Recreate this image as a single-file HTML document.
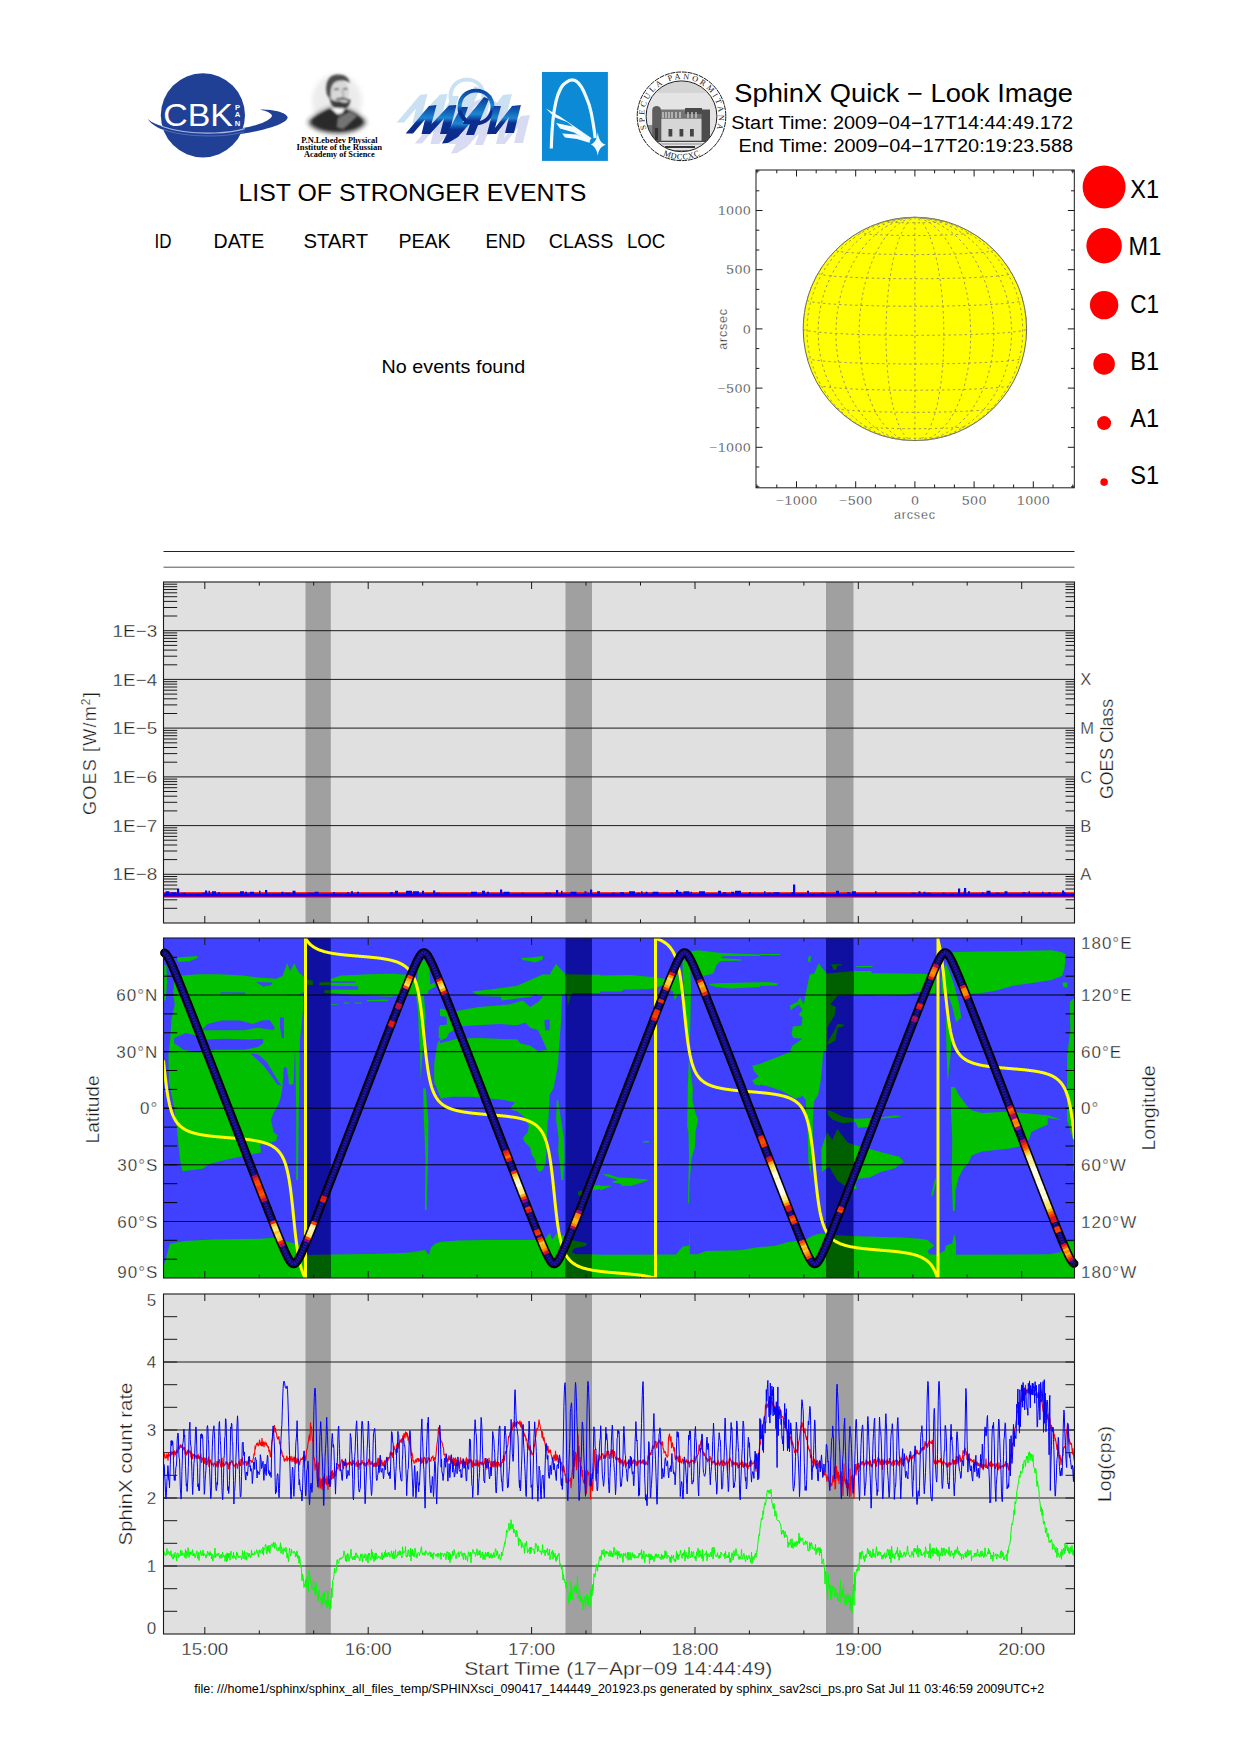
<!DOCTYPE html><html><head><meta charset="utf-8"><title>SphinX Quick-Look</title>
<style>html,body{margin:0;padding:0;background:#fff}svg{display:block}text{font-family:"Liberation Sans",sans-serif}.s text{font-family:"Liberation Serif",serif}.h{fill:#1c1c1c;stroke:#fff;stroke-width:.3px}</style></head><body>
<svg width="1240" height="1754" viewBox="0 0 1240 1754">
<rect width="1240" height="1754" fill="#fff"/>
<defs><filter id="bl1" x="-20%" y="-20%" width="140%" height="140%"><feGaussianBlur stdDeviation="1.3"/></filter><filter id="bl2" x="-30%" y="-30%" width="160%" height="160%"><feGaussianBlur stdDeviation="2.6"/></filter><filter id="bl0" x="-10%" y="-10%" width="120%" height="120%"><feGaussianBlur stdDeviation="0.5"/></filter><linearGradient id="mg" x1="0" y1="0" x2="0" y2="1"><stop offset="0" stop-color="#0a3a9a"/><stop offset="0.45" stop-color="#1c86d2"/><stop offset="0.62" stop-color="#0b2f92"/><stop offset="1" stop-color="#0a2a86"/></linearGradient></defs>
<circle cx="202.9" cy="115.3" r="42.1" fill="#1f4095"/>
<path d="M147.7,118.5 C152,128 175,136.6 205,136.6 C240,136.6 286,127 287.7,117.5 C286.5,112 272,109.3 260,109.5 C268,111.5 273.5,114 271.5,117 C266,124 245,128.5 230,130 C200,133.5 170,129.5 160,125.5 C152,122.5 149,120.5 147.7,118.5Z" fill="#1f4095"/>
<path d="M161.5,126.2 C175,131 195,133.6 215,133 C228,132.5 238,130.7 244.8,128.6" fill="none" stroke="#a9b8e0" stroke-width="1.1"/>
<path d="M163,129.5 C178,135 200,136.5 218,135.8 C230,135.2 238,133.6 244,131.8" fill="none" stroke="#5d78bd" stroke-width="0.8"/>
<text x="163.2" y="125.6" font-size="30.6" fill="#fff" textLength="69.7" lengthAdjust="spacingAndGlyphs" >CBK</text>
<g font-size="7.6" font-weight="bold" fill="#fff" text-anchor="middle"><text x="237.5" y="109.6">P</text><text x="237.5" y="117.4">A</text><text x="237.5" y="125.5">N</text></g>
<g filter="url(#bl2)"><ellipse cx="337" cy="101" rx="25" ry="27" fill="#ececec"/></g>
<g filter="url(#bl2)"><path d="M308,122 C316,114 326,110 331,108 L346,109 C354,112 361,116 366,122 C362,129 351,133 338,133 C324,133 312,129 308,122Z" fill="#262626"/></g>
<g filter="url(#bl1)"><path d="M312,121 C318,115 326,111.5 331,109 L345,110 C352,112.5 358,116 362,121 C359,126 350,130 338,130 C326,130 316,126 312,121Z" fill="#2a2a2a"/><path d="M338,118 L350,111.5 L357,116 L343,129 L337,127Z" fill="#737373"/><ellipse cx="339" cy="92.5" rx="10" ry="13" fill="#d8d8d8"/><path d="M327,95 C324,83 329,74.5 337,74.5 C344,74 349,77.5 350,83 C346,80 339,79.5 334,83 C331,86 330,92 331,100Z" fill="#4e4e4e"/><path d="M329.5,97 C330,104 334,110 340,110 C346,110 350,106 350.5,100 C347,103.5 343,103 340,101 C336,102 332,101 329.5,97Z" fill="#3c3c3c"/><path d="M334,89.5 L339,89 M343,88.8 L347.5,88.8" stroke="#3a3a3a" stroke-width="1.4" fill="none"/><path d="M342,90 L344,97 L341,98" stroke="#8a8a8a" stroke-width="1" fill="none"/><path d="M336,99.5 C340,98 345,98.5 350,100.5" stroke="#333" stroke-width="1.6" fill="none"/><path d="M330,107.5 L337,114 L342,113.5 L345,108.5Z" fill="#f6f6f6"/><path d="M337,114 L340,119 L343,113.5Z" fill="#555"/></g>
<g class="s" font-weight="bold" font-size="8.6"><text x="301.3" y="142.8" textLength="76.2" lengthAdjust="spacingAndGlyphs">P.N.Lebedev Physical</text><text x="296.5" y="149.8" textLength="85.5" lengthAdjust="spacingAndGlyphs">Institute of the Russian</text><text x="304" y="157" textLength="70.7" lengthAdjust="spacingAndGlyphs">Academy of Science</text></g>
<g filter="url(#bl0)"><g transform="translate(-9,-11)" fill="#c0dcf0" stroke="none" opacity="0.85"><path d="M405.7,133.5 L429,106 L436.5,105 L431.5,124 L449,105.5 L456.5,105 L449,134 L440,134 L444,118.5 L430,134 L421.5,134 L425,119.5 L413,133.5Z"/><path d="M461,107 L468,107 L462,125 L476,109 L480,112 L458,137 L448,143 L442,143.5Z"/><path d="M476,88.7 C487,88.7 494.6,96.5 494.6,106.8 C494.6,118 486,125.5 475.5,125.5 C465,125.5 457.5,117.5 457.5,107 C457.5,96.5 465,88.7 476,88.7Z M476,92.6 C467.5,92.6 461.6,98.8 461.6,107 C461.6,115.2 467.5,121.6 475.5,121.6 C484,121.6 490.5,115.6 490.5,106.8 C490.5,98.6 484.5,92.6 476,92.6Z" fill-rule="evenodd"/><path d="M484,97 L489,99 L474,135 L466,135 L470,124 L462,124 Z"/><path d="M494,106 L501,106 L495,128 L512,106 L520.9,105 L514,133 L505,133 L509,117 L496,134 L487,134Z"/></g><g transform="translate(9,10)" fill="#d2d5f0" stroke="none" opacity="0.85"><path d="M405.7,133.5 L429,106 L436.5,105 L431.5,124 L449,105.5 L456.5,105 L449,134 L440,134 L444,118.5 L430,134 L421.5,134 L425,119.5 L413,133.5Z"/><path d="M461,107 L468,107 L462,125 L476,109 L480,112 L458,137 L448,143 L442,143.5Z"/><path d="M476,88.7 C487,88.7 494.6,96.5 494.6,106.8 C494.6,118 486,125.5 475.5,125.5 C465,125.5 457.5,117.5 457.5,107 C457.5,96.5 465,88.7 476,88.7Z M476,92.6 C467.5,92.6 461.6,98.8 461.6,107 C461.6,115.2 467.5,121.6 475.5,121.6 C484,121.6 490.5,115.6 490.5,106.8 C490.5,98.6 484.5,92.6 476,92.6Z" fill-rule="evenodd"/><path d="M484,97 L489,99 L474,135 L466,135 L470,124 L462,124 Z"/><path d="M494,106 L501,106 L495,128 L512,106 L520.9,105 L514,133 L505,133 L509,117 L496,134 L487,134Z"/></g></g>
<g transform="translate(0,0)" fill="url(#mg)" stroke="none" opacity="1"><path d="M405.7,133.5 L429,106 L436.5,105 L431.5,124 L449,105.5 L456.5,105 L449,134 L440,134 L444,118.5 L430,134 L421.5,134 L425,119.5 L413,133.5Z"/><path d="M461,107 L468,107 L462,125 L476,109 L480,112 L458,137 L448,143 L442,143.5Z"/><path d="M476,88.7 C487,88.7 494.6,96.5 494.6,106.8 C494.6,118 486,125.5 475.5,125.5 C465,125.5 457.5,117.5 457.5,107 C457.5,96.5 465,88.7 476,88.7Z M476,92.6 C467.5,92.6 461.6,98.8 461.6,107 C461.6,115.2 467.5,121.6 475.5,121.6 C484,121.6 490.5,115.6 490.5,106.8 C490.5,98.6 484.5,92.6 476,92.6Z" fill-rule="evenodd"/><path d="M484,97 L489,99 L474,135 L466,135 L470,124 L462,124 Z"/><path d="M494,106 L501,106 L495,128 L512,106 L520.9,105 L514,133 L505,133 L509,117 L496,134 L487,134Z"/></g>
<rect x="542" y="72" width="65.9" height="88.9" fill="#0c8ad6"/>
<path d="M551.3,148.5 C551.5,140 551.8,135 552.1,130.3 C552.6,122 553.8,111 556,101.3 C558,93 562,84.5 566.2,82.4 C569,80.3 571,79.9 572,79.9 C574,79.9 576,80.6 577.8,82.4 C580.5,85 582.6,88.7 584.3,92.6 C586.3,97 588,101.5 589.4,105.6 C591,111 592.2,117 593.1,123.1 C594,128.5 594.7,133.5 595.2,138" fill="none" stroke="#f2fbff" stroke-width="3.2" stroke-linecap="butt"/>
<path d="M545.9,108.5 L560,116.5 L591.6,138.3 L590,139.8 L567,122 L554.6,117.3Z M556,123 L575,127 L590.5,139.5 L589.5,141.3 L574,132.6 L560,128.6Z M562.2,133.6 L577,134.5 L590,141 L589.5,142.8 L577,139 L565,137.6Z" fill="#f2fbff"/>
<path d="M597.8,132.1 C598.6,139 600.5,143 605.8,144.8 C600.5,146.6 598.8,150 597.8,155.7 C596.8,150 595,146.5 590.9,144.5 C595,142.8 597,139 597.8,132.1Z" fill="#f2fbff"/>
<circle cx="681.5" cy="116.3" r="44.3" fill="#fff" stroke="#1a1a1a" stroke-width="1" stroke-dasharray="5,0.8"/>
<defs><clipPath id="sc"><circle cx="681.5" cy="116.3" r="35.3"/></clipPath><path id="sp1" d="M647.0,130.2 A37.2,37.2 0 1 1 716.0,130.2"/><path id="sp2" d="M661.3,154.3 A43.0,43.0 0 0 0 701.7,154.3"/></defs>
<g clip-path="url(#sc)"><rect x="640" y="75" width="84" height="84" fill="#e4e4e4"/><rect x="640" y="75" width="84" height="18" fill="#d4d4d4"/><rect x="646" y="125" width="8" height="17" fill="#8a8a8a"/><path d="M652.2,141 V110 C652.2,104.5 661,104.5 661,110 V141Z" fill="#5e5e5e"/><rect x="661" y="109.5" width="41" height="10" fill="#747474"/><rect x="685" y="108" width="17" height="6" fill="#4a4a4a"/><rect x="701.8" y="109.5" width="8.2" height="31.5" fill="#4c4c4c"/><rect x="661" y="118.2" width="40.8" height="22.8" fill="#d6d6d6" stroke="#555" stroke-width="0.6"/><path d="M663,112v6M666,112v6M669,112v6M672,112v6M676,112v6M680,112v6M688,112v6M692,112v6M696,112v6" stroke="#ddd" stroke-width="1.2"/><rect x="668.5" y="129" width="3.8" height="7.5" fill="#444"/><rect x="679.5" y="129" width="3.8" height="7.5" fill="#444"/><rect x="690" y="129" width="3.8" height="7.5" fill="#444"/><rect x="655" y="128" width="3" height="12" fill="#333"/><rect x="640" y="141" width="84" height="1" fill="#444"/><rect x="640" y="143.6" width="84" height="0.8" fill="#777"/><rect x="665" y="146" width="30" height="2" fill="#333"/><rect x="668" y="150" width="24" height="1" fill="#888"/></g>
<circle cx="681.5" cy="116.3" r="35.4" fill="none" stroke="#222" stroke-width="1"/>
<g class="s" font-size="8.2" fill="#111"><text><textPath href="#sp1" startOffset="50%" text-anchor="middle" textLength="142" lengthAdjust="spacing">SPECULA PANORMITANA</textPath></text><text><textPath href="#sp2" startOffset="50%" text-anchor="middle" textLength="38" lengthAdjust="spacing">MDCCXC</textPath></text></g>
<text x="734.3" y="102.2" font-size="25" fill="#000" textLength="338.7" lengthAdjust="spacingAndGlyphs" >SphinX Quick − Look Image</text>
<text x="731.3" y="129.1" font-size="18" fill="#000" textLength="341.7" lengthAdjust="spacingAndGlyphs" >Start Time: 2009−04−17T14:44:49.172</text>
<text x="738.5" y="152" font-size="18" fill="#000" textLength="334.5" lengthAdjust="spacingAndGlyphs" >End Time: 2009−04−17T20:19:23.588</text>
<text x="238.5" y="200.7" font-size="24" fill="#000" textLength="347.8" lengthAdjust="spacingAndGlyphs" >LIST OF STRONGER EVENTS</text>
<text x="154.5" y="247.7" font-size="20" fill="#000" textLength="17" lengthAdjust="spacingAndGlyphs" >ID</text>
<text x="213.6" y="247.7" font-size="20" fill="#000" textLength="50.6" lengthAdjust="spacingAndGlyphs" >DATE</text>
<text x="303.5" y="247.7" font-size="20" fill="#000" textLength="64.5" lengthAdjust="spacingAndGlyphs" >START</text>
<text x="398.4" y="247.7" font-size="20" fill="#000" textLength="52.3" lengthAdjust="spacingAndGlyphs" >PEAK</text>
<text x="485.5" y="247.7" font-size="20" fill="#000" textLength="39.8" lengthAdjust="spacingAndGlyphs" >END</text>
<text x="548.8" y="247.7" font-size="20" fill="#000" textLength="64.5" lengthAdjust="spacingAndGlyphs" >CLASS</text>
<text x="626.9" y="247.7" font-size="20" fill="#000" textLength="38.4" lengthAdjust="spacingAndGlyphs" >LOC</text>
<text x="381.6" y="373.3" font-size="19" fill="#000" textLength="143.7" lengthAdjust="spacingAndGlyphs" >No events found</text>
<rect x="756.0" y="170.0" width="318.29999999999995" height="317.8" fill="#fff" stroke="#1a1a1a" stroke-width="1"/>
<path d="M757.0,487.8v-3.3M757.0,170.0v3.3M756.0,486.8h3.3M1074.3,486.8h-3.3M776.8,487.8v-3.3M776.8,170.0v3.3M756.0,467.0h3.3M1074.3,467.0h-3.3M796.5,487.8v-6.5M796.5,170.0v6.5M756.0,447.3h6.5M1074.3,447.3h-6.5M816.2,487.8v-3.3M816.2,170.0v3.3M756.0,427.6h3.3M1074.3,427.6h-3.3M836.0,487.8v-3.3M836.0,170.0v3.3M756.0,407.8h3.3M1074.3,407.8h-3.3M855.7,487.8v-6.5M855.7,170.0v6.5M756.0,388.1h6.5M1074.3,388.1h-6.5M875.4,487.8v-3.3M875.4,170.0v3.3M756.0,368.4h3.3M1074.3,368.4h-3.3M895.2,487.8v-3.3M895.2,170.0v3.3M756.0,348.6h3.3M1074.3,348.6h-3.3M914.9,487.8v-6.5M914.9,170.0v6.5M756.0,328.9h6.5M1074.3,328.9h-6.5M934.6,487.8v-3.3M934.6,170.0v3.3M756.0,309.2h3.3M1074.3,309.2h-3.3M954.4,487.8v-3.3M954.4,170.0v3.3M756.0,289.4h3.3M1074.3,289.4h-3.3M974.1,487.8v-6.5M974.1,170.0v6.5M756.0,269.7h6.5M1074.3,269.7h-6.5M993.8,487.8v-3.3M993.8,170.0v3.3M756.0,250.0h3.3M1074.3,250.0h-3.3M1013.6,487.8v-3.3M1013.6,170.0v3.3M756.0,230.2h3.3M1074.3,230.2h-3.3M1033.3,487.8v-6.5M1033.3,170.0v6.5M756.0,210.5h6.5M1074.3,210.5h-6.5M1053.0,487.8v-3.3M1053.0,170.0v3.3M756.0,190.8h3.3M1074.3,190.8h-3.3M1072.8,487.8v-3.3M1072.8,170.0v3.3M756.0,171.0h3.3M1074.3,171.0h-3.3" stroke="#1a1a1a" stroke-width="1" fill="none"/>
<circle cx="914.9" cy="328.9" r="111.7" fill="#ffff00" stroke="#555" stroke-width="0.9"/>
<path d="M886.8,437.0L887.4,437.1L888.1,437.2L888.9,437.3L889.9,437.4L890.9,437.5L892.1,437.6L893.4,437.7L894.8,437.8L896.3,437.9L897.9,438.0L899.6,438.0L901.3,438.1L903.1,438.1L905.0,438.2L906.9,438.2L908.9,438.2L910.9,438.3L912.9,438.3L914.9,438.3L916.9,438.3L918.9,438.3L920.9,438.2L922.9,438.2L924.8,438.2L926.7,438.1L928.5,438.1L930.2,438.0L931.9,438.0L933.5,437.9L935.0,437.8L936.4,437.7L937.7,437.6L938.9,437.5L939.9,437.4L940.9,437.3L941.7,437.2L942.4,437.1L943.0,437.0M859.4,425.8L859.9,426.0L860.7,426.3L861.8,426.5L863.1,426.7L864.7,426.9L866.5,427.1L868.6,427.3L870.9,427.5L873.4,427.6L876.1,427.8L879.0,427.9L882.1,428.1L885.3,428.2L888.7,428.3L892.2,428.4L895.8,428.5L899.5,428.6L903.3,428.6L907.1,428.7L911.0,428.7L914.9,428.7L918.8,428.7L922.7,428.7L926.5,428.6L930.3,428.6L934.0,428.5L937.6,428.4L941.1,428.3L944.5,428.2L947.7,428.1L950.8,427.9L953.7,427.8L956.4,427.6L958.9,427.5L961.2,427.3L963.3,427.1L965.1,426.9L966.7,426.7L968.0,426.5L969.1,426.3L969.9,426.0L970.4,425.8M836.3,408.2L837.1,408.5L838.3,408.9L839.8,409.2L841.7,409.5L843.9,409.7L846.5,410.0L849.4,410.3L852.7,410.6L856.2,410.8L860.0,411.0L864.1,411.2L868.5,411.4L873.0,411.6L877.8,411.8L882.8,411.9L887.9,412.0L893.1,412.1L898.5,412.2L903.9,412.3L909.4,412.3L914.9,412.3L920.4,412.3L925.9,412.3L931.3,412.2L936.7,412.1L941.9,412.0L947.0,411.9L952.0,411.8L956.8,411.6L961.3,411.4L965.7,411.2L969.8,411.0L973.6,410.8L977.1,410.6L980.4,410.3L983.3,410.0L985.9,409.7L988.1,409.5L990.0,409.2L991.5,408.9L992.7,408.5L993.5,408.2M818.2,384.9L818.7,385.2L819.6,385.6L821.0,386.0L822.9,386.4L825.2,386.7L828.0,387.1L831.1,387.4L834.7,387.8L838.7,388.1L843.0,388.4L847.7,388.7L852.7,388.9L858.0,389.2L863.6,389.4L869.5,389.6L875.6,389.7L881.8,389.9L888.2,390.0L894.8,390.1L901.4,390.2L908.2,390.2L914.9,390.2L921.6,390.2L928.4,390.2L935.0,390.1L941.6,390.0L948.0,389.9L954.2,389.7L960.3,389.6L966.2,389.4L971.8,389.2L977.1,388.9L982.1,388.7L986.8,388.4L991.1,388.1L995.1,387.8L998.7,387.4L1001.8,387.1L1004.6,386.7L1006.9,386.4L1008.8,386.0L1010.2,385.6L1011.1,385.2L1011.6,384.9M807.1,358.0L807.6,358.4L808.6,358.8L810.2,359.3L812.3,359.7L814.9,360.1L817.9,360.5L821.5,360.9L825.5,361.2L829.9,361.6L834.7,361.9L840.0,362.2L845.5,362.5L851.5,362.8L857.7,363.0L864.2,363.2L871.0,363.4L878.0,363.6L885.2,363.7L892.5,363.8L899.9,363.9L907.4,364.0L914.9,364.0L922.4,364.0L929.9,363.9L937.3,363.8L944.6,363.7L951.8,363.6L958.8,363.4L965.6,363.2L972.1,363.0L978.3,362.8L984.3,362.5L989.8,362.2L995.1,361.9L999.9,361.6L1004.3,361.2L1008.3,360.9L1011.9,360.5L1014.9,360.1L1017.5,359.7L1019.6,359.3L1021.2,358.8L1022.2,358.4L1022.7,358.0M803.3,329.1L803.8,329.6L804.9,330.0L806.5,330.5L808.7,330.9L811.3,331.3L814.5,331.7L818.2,332.1L822.3,332.5L826.9,332.9L831.9,333.2L837.3,333.5L843.1,333.8L849.2,334.1L855.7,334.4L862.5,334.6L869.5,334.8L876.7,334.9L884.1,335.1L891.7,335.2L899.4,335.3L907.1,335.3L914.9,335.3L922.7,335.3L930.4,335.3L938.1,335.2L945.7,335.1L953.1,334.9L960.3,334.8L967.3,334.6L974.1,334.4L980.6,334.1L986.7,333.8L992.5,333.5L997.9,333.2L1002.9,332.9L1007.5,332.5L1011.6,332.1L1015.3,331.7L1018.5,331.3L1021.1,330.9L1023.3,330.5L1024.9,330.0L1026.0,329.6L1026.5,329.1M807.1,300.3L807.6,300.7L808.6,301.1L810.2,301.5L812.3,302.0L814.9,302.4L817.9,302.8L821.5,303.1L825.5,303.5L829.9,303.9L834.7,304.2L840.0,304.5L845.5,304.8L851.5,305.1L857.7,305.3L864.2,305.5L871.0,305.7L878.0,305.9L885.2,306.0L892.5,306.1L899.9,306.2L907.4,306.2L914.9,306.2L922.4,306.2L929.9,306.2L937.3,306.1L944.6,306.0L951.8,305.9L958.8,305.7L965.6,305.5L972.1,305.3L978.3,305.1L984.3,304.8L989.8,304.5L995.1,304.2L999.9,303.9L1004.3,303.5L1008.3,303.1L1011.9,302.8L1014.9,302.4L1017.5,302.0L1019.6,301.5L1021.2,301.1L1022.2,300.7L1022.7,300.3M818.2,273.3L818.7,273.7L819.6,274.1L821.0,274.5L822.9,274.9L825.2,275.2L828.0,275.6L831.1,275.9L834.7,276.3L838.7,276.6L843.0,276.9L847.7,277.1L852.7,277.4L858.0,277.6L863.6,277.9L869.5,278.1L875.6,278.2L881.8,278.4L888.2,278.5L894.8,278.6L901.4,278.7L908.2,278.7L914.9,278.7L921.6,278.7L928.4,278.7L935.0,278.6L941.6,278.5L948.0,278.4L954.2,278.2L960.3,278.1L966.2,277.9L971.8,277.6L977.1,277.4L982.1,277.1L986.8,276.9L991.1,276.6L995.1,276.3L998.7,275.9L1001.8,275.6L1004.6,275.2L1006.9,274.9L1008.8,274.5L1010.2,274.1L1011.1,273.7L1011.6,273.3M836.0,249.9L836.0,250.2L836.3,250.5L837.1,250.8L838.3,251.1L839.8,251.5L841.7,251.8L843.9,252.0L846.5,252.3L849.4,252.6L852.7,252.8L856.2,253.1L860.0,253.3L864.1,253.5L868.5,253.7L873.0,253.9L877.8,254.1L882.8,254.2L887.9,254.3L893.1,254.4L898.5,254.5L903.9,254.5L909.4,254.6L914.9,254.6L920.4,254.6L925.9,254.5L931.3,254.5L936.7,254.4L941.9,254.3L947.0,254.2L952.0,254.1L956.8,253.9L961.3,253.7L965.7,253.5L969.8,253.3L973.6,253.1L977.1,252.8L980.4,252.6L983.3,252.3L985.9,252.0L988.1,251.8L990.0,251.5L991.5,251.1L992.7,250.8L993.5,250.5L993.8,250.2L993.8,249.9M859.1,232.2L859.1,232.4L859.4,232.7L859.9,232.9L860.7,233.1L861.8,233.3L863.1,233.5L864.7,233.7L866.5,233.9L868.6,234.1L870.9,234.3L873.4,234.5L876.1,234.6L879.0,234.8L882.1,234.9L885.3,235.1L888.7,235.2L892.2,235.3L895.8,235.3L899.5,235.4L903.3,235.5L907.1,235.5L911.0,235.5L914.9,235.5L918.8,235.5L922.7,235.5L926.5,235.5L930.3,235.4L934.0,235.3L937.6,235.3L941.1,235.2L944.5,235.1L947.7,234.9L950.8,234.8L953.7,234.6L956.4,234.5L958.9,234.3L961.2,234.1L963.3,233.9L965.1,233.7L966.7,233.5L968.0,233.3L969.1,233.1L969.9,232.9L970.4,232.7L970.7,232.4L970.7,232.2M886.4,220.9L886.1,221.0L886.0,221.1L886.0,221.2L886.1,221.4L886.4,221.5L886.8,221.6L887.4,221.7L888.1,221.8L888.9,221.9L889.9,222.0L890.9,222.1L892.1,222.2L893.4,222.3L894.8,222.4L896.3,222.5L897.9,222.5L899.6,222.6L901.3,222.7L903.1,222.7L905.0,222.7L906.9,222.8L908.9,222.8L910.9,222.8L912.9,222.8L914.9,222.8L916.9,222.8L918.9,222.8L920.9,222.8L922.9,222.8L924.8,222.7L926.7,222.7L928.5,222.7L930.2,222.6L931.9,222.5L933.5,222.5L935.0,222.4L936.4,222.3L937.7,222.2L938.9,222.1L939.9,222.0L940.9,221.9L941.7,221.8L942.4,221.7L943.0,221.6L943.4,221.5L943.7,221.4L943.8,221.2L943.8,221.1L943.7,221.0L943.4,220.9M803.3,325.0L803.8,317.2L804.9,309.5L806.5,301.9L808.7,294.4L811.3,287.1L814.5,280.0L818.2,273.1L822.3,266.5L826.9,260.2L831.9,254.3L837.3,248.7L843.1,243.5L849.2,238.7L855.7,234.3L862.5,230.4L869.5,227.0L876.7,224.1L884.1,221.7L891.7,219.8L899.4,218.5L907.1,217.7L914.9,217.4M885.2,436.6L878.0,434.3L871.0,431.5L864.2,428.1L857.7,424.4L851.5,420.1L845.5,415.4L840.0,410.3L834.7,404.8L829.9,398.9L825.5,392.6L821.5,386.1L817.9,379.3L814.9,372.2L812.3,364.9L810.2,357.5L808.6,349.9L807.6,342.2L807.1,334.5L807.1,326.7L807.6,318.9L808.6,311.2L810.2,303.5L812.3,296.0L814.9,288.7L817.9,281.5L821.5,274.6L825.5,267.9L829.9,261.6L834.7,255.5L840.0,249.8L845.5,244.5L851.5,239.7L857.7,235.2L864.2,231.2L871.0,227.7L878.0,224.7L885.2,222.2L892.5,220.2L899.9,218.7L907.4,217.8L914.9,217.4M901.4,439.8L894.8,438.6L888.2,437.0L881.8,434.8L875.6,432.1L869.5,428.9L863.6,425.2L858.0,421.0L852.7,416.4L847.7,411.4L843.0,405.9L838.7,400.1L834.7,393.9L831.1,387.4L828.0,380.7L825.2,373.7L822.9,366.4L821.0,359.0L819.6,351.4L818.7,343.8L818.2,336.0L818.2,328.2L818.7,320.4L819.6,312.7L821.0,305.0L822.9,297.5L825.2,290.1L828.0,282.9L831.1,275.9L834.7,269.2L838.7,262.8L843.0,256.7L847.7,250.9L852.7,245.5L858.0,240.6L863.6,236.0L869.5,231.9L875.6,228.3L881.8,225.2L888.2,222.6L894.8,220.5L901.4,218.9L908.2,217.9L914.9,217.4M903.9,440.0L898.5,438.9L893.1,437.3L887.9,435.2L882.8,432.6L877.8,429.5L873.0,425.9L868.5,421.8L864.1,417.2L860.0,412.3L856.2,406.9L852.7,401.1L849.4,395.0L846.5,388.6L843.9,381.9L841.7,374.9L839.8,367.7L838.3,360.3L837.1,352.7L836.3,345.1L836.0,337.3L836.0,329.6L836.3,321.8L837.1,314.0L838.3,306.3L839.8,298.8L841.7,291.3L843.9,284.1L846.5,277.1L849.4,270.3L852.7,263.8L856.2,257.7L860.0,251.8L864.1,246.4L868.5,241.4L873.0,236.7L877.8,232.6L882.8,228.9L887.9,225.7L893.1,223.0L898.5,220.8L903.9,219.1L909.4,218.0L914.9,217.4M911.0,440.5L907.1,440.1L903.3,439.1L899.5,437.6L895.8,435.6L892.2,433.0L888.7,430.0L885.3,426.4L882.1,422.4L879.0,417.9L876.1,413.0L873.4,407.7L870.9,401.9L868.6,395.9L866.5,389.5L864.7,382.8L863.1,375.8L861.8,368.7L860.7,361.3L859.9,353.7L859.4,346.1L859.1,338.4L859.1,330.6L859.4,322.8L859.9,315.0L860.7,307.3L861.8,299.7L863.1,292.3L864.7,285.0L866.5,278.0L868.6,271.2L870.9,264.6L873.4,258.4L876.1,252.6L879.0,247.1L882.1,242.0L885.3,237.3L888.7,233.1L892.2,229.3L895.8,226.0L899.5,223.2L903.3,221.0L907.1,219.2L911.0,218.0L914.9,217.4M912.9,440.6L910.9,440.2L908.9,439.3L906.9,437.8L905.0,435.8L903.1,433.3L901.3,430.3L899.6,426.8L897.9,422.8L896.3,418.3L894.8,413.4L893.4,408.1L892.1,402.4L890.9,396.4L889.9,390.0L888.9,383.4L888.1,376.4L887.4,369.3L886.8,361.9L886.4,354.4L886.1,346.7L886.0,339.0L886.0,331.2L886.1,323.4L886.4,315.7L886.8,307.9L887.4,300.3L888.1,292.9L888.9,285.6L889.9,278.5L890.9,271.7L892.1,265.1L893.4,258.9L894.8,253.0L896.3,247.5L897.9,242.3L899.6,237.6L901.3,233.4L903.1,229.6L905.0,226.2L906.9,223.4L908.9,221.1L910.9,219.3L912.9,218.1L914.9,217.4M914.9,440.6L914.9,440.2L914.9,439.3L914.9,437.9L914.9,435.9L914.9,433.4L914.9,430.4L914.9,426.9L914.9,422.9L914.9,418.5L914.9,413.6L914.9,408.3L914.9,402.6L914.9,396.6L914.9,390.2L914.9,383.6L914.9,376.6L914.9,369.5L914.9,362.1L914.9,354.6L914.9,347.0L914.9,339.2L914.9,331.4L914.9,323.6L914.9,315.9L914.9,308.2L914.9,300.6L914.9,293.1L914.9,285.8L914.9,278.7L914.9,271.9L914.9,265.3L914.9,259.1L914.9,253.1L914.9,247.6L914.9,242.5L914.9,237.7L914.9,233.5L914.9,229.6L914.9,226.3L914.9,223.5L914.9,221.2L914.9,219.4L914.9,218.1L914.9,217.4M916.9,440.6L918.9,440.2L920.9,439.3L922.9,437.8L924.8,435.8L926.7,433.3L928.5,430.3L930.2,426.8L931.9,422.8L933.5,418.3L935.0,413.4L936.4,408.1L937.7,402.4L938.9,396.4L939.9,390.0L940.9,383.4L941.7,376.4L942.4,369.3L943.0,361.9L943.4,354.4L943.7,346.7L943.8,339.0L943.8,331.2L943.7,323.4L943.4,315.7L943.0,307.9L942.4,300.3L941.7,292.9L940.9,285.6L939.9,278.5L938.9,271.7L937.7,265.1L936.4,258.9L935.0,253.0L933.5,247.5L931.9,242.3L930.2,237.6L928.5,233.4L926.7,229.6L924.8,226.2L922.9,223.4L920.9,221.1L918.9,219.3L916.9,218.1L914.9,217.4M918.8,440.5L922.7,440.1L926.5,439.1L930.3,437.6L934.0,435.6L937.6,433.0L941.1,430.0L944.5,426.4L947.7,422.4L950.8,417.9L953.7,413.0L956.4,407.7L958.9,401.9L961.2,395.9L963.3,389.5L965.1,382.8L966.7,375.8L968.0,368.7L969.1,361.3L969.9,353.7L970.4,346.1L970.7,338.4L970.7,330.6L970.4,322.8L969.9,315.0L969.1,307.3L968.0,299.7L966.7,292.3L965.1,285.0L963.3,278.0L961.2,271.2L958.9,264.6L956.4,258.4L953.7,252.6L950.8,247.1L947.7,242.0L944.5,237.3L941.1,233.1L937.6,229.3L934.0,226.0L930.3,223.2L926.5,221.0L922.7,219.2L918.8,218.0L914.9,217.4M925.9,440.0L931.3,438.9L936.7,437.3L941.9,435.2L947.0,432.6L952.0,429.5L956.8,425.9L961.3,421.8L965.7,417.2L969.8,412.3L973.6,406.9L977.1,401.1L980.4,395.0L983.3,388.6L985.9,381.9L988.1,374.9L990.0,367.7L991.5,360.3L992.7,352.7L993.5,345.1L993.8,337.3L993.8,329.6L993.5,321.8L992.7,314.0L991.5,306.3L990.0,298.8L988.1,291.3L985.9,284.1L983.3,277.1L980.4,270.3L977.1,263.8L973.6,257.7L969.8,251.8L965.7,246.4L961.3,241.4L956.8,236.7L952.0,232.6L947.0,228.9L941.9,225.7L936.7,223.0L931.3,220.8L925.9,219.1L920.4,218.0L914.9,217.4M928.4,439.8L935.0,438.6L941.6,437.0L948.0,434.8L954.2,432.1L960.3,428.9L966.2,425.2L971.8,421.0L977.1,416.4L982.1,411.4L986.8,405.9L991.1,400.1L995.1,393.9L998.7,387.4L1001.8,380.7L1004.6,373.7L1006.9,366.4L1008.8,359.0L1010.2,351.4L1011.1,343.8L1011.6,336.0L1011.6,328.2L1011.1,320.4L1010.2,312.7L1008.8,305.0L1006.9,297.5L1004.6,290.1L1001.8,282.9L998.7,275.9L995.1,269.2L991.1,262.8L986.8,256.7L982.1,250.9L977.1,245.5L971.8,240.6L966.2,236.0L960.3,231.9L954.2,228.3L948.0,225.2L941.6,222.6L935.0,220.5L928.4,218.9L921.6,217.9L914.9,217.4M944.6,436.6L951.8,434.3L958.8,431.5L965.6,428.1L972.1,424.4L978.3,420.1L984.3,415.4L989.8,410.3L995.1,404.8L999.9,398.9L1004.3,392.6L1008.3,386.1L1011.9,379.3L1014.9,372.2L1017.5,364.9L1019.6,357.5L1021.2,349.9L1022.2,342.2L1022.7,334.5L1022.7,326.7L1022.2,318.9L1021.2,311.2L1019.6,303.5L1017.5,296.0L1014.9,288.7L1011.9,281.5L1008.3,274.6L1004.3,267.9L999.9,261.6L995.1,255.5L989.8,249.8L984.3,244.5L978.3,239.7L972.1,235.2L965.6,231.2L958.8,227.7L951.8,224.7L944.6,222.2L937.3,220.2L929.9,218.7L922.4,217.8L914.9,217.4M1026.5,325.0L1026.0,317.2L1024.9,309.5L1023.3,301.9L1021.1,294.4L1018.5,287.1L1015.3,280.0L1011.6,273.1L1007.5,266.5L1002.9,260.2L997.9,254.3L992.5,248.7L986.7,243.5L980.6,238.7L974.1,234.3L967.3,230.4L960.3,227.0L953.1,224.1L945.7,221.7L938.1,219.8L930.4,218.5L922.7,217.7L914.9,217.4" fill="none" stroke="#8c8c70" stroke-width="0.9" stroke-dasharray="2.4,3"/>
<text x="751.3" y="215.2" font-size="13.5" class="h" text-anchor="end" letter-spacing="0.8">1000</text>
<text x="1033.7" y="504.8" font-size="13.5" class="h" text-anchor="middle" letter-spacing="0.8">1000</text>
<text x="751.3" y="274.4" font-size="13.5" class="h" text-anchor="end" letter-spacing="0.8">500</text>
<text x="974.5" y="504.8" font-size="13.5" class="h" text-anchor="middle" letter-spacing="0.8">500</text>
<text x="751.3" y="333.6" font-size="13.5" class="h" text-anchor="end" letter-spacing="0.8">0</text>
<text x="915.3" y="504.8" font-size="13.5" class="h" text-anchor="middle" letter-spacing="0.8">0</text>
<text x="751.3" y="392.8" font-size="13.5" class="h" text-anchor="end" letter-spacing="0.8">−500</text>
<text x="856.1" y="504.8" font-size="13.5" class="h" text-anchor="middle" letter-spacing="0.8">−500</text>
<text x="751.3" y="452" font-size="13.5" class="h" text-anchor="end" letter-spacing="0.8">−1000</text>
<text x="796.9" y="504.8" font-size="13.5" class="h" text-anchor="middle" letter-spacing="0.8">−1000</text>
<text x="914.9" y="518.5" font-size="12.5" class="h" text-anchor="middle" letter-spacing="0.8">arcsec</text>
<text x="727.5" y="328.9" font-size="12.5" class="h" text-anchor="middle" transform="rotate(-90 727.5 328.9)" letter-spacing="0.8">arcsec</text>
<circle cx="1104.1" cy="186.9" r="21.5" fill="#ff0000"/>
<text x="1130.2" y="198.2" font-size="25" fill="#000" textLength="28.8" lengthAdjust="spacingAndGlyphs" >X1</text>
<circle cx="1104.1" cy="245.7" r="17.75" fill="#ff0000"/>
<text x="1128.6" y="255.1" font-size="25" fill="#000" textLength="32.6" lengthAdjust="spacingAndGlyphs" >M1</text>
<circle cx="1104.1" cy="305.1" r="14.2" fill="#ff0000"/>
<text x="1130.2" y="313.1" font-size="25" fill="#000" textLength="28.8" lengthAdjust="spacingAndGlyphs" >C1</text>
<circle cx="1104.1" cy="363.9" r="10.8" fill="#ff0000"/>
<text x="1130.2" y="370" font-size="25" fill="#000" textLength="28.8" lengthAdjust="spacingAndGlyphs" >B1</text>
<circle cx="1104.1" cy="423.1" r="7" fill="#ff0000"/>
<text x="1130.2" y="427" font-size="25" fill="#000" textLength="28.8" lengthAdjust="spacingAndGlyphs" >A1</text>
<circle cx="1104.1" cy="482.1" r="3.8" fill="#ff0000"/>
<text x="1130.2" y="483.5" font-size="25" fill="#000" textLength="28.8" lengthAdjust="spacingAndGlyphs" >S1</text>
<path d="M163.5,551.5H1074.5" stroke="#222" stroke-width="1"/><path d="M163.5,567.2H1074.5" stroke="#555" stroke-width="1"/>
<rect x="163.5" y="582.0" width="911.0" height="341.0" fill="#e0e0e0"/>
<rect x="305.5" y="582.0" width="25.3" height="341.0" fill="#a0a0a0"/><rect x="565.5" y="582.0" width="26.5" height="341.0" fill="#a0a0a0"/><rect x="826.0" y="582.0" width="27.5" height="341.0" fill="#a0a0a0"/>
<path d="M163.5,616.0h13.7M1074.5,616.0h-9M163.5,607.5h13.7M1074.5,607.5h-9M163.5,601.4h13.7M1074.5,601.4h-9M163.5,596.7h13.7M1074.5,596.7h-9M163.5,592.8h13.7M1074.5,592.8h-9M163.5,589.5h13.7M1074.5,589.5h-9M163.5,586.7h13.7M1074.5,586.7h-9M163.5,584.2h13.7M1074.5,584.2h-9M163.5,630.7H1074.5M163.5,664.8h13.7M1074.5,664.8h-9M163.5,656.2h13.7M1074.5,656.2h-9M163.5,650.1h13.7M1074.5,650.1h-9M163.5,645.4h13.7M1074.5,645.4h-9M163.5,641.5h13.7M1074.5,641.5h-9M163.5,638.3h13.7M1074.5,638.3h-9M163.5,635.4h13.7M1074.5,635.4h-9M163.5,632.9h13.7M1074.5,632.9h-9M163.5,679.4H1074.5M163.5,713.5h13.7M1074.5,713.5h-9M163.5,704.9h13.7M1074.5,704.9h-9M163.5,698.8h13.7M1074.5,698.8h-9M163.5,694.1h13.7M1074.5,694.1h-9M163.5,690.2h13.7M1074.5,690.2h-9M163.5,687.0h13.7M1074.5,687.0h-9M163.5,684.1h13.7M1074.5,684.1h-9M163.5,681.7h13.7M1074.5,681.7h-9M163.5,728.1H1074.5M163.5,762.2h13.7M1074.5,762.2h-9M163.5,753.6h13.7M1074.5,753.6h-9M163.5,747.5h13.7M1074.5,747.5h-9M163.5,742.8h13.7M1074.5,742.8h-9M163.5,739.0h13.7M1074.5,739.0h-9M163.5,735.7h13.7M1074.5,735.7h-9M163.5,732.9h13.7M1074.5,732.9h-9M163.5,730.4h13.7M1074.5,730.4h-9M163.5,776.9H1074.5M163.5,810.9h13.7M1074.5,810.9h-9M163.5,802.3h13.7M1074.5,802.3h-9M163.5,796.2h13.7M1074.5,796.2h-9M163.5,791.5h13.7M1074.5,791.5h-9M163.5,787.7h13.7M1074.5,787.7h-9M163.5,784.4h13.7M1074.5,784.4h-9M163.5,781.6h13.7M1074.5,781.6h-9M163.5,779.1h13.7M1074.5,779.1h-9M163.5,825.6H1074.5M163.5,859.6h13.7M1074.5,859.6h-9M163.5,851.0h13.7M1074.5,851.0h-9M163.5,845.0h13.7M1074.5,845.0h-9M163.5,840.2h13.7M1074.5,840.2h-9M163.5,836.4h13.7M1074.5,836.4h-9M163.5,833.1h13.7M1074.5,833.1h-9M163.5,830.3h13.7M1074.5,830.3h-9M163.5,827.8h13.7M1074.5,827.8h-9M163.5,874.3H1074.5M163.5,908.3h13.7M1074.5,908.3h-9M163.5,899.8h13.7M1074.5,899.8h-9M163.5,893.7h13.7M1074.5,893.7h-9M163.5,889.0h13.7M1074.5,889.0h-9M163.5,885.1h13.7M1074.5,885.1h-9M163.5,881.8h13.7M1074.5,881.8h-9M163.5,879.0h13.7M1074.5,879.0h-9M163.5,876.5h13.7M1074.5,876.5h-9" stroke="#1a1a1a" stroke-width="1" fill="none"/>
<rect x="163.5" y="892.2" width="911.0" height="5.4" fill="#ff0000"/>
<rect x="163.5" y="893.7" width="911.0" height="2.8" fill="#0000ff"/>
<path d="M165.5,894.5v-3.3h4.0v3.3zM170.5,894.5v-2.3h6.0v2.3zM181.5,894.5v-1.8h4.0v1.8zM202.0,894.5v-1.8h3.0v1.8zM208.5,894.5v-3.8h1.5v3.8zM212.0,894.5v-3.3h4.0v3.3zM218.0,894.5v-2.3h2.0v2.3zM240.0,894.5v-3.3h4.0v3.3zM245.0,894.5v-2.8h2.0v2.8zM250.0,894.5v-2.8h4.0v2.8zM259.0,894.5v-3.8h1.5v3.8zM281.5,894.5v-2.8h2.0v2.8zM284.5,894.5v-1.8h6.0v1.8zM292.5,894.5v-3.8h3.0v3.8zM307.5,894.5v-1.8h6.0v1.8zM314.5,894.5v-2.8h4.0v2.8zM333.0,894.5v-2.3h2.0v2.3zM347.0,894.5v-2.3h2.0v2.3zM351.0,894.5v-3.3h2.0v3.3zM357.0,894.5v-2.8h2.0v2.8zM390.0,894.5v-2.3h3.0v2.3zM395.0,894.5v-3.8h3.0v3.8zM406.0,894.5v-3.8h6.0v3.8zM413.0,894.5v-3.3h6.0v3.3zM422.0,894.5v-3.8h2.0v3.8zM436.0,894.5v-1.8h4.0v1.8zM471.0,894.5v-2.8h6.0v2.8zM482.0,894.5v-3.8h3.0v3.8zM487.0,894.5v-2.8h2.0v2.8zM503.5,894.5v-2.8h6.0v2.8zM521.5,894.5v-1.8h2.0v1.8zM545.0,894.5v-1.8h6.0v1.8zM561.0,894.5v-3.8h1.5v3.8zM570.5,894.5v-2.8h6.0v2.8zM584.5,894.5v-3.3h2.0v3.3zM587.5,894.5v-1.8h1.5v1.8zM597.0,894.5v-3.3h3.0v3.3zM612.0,894.5v-1.8h3.0v1.8zM620.0,894.5v-2.3h4.0v2.3zM629.0,894.5v-3.3h6.0v3.3zM637.0,894.5v-1.8h3.0v1.8zM641.0,894.5v-3.3h1.5v3.3zM645.5,894.5v-2.8h2.0v2.8zM652.5,894.5v-2.8h6.0v2.8zM670.5,894.5v-1.8h3.0v1.8zM675.5,894.5v-2.8h6.0v2.8zM683.5,894.5v-3.3h6.0v3.3zM690.5,894.5v-2.8h1.5v2.8zM699.0,894.5v-3.3h6.0v3.3zM718.0,894.5v-3.8h3.0v3.8zM723.0,894.5v-2.3h3.0v2.3zM731.0,894.5v-2.8h3.0v2.8zM735.0,894.5v-3.8h6.0v3.8zM749.0,894.5v-2.3h2.0v2.3zM764.0,894.5v-3.3h1.5v3.3zM767.5,894.5v-1.8h4.0v1.8zM773.5,894.5v-2.3h6.0v2.3zM791.5,894.5v-2.3h1.5v2.3zM807.0,894.5v-3.8h2.0v3.8zM821.0,894.5v-1.8h3.0v1.8zM836.0,894.5v-3.8h3.0v3.8zM847.0,894.5v-2.3h3.0v2.3zM852.0,894.5v-3.3h4.0v3.3zM875.0,894.5v-3.3h1.5v3.3zM911.5,894.5v-1.8h4.0v1.8zM918.5,894.5v-3.3h2.0v3.3zM923.5,894.5v-2.8h2.0v2.8zM926.5,894.5v-1.8h4.0v1.8zM942.5,894.5v-1.8h2.0v1.8zM963.5,894.5v-3.3h1.5v3.3zM968.0,894.5v-3.3h2.0v3.3zM982.0,894.5v-2.3h1.5v2.3zM986.5,894.5v-3.8h4.0v3.8zM995.5,894.5v-1.8h4.0v1.8zM1004.5,894.5v-3.3h3.0v3.3zM1022.5,894.5v-2.3h3.0v2.3zM1028.5,894.5v-3.3h1.5v3.3zM1042.0,894.5v-2.8h1.5v2.8zM1048.5,894.5v-2.3h2.0v2.3zM1062.5,894.5v-2.3h3.0v2.3zM177.0,894.5v-6.0h2.2v6.0zM265.0,894.5v-4.5h2.2v4.5zM500.0,894.5v-5.0h2.2v5.0zM556.0,894.5v-4.5h2.2v4.5zM590.0,894.5v-5.0h2.2v5.0zM676.0,894.5v-4.5h2.2v4.5zM793.0,894.5v-10.0h2.2v10.0zM958.0,894.5v-6.0h2.2v6.0zM964.0,894.5v-6.5h2.2v6.5zM1062.0,894.5v-4.0h2.2v4.0zM205.0,894.5v-4.0h2.2v4.0zM433.0,894.5v-4.0h2.2v4.0z" fill="#0000ff"/>
<path d="M204.8,582.0v7M204.8,923.0v-7M259.3,582.0v3.6M259.3,923.0v-3.6M313.7,582.0v3.6M313.7,923.0v-3.6M368.2,582.0v7M368.2,923.0v-7M422.7,582.0v3.6M422.7,923.0v-3.6M477.1,582.0v3.6M477.1,923.0v-3.6M531.6,582.0v7M531.6,923.0v-7M586.0,582.0v3.6M586.0,923.0v-3.6M640.5,582.0v3.6M640.5,923.0v-3.6M695.0,582.0v7M695.0,923.0v-7M749.4,582.0v3.6M749.4,923.0v-3.6M803.9,582.0v3.6M803.9,923.0v-3.6M858.3,582.0v7M858.3,923.0v-7M912.8,582.0v3.6M912.8,923.0v-3.6M967.2,582.0v3.6M967.2,923.0v-3.6M1021.7,582.0v7M1021.7,923.0v-7" stroke="#1a1a1a" stroke-width="1" fill="none"/>
<rect x="163.5" y="582.0" width="911.0" height="341.0" fill="none" stroke="#1a1a1a" stroke-width="1.1"/>
<text x="157.2" y="636.8" font-size="17" class="h" text-anchor="end" textLength="44.6" lengthAdjust="spacingAndGlyphs" >1E−3</text>
<text x="157.2" y="685.5" font-size="17" class="h" text-anchor="end" textLength="44.6" lengthAdjust="spacingAndGlyphs" >1E−4</text>
<text x="1080.3" y="685.3" font-size="16.5" class="h" >X</text>
<text x="157.2" y="734.2" font-size="17" class="h" text-anchor="end" textLength="44.6" lengthAdjust="spacingAndGlyphs" >1E−5</text>
<text x="1080.3" y="734" font-size="16.5" class="h" >M</text>
<text x="157.2" y="783" font-size="17" class="h" text-anchor="end" textLength="44.6" lengthAdjust="spacingAndGlyphs" >1E−6</text>
<text x="1080.3" y="782.8" font-size="16.5" class="h" >C</text>
<text x="157.2" y="831.7" font-size="17" class="h" text-anchor="end" textLength="44.6" lengthAdjust="spacingAndGlyphs" >1E−7</text>
<text x="1080.3" y="831.5" font-size="16.5" class="h" >B</text>
<text x="157.2" y="880.4" font-size="17" class="h" text-anchor="end" textLength="44.6" lengthAdjust="spacingAndGlyphs" >1E−8</text>
<text x="1080.3" y="880.2" font-size="16.5" class="h" >A</text>
<text x="95.5" y="753" font-size="18" class="h" text-anchor="middle" transform="rotate(-90 95.5 753)" letter-spacing="1.2">GOES [W/m<tspan dy="-6" font-size="12">2</tspan><tspan dy="6">]</tspan></text>
<text x="1112.5" y="749" font-size="18" class="h" text-anchor="middle" textLength="100" lengthAdjust="spacingAndGlyphs" transform="rotate(-90 1112.5 749)" >GOES Class</text>
<defs><clipPath id="cm"><rect x="163.5" y="938.0" width="911.0" height="340.0"/></clipPath>
<clipPath id="cb"><rect x="305.5" y="938.0" width="25.3" height="340.0"/><rect x="565.5" y="938.0" width="26.5" height="340.0"/><rect x="826.0" y="938.0" width="27.5" height="340.0"/></clipPath>
<path id="land" d="M174.2,982.6L181.9,975.5L198.7,974.2L219.4,974.2L242.6,975.5L258.1,977.4L276.1,978.7L282.6,976.1L287.1,963.2L290.3,971.0L294.2,963.2L298.7,972.3L303.9,976.8L304.5,991.6L300.0,994.2L298.7,1017.4L296.8,1049.7L294.8,1053.5L294.2,1069.0L293.5,1084.5L289.0,1084.5L287.7,1069.0L283.9,1066.5L282.6,1085.8L281.3,1094.8L278.7,1103.9L273.5,1112.9L271.0,1120.0L273.8,1132.5L277.5,1135.0L276.2,1141.2L260.0,1145.0L261.2,1152.5L242.5,1156.2L225.0,1160.0L210.0,1163.8L202.5,1168.8L182.5,1171.2L180.0,1160.0L177.5,1135.0L174.2,1107.7L169.0,1081.9L168.4,1056.1L170.3,1038.1L171.6,1017.4L172.9,996.8ZM164.1,964.5L166.5,965.8L167.1,982.6L165.8,1000.6L164.1,1000.6ZM176.8,957.4L197.4,956.1L197.4,958.1L189.7,961.3L178.1,961.9ZM286.2,997.5L292.5,997.5L292.5,1017.5L290.0,1055.0L291.2,1075.0L287.5,1075.0L286.2,1035.0ZM295.0,995.0L303.0,995.0L303.0,1010.0L300.0,1040.0L298.8,1110.0L298.0,1180.0L296.2,1180.0L296.2,1110.0L295.0,1040.0ZM331.0,978.7L341.3,975.5L369.7,974.2L392.9,973.8L407.1,974.8L413.5,977.4L416.1,982.6L429.0,985.2L434.2,982.6L435.5,986.5L429.0,990.3L423.9,994.2L416.1,995.5L403.2,994.5L398.1,995.5L390.3,996.8L351.6,994.8L331.0,992.9ZM319.4,982.6L331.0,981.9L331.0,985.2L319.4,985.2ZM324.5,990.3L331.0,990.1L331.0,992.9L324.5,992.9ZM307.1,980.0L312.9,980.6L312.9,985.2L307.7,984.5ZM367.1,1000.0L387.7,999.6L387.7,1001.3L367.1,1001.3ZM331.0,1003.9L337.4,1003.9L337.4,1004.8L331.0,1004.8ZM343.9,1002.6L349.0,1002.6L349.0,1003.6L343.9,1003.6ZM354.2,1002.6L361.9,1002.6L361.9,1003.6L354.2,1003.6ZM418.1,965.8L423.9,959.4L429.0,965.8L430.3,982.6L427.7,994.2L420.0,994.2L416.8,982.6ZM416.1,995.5L423.9,995.5L425.8,1017.4L424.5,1030.3L422.6,1051.0L420.6,1079.4L420.0,1051.0L418.7,1030.3L418.1,1012.3ZM423.2,1088.4L425.8,1088.4L428.4,1120.0L428.0,1160.0L426.5,1210.0L425.0,1210.0L425.5,1160.0L423.9,1120.0ZM438.7,1026.5L447.1,1025.2L447.7,1017.4L444.5,1016.1L448.4,1013.5L453.5,1020.0L460.0,1022.6L460.0,1030.3L449.7,1030.3L445.8,1035.5L441.9,1038.7L438.7,1038.1ZM440.0,1008.4L442.6,1009.0L456.8,1011.0L478.7,1007.1L509.7,1004.5L522.6,1000.6L530.3,1007.1L538.1,1001.9L543.2,996.8L535.5,994.2L530.3,996.8L501.9,1000.6L500.6,996.8L478.7,996.1L472.3,991.6L494.2,989.0L517.4,985.8L532.9,978.7L543.2,974.2L549.7,974.8L552.3,969.7L556.1,963.9L561.3,969.7L565.8,974.2L600.0,974.8L600.0,975.5L600.0,992.9L572.9,992.9L570.3,996.8L567.7,1007.1L567.1,995.5L565.8,993.2L561.9,996.1L561.3,1017.4L559.4,1043.2L558.1,1062.6L556.1,1075.5L553.5,1088.4L549.7,1094.8L548.4,1120.0L547.7,1119.4L547.1,1138.7L545.8,1161.9L543.2,1169.7L539.4,1172.3L536.1,1167.1L535.5,1160.6L531.6,1154.2L530.3,1147.7L523.9,1141.3L523.2,1137.4L527.7,1132.3L529.0,1125.8L523.9,1116.8L517.4,1111.6L509.7,1109.0L509.7,1109.0L514.8,1102.6L504.5,1100.0L472.3,1096.8L452.9,1096.8L440.0,1098.7L440.6,1098.0L436.8,1088.0L434.2,1082.0L434.2,1064.0L437.4,1043.0L440.0,1040.0L440.0,1016.0ZM521.3,958.1L530.3,957.4L543.2,956.1L542.6,959.4L535.5,962.6L530.3,961.3L522.6,960.0ZM556.8,1100.0L558.1,1100.0L563.9,1138.7L564.5,1158.1L563.2,1180.0L561.3,1180.0L560.0,1164.5L558.1,1151.6L558.7,1138.7L556.1,1119.4ZM600.0,975.5L631.0,975.1L651.6,977.0L664.5,978.7L672.3,982.6L677.4,973.5L680.0,982.6L682.6,994.2L677.4,995.5L674.8,1000.6L672.9,991.6L661.9,985.4L651.6,989.0L623.2,989.7L621.9,991.6L600.0,991.6ZM592.0,974.8L600.0,975.5L600.0,991.6L592.0,993.0ZM690.3,951.6L698.1,950.3L714.8,952.3L721.3,952.9L760.0,954.5L760.0,956.1L723.9,956.1L720.0,958.1L741.9,959.4L741.9,960.6L720.0,961.3L716.1,965.8L713.5,973.5L703.2,976.1L701.9,978.7L695.5,969.7L690.3,959.4ZM709.7,983.9L716.1,983.2L760.0,982.3L760.0,987.1L731.6,988.4L716.1,987.1L709.7,985.2ZM682.6,972.3L684.5,991.6L685.8,1023.9L689.0,1056.1L690.3,1069.0L692.9,1088.4L692.3,1100.0L695.5,1112.9L698.1,1119.4L695.5,1132.3L694.8,1147.7L691.6,1158.1L691.0,1167.1L689.7,1180.0L689.0,1203.2L688.1,1203.2L688.4,1180.0L689.0,1158.1L688.4,1132.3L687.1,1125.8L687.7,1100.0L687.7,1088.4L689.0,1056.1L690.3,1023.9L691.0,991.6L690.3,963.2L682.6,959.4ZM602.6,1174.2L609.0,1174.2L618.1,1177.4L631.0,1178.1L647.7,1179.4L647.7,1180.6L637.4,1183.9L631.0,1185.8L620.6,1185.8L621.9,1183.9L612.9,1182.6L612.3,1181.5L618.1,1180.0L607.7,1176.8ZM600.0,1185.8L611.6,1185.8L607.7,1187.7L600.0,1190.3ZM578.1,1191.6L583.2,1190.3L594.8,1185.2L600.0,1185.2L600.0,1189.0L592.3,1190.3L581.9,1195.5L578.1,1195.5ZM643.2,1141.3L649.0,1141.0L649.0,1142.6L643.2,1142.6ZM752.3,1065.8L760.0,1063.9L760.0,1085.8L754.8,1084.5L752.3,1080.6L758.7,1076.8L753.5,1070.3ZM805.2,995.5L809.7,974.8L814.2,973.5L818.7,963.2L821.9,967.7L827.1,973.5L854.2,971.0L871.0,971.0L872.3,973.3L920.0,973.8L920.0,991.6L908.4,994.8L883.9,996.1L869.7,994.8L837.4,996.1L830.3,1004.5L836.1,1007.1L834.8,1014.8L827.1,1027.7L826.5,1051.0L823.2,1052.3L821.9,1069.0L820.6,1081.9L818.1,1094.8L814.2,1101.3L812.9,1120.0L812.9,1138.7L811.6,1164.5L810.3,1173.5L808.4,1161.9L807.7,1132.3L806.5,1120.0L805.8,1100.0L802.6,1096.1L796.1,1098.7L781.9,1091.0L766.5,1085.8L760.0,1084.5L760.0,1063.9L772.9,1058.7L789.7,1052.3L792.3,1045.8L802.6,1038.7L793.5,1038.1L791.6,1034.2L792.9,1026.5L801.3,1025.8L802.6,1017.4L798.7,1014.8L802.6,1009.7L798.7,1004.5L790.3,1010.3L790.3,1005.2L797.4,1001.9L800.0,997.4L803.9,1004.5ZM827.1,1043.2L829.7,1038.1L834.8,1030.3L837.4,1023.9L843.9,1024.5L842.6,1026.7L837.4,1027.7L835.5,1040.6L828.4,1044.5ZM831.0,964.3L841.9,964.3L841.9,965.3L837.4,965.8L836.1,969.7L833.5,969.7ZM856.1,966.2L871.0,965.8L873.5,966.5L871.0,967.1L856.1,967.1ZM760.0,953.9L780.0,953.9L780.0,955.0L760.0,955.0ZM760.0,982.3L767.7,981.9L778.1,983.6L776.8,985.4L760.0,985.8ZM808.4,956.8L811.0,956.1L810.1,962.6L808.0,961.3ZM920.0,973.8L927.7,974.2L935.5,978.7L935.5,992.9L920.0,993.5ZM827.1,1110.3L832.3,1111.6L842.6,1116.8L855.5,1118.7L876.1,1118.1L894.2,1115.5L901.9,1116.1L895.5,1117.4L869.7,1119.4L868.4,1127.1L858.1,1127.7L855.5,1121.9L842.6,1123.2L832.3,1119.4L828.4,1115.5ZM821.9,1172.3L821.3,1149.0L827.1,1132.3L832.3,1140.0L837.4,1129.0L847.7,1142.6L855.5,1145.2L861.9,1147.1L872.3,1149.7L889.0,1154.2L899.4,1156.8L903.9,1161.9L894.2,1168.4L880.0,1172.3L869.7,1177.4L858.1,1178.7L855.5,1183.9L856.8,1189.0L850.3,1189.0L843.9,1185.2L837.4,1180.6L832.3,1172.3L829.7,1167.1L824.5,1169.7ZM952.3,952.3L978.1,951.6L1051.6,950.3L1061.9,952.3L1065.8,954.2L1064.5,968.4L1061.9,976.1L1051.6,980.0L1036.1,982.6L1012.9,985.8L994.8,991.0L978.1,993.5L969.0,993.5L962.6,978.7L956.1,963.2L952.3,956.8ZM1062.6,982.6L1067.7,982.6L1067.1,987.7L1063.2,986.5ZM941.3,978.7L945.8,963.2L949.7,972.3L953.5,982.6L958.7,1001.9L961.3,1017.4L956.1,1022.6L952.3,1007.1L947.1,991.6L941.9,994.2ZM945.8,1017.4L951.0,1022.6L951.0,1051.0L947.7,1081.9L946.5,1051.0ZM1069.7,1001.9L1074.2,998.1L1074.6,1120.0L1074.6,1138.7L1074.6,1171.0L1072.9,1171.0L1072.9,1138.7L1067.1,1120.0L1067.1,1056.1L1070.3,1030.3ZM951.0,1087.1L954.8,1087.1L958.7,1094.8L966.5,1105.2L971.6,1110.3L981.9,1112.9L1010.3,1111.6L1049.0,1115.5L1061.9,1120.0L1047.7,1118.1L1047.7,1124.5L1036.1,1129.7L1031.0,1132.3L1029.7,1138.7L1019.4,1146.5L1010.3,1148.4L981.9,1151.6L971.6,1155.5L969.0,1161.9L962.6,1169.7L958.7,1177.4L955.5,1190.3L954.8,1211.0L952.9,1211.0L951.6,1177.4L952.3,1138.7L951.0,1112.9ZM931.0,1195.5L934.2,1182.6L935.5,1177.4L936.1,1182.6L932.9,1195.5ZM163.5,1278.0L163.5,1267.0L165.5,1260.0L170.0,1243.8L185.0,1241.0L212.5,1239.5L260.0,1238.8L277.5,1237.5L285.0,1241.0L300.0,1245.0L303.8,1253.8L306.0,1255.0L335.0,1254.5L385.0,1253.8L410.0,1252.5L425.0,1250.0L428.8,1255.0L431.0,1247.5L435.0,1243.8L440.0,1241.9L458.0,1240.6L486.5,1240.0L530.3,1240.0L544.5,1239.4L549.7,1232.9L552.3,1239.4L556.1,1234.2L563.9,1235.5L566.5,1240.6L574.2,1240.6L587.1,1243.2L585.8,1245.8L574.2,1248.4L571.6,1252.3L575.5,1254.2L591.6,1254.2L600.0,1254.8L676.1,1254.6L682.6,1246.5L689.0,1245.8L689.3,1229.0L689.9,1254.2L698.1,1254.2L705.8,1251.0L739.4,1250.3L754.8,1247.7L760.0,1247.1L775.5,1245.8L788.4,1241.9L805.2,1240.0L812.9,1235.5L820.6,1233.5L832.3,1234.8L850.3,1236.1L876.1,1236.8L901.9,1237.4L920.0,1238.7L927.7,1240.0L934.2,1245.8L927.7,1251.0L929.0,1254.2L936.8,1254.8L944.5,1251.0L945.8,1245.8L952.3,1243.2L953.5,1236.8L954.8,1234.2L956.1,1243.2L956.1,1254.8L1049.0,1254.2L1060.6,1252.3L1067.1,1241.9L1074.6,1241.3L1074.6,1278.0Z"/><path id="sea" d="M202.6,1029.0L207.7,1023.9L221.9,1020.6L240.0,1020.6L252.9,1023.9L261.9,1020.6L269.7,1020.0L274.8,1027.7L273.5,1030.3L258.1,1027.7L243.9,1030.3L229.7,1030.3L202.6,1030.3ZM174.2,1038.1L185.8,1032.9L196.1,1035.5L207.7,1039.4L224.5,1038.7L250.3,1039.4L263.2,1038.7L263.2,1043.2L258.1,1047.1L243.9,1049.7L215.5,1049.7L198.7,1052.3L183.2,1049.7L178.1,1045.8L174.2,1043.2ZM250.3,1053.5L258.1,1054.2L267.1,1062.6L274.8,1075.5L281.3,1085.8L277.4,1084.5L271.0,1075.5L263.2,1065.2L255.5,1058.1ZM256.1,981.9L272.3,982.6L271.0,985.2L263.2,986.5ZM220.6,992.3L245.2,992.6L245.2,993.9L220.6,993.5ZM280.0,1017.4L283.9,1017.4L283.9,1038.1L281.9,1038.1L280.0,1027.7ZM169.0,996.8L173.5,996.8L174.8,1004.5L171.9,1017.4L170.1,1017.4ZM331.0,981.3L355.5,981.5L355.5,982.8L331.0,982.8ZM331.0,985.8L358.1,986.2L358.1,989.7L331.0,989.7ZM449.0,1032.9L460.6,1026.2L499.4,1024.1L517.4,1025.2L525.2,1022.6L530.3,1027.7L538.1,1030.3L547.1,1049.7L538.1,1051.0L530.3,1045.8L520.0,1043.2L517.4,1039.4L478.7,1038.1L456.8,1038.7L445.2,1041.9L440.0,1043.2L440.0,1040.6L446.5,1038.1ZM440.0,1016.1L446.5,1016.8L447.1,1024.5L440.0,1025.2ZM544.5,1020.0L549.7,1019.4L549.7,1030.3L545.2,1030.3Z"/></defs>
<rect x="163.5" y="938.0" width="911.0" height="340.0" fill="#4040ff"/>
<g clip-path="url(#cm)"><use href="#land" fill="#00c000"/><use href="#sea" fill="#4040ff"/></g>
<g clip-path="url(#cb)"><rect x="163.5" y="938.0" width="911.0" height="340.0" fill="#1010a0"/><use href="#land" fill="#006000"/><use href="#sea" fill="#1010a0"/></g>
<path d="M163.5,1221.5H1074.5M163.5,1164.8H1074.5M163.5,1108.2H1074.5M163.5,1051.7H1074.5M163.5,995.0H1074.5M163.5,1259.2h13.7M1074.5,1259.2h-9M163.5,1240.3h13.7M1074.5,1240.3h-9M163.5,1221.5h13.7M1074.5,1221.5h-9M163.5,1202.6h13.7M1074.5,1202.6h-9M163.5,1183.7h13.7M1074.5,1183.7h-9M163.5,1164.8h13.7M1074.5,1164.8h-9M163.5,1146.0h13.7M1074.5,1146.0h-9M163.5,1127.1h13.7M1074.5,1127.1h-9M163.5,1108.2h13.7M1074.5,1108.2h-9M163.5,1089.4h13.7M1074.5,1089.4h-9M163.5,1070.5h13.7M1074.5,1070.5h-9M163.5,1051.7h13.7M1074.5,1051.7h-9M163.5,1032.8h13.7M1074.5,1032.8h-9M163.5,1013.9h13.7M1074.5,1013.9h-9M163.5,995.0h13.7M1074.5,995.0h-9M163.5,976.2h13.7M1074.5,976.2h-9M163.5,957.3h13.7M1074.5,957.3h-9" stroke="#000" stroke-width="1" fill="none"/>
<path d="M204.8,938.0v7M204.8,1278.0v-7M259.3,938.0v3.6M259.3,1278.0v-3.6M313.7,938.0v3.6M313.7,1278.0v-3.6M368.2,938.0v7M368.2,1278.0v-7M422.7,938.0v3.6M422.7,1278.0v-3.6M477.1,938.0v3.6M477.1,1278.0v-3.6M531.6,938.0v7M531.6,1278.0v-7M586.0,938.0v3.6M586.0,1278.0v-3.6M640.5,938.0v3.6M640.5,1278.0v-3.6M695.0,938.0v7M695.0,1278.0v-7M749.4,938.0v3.6M749.4,1278.0v-3.6M803.9,938.0v3.6M803.9,1278.0v-3.6M858.3,938.0v7M858.3,1278.0v-7M912.8,938.0v3.6M912.8,1278.0v-3.6M967.2,938.0v3.6M967.2,1278.0v-3.6M1021.7,938.0v7M1021.7,1278.0v-7" stroke="#1a1a1a" stroke-width="1" fill="none"/>
<g clip-path="url(#cm)"><path d="M163.5,1060.5L164.0,1065.4L164.5,1070.2L165.0,1074.8L165.5,1079.2L166.0,1083.3L166.5,1087.1L167.0,1090.7L167.5,1093.9L168.0,1096.9L168.5,1099.6L169.0,1102.0L169.5,1104.3L170.0,1106.3L170.5,1108.2L171.0,1109.9L171.5,1111.5L172.0,1112.9L172.5,1114.3L173.0,1115.5L173.5,1116.6L174.0,1117.7L174.5,1118.6L175.0,1119.5L175.5,1120.4L176.0,1121.2L176.5,1121.9L177.0,1122.6L177.5,1123.2L178.0,1123.8L178.5,1124.4L179.0,1124.9L179.5,1125.4L180.0,1125.9L180.5,1126.4L181.0,1126.8L181.5,1127.2L182.0,1127.6L182.5,1127.9L183.0,1128.3L183.5,1128.6L184.0,1128.9L184.5,1129.2L185.0,1129.5L185.5,1129.8L186.0,1130.1L186.5,1130.3L187.0,1130.5L187.5,1130.8L188.0,1131.0L188.5,1131.2L189.0,1131.4L189.5,1131.6L190.0,1131.8L190.5,1132.0L191.0,1132.2L191.5,1132.3L192.0,1132.5L192.5,1132.6L193.0,1132.8L193.5,1132.9L194.0,1133.1L194.5,1133.2L195.0,1133.4L195.5,1133.5L196.0,1133.6L196.5,1133.7L197.0,1133.8L197.5,1134.0L198.0,1134.1L198.5,1134.2L199.0,1134.3L199.5,1134.4L200.0,1134.5L200.5,1134.6L201.0,1134.7L201.5,1134.8L202.0,1134.8L202.5,1134.9L203.0,1135.0L203.5,1135.1L204.0,1135.2L204.5,1135.2L205.0,1135.3L205.5,1135.4L206.0,1135.5L206.5,1135.5L207.0,1135.6L207.5,1135.7L208.0,1135.7L208.5,1135.8L209.0,1135.9L209.5,1135.9L210.0,1136.0L210.5,1136.0L211.0,1136.1L211.5,1136.2L212.0,1136.2L212.5,1136.3L213.0,1136.3L213.5,1136.4L214.0,1136.4L214.5,1136.5L215.0,1136.5L215.5,1136.6L216.0,1136.6L216.5,1136.7L217.0,1136.7L217.5,1136.8L218.0,1136.8L218.5,1136.9L219.0,1136.9L219.5,1137.0L220.0,1137.0L220.5,1137.0L221.0,1137.1L221.5,1137.1L222.0,1137.2L222.5,1137.2L223.0,1137.3L223.5,1137.3L224.0,1137.3L224.5,1137.4L225.0,1137.4L225.5,1137.5L226.0,1137.5L226.5,1137.6L227.0,1137.6L227.5,1137.6L228.0,1137.7L228.5,1137.7L229.0,1137.8L229.5,1137.8L230.0,1137.8L230.5,1137.9L231.0,1137.9L231.5,1138.0L232.0,1138.0L232.5,1138.1L233.0,1138.1L233.5,1138.1L234.0,1138.2L234.5,1138.2L235.0,1138.3L235.5,1138.3L236.0,1138.3L236.5,1138.4L237.0,1138.4L237.5,1138.5L238.0,1138.5L238.5,1138.6L239.0,1138.6L239.5,1138.7L240.0,1138.7L240.5,1138.8L241.0,1138.8L241.5,1138.9L242.0,1138.9L242.5,1139.0L243.0,1139.0L243.5,1139.1L244.0,1139.1L244.5,1139.2L245.0,1139.2L245.5,1139.3L246.0,1139.3L246.5,1139.4L247.0,1139.5L247.5,1139.5L248.0,1139.6L248.5,1139.6L249.0,1139.7L249.5,1139.8L250.0,1139.8L250.5,1139.9L251.0,1140.0L251.5,1140.1L252.0,1140.1L252.5,1140.2L253.0,1140.3L253.5,1140.4L254.0,1140.4L254.5,1140.5L255.0,1140.6L255.5,1140.7L256.0,1140.8L256.5,1140.9L257.0,1141.0L257.5,1141.1L258.0,1141.2L258.5,1141.3L259.0,1141.4L259.5,1141.5L260.0,1141.6L260.5,1141.7L261.0,1141.9L261.5,1142.0L262.0,1142.1L262.5,1142.2L263.0,1142.4L263.5,1142.5L264.0,1142.7L264.5,1142.8L265.0,1143.0L265.5,1143.1L266.0,1143.3L266.5,1143.5L267.0,1143.7L267.5,1143.9L268.0,1144.1L268.5,1144.3L269.0,1144.5L269.5,1144.7L270.0,1144.9L270.5,1145.2L271.0,1145.4L271.5,1145.7L272.0,1146.0L272.5,1146.3L273.0,1146.6L273.5,1146.9L274.0,1147.2L274.5,1147.6L275.0,1147.9L275.5,1148.3L276.0,1148.7L276.5,1149.2L277.0,1149.6L277.5,1150.1L278.0,1150.6L278.5,1151.1L279.0,1151.7L279.5,1152.3L280.0,1153.0L280.5,1153.7L281.0,1154.4L281.5,1155.2L282.0,1156.1L282.5,1157.0L283.0,1158.0L283.5,1159.0L284.0,1160.2L284.5,1161.4L285.0,1162.8L285.5,1164.2L286.0,1165.8L286.5,1167.6L287.0,1169.5L287.5,1171.6L288.0,1173.9L288.5,1176.4L289.0,1179.1L289.5,1182.2L290.0,1185.5L290.5,1189.0L291.0,1192.9L291.5,1197.1L292.0,1201.5L292.5,1206.2L293.0,1211.0L293.5,1216.0L294.0,1220.9L294.5,1225.8L295.0,1230.5L295.5,1235.1L296.0,1239.3L296.5,1243.3L297.0,1247.1L297.5,1250.5L298.0,1253.6L298.5,1256.5L299.0,1259.1L299.5,1261.4L300.0,1263.6L300.5,1265.6L301.0,1267.4L301.5,1269.1L302.0,1270.6L302.5,1272.0L303.0,1273.3L303.5,1274.4L304.0,1275.5L304.5,1276.5L305.0,1277.5L305.5,1278.0L305.5,938.0L305.5,938.4L306.0,939.2L306.5,939.9L307.0,940.7L307.5,941.3L308.0,941.9L308.5,942.5L309.0,943.1L309.5,943.6L310.0,944.1L310.5,944.6L311.0,945.0L311.5,945.4L312.0,945.8L312.5,946.2L313.0,946.6L313.5,946.9L314.0,947.2L314.5,947.5L315.0,947.8L315.5,948.1L316.0,948.4L316.5,948.6L317.0,948.9L317.5,949.1L318.0,949.3L318.5,949.6L319.0,949.8L319.5,950.0L320.0,950.2L320.5,950.3L321.0,950.5L321.5,950.7L322.0,950.9L322.5,951.0L323.0,951.2L323.5,951.3L324.0,951.5L324.5,951.6L325.0,951.8L325.5,951.9L326.0,952.0L326.5,952.1L327.0,952.2L327.5,952.4L328.0,952.5L328.5,952.6L329.0,952.7L329.5,952.8L330.0,952.9L330.5,953.0L331.0,953.1L331.5,953.2L332.0,953.3L332.5,953.4L333.0,953.4L333.5,953.5L334.0,953.6L334.5,953.7L335.0,953.8L335.5,953.8L336.0,953.9L336.5,954.0L337.0,954.0L337.5,954.1L338.0,954.2L338.5,954.2L339.0,954.3L339.5,954.4L340.0,954.4L340.5,954.5L341.0,954.5L341.5,954.6L342.0,954.7L342.5,954.7L343.0,954.8L343.5,954.8L344.0,954.9L344.5,954.9L345.0,955.0L345.5,955.0L346.0,955.1L346.5,955.1L347.0,955.2L347.5,955.2L348.0,955.3L348.5,955.3L349.0,955.4L349.5,955.4L350.0,955.5L350.5,955.5L351.0,955.5L351.5,955.6L352.0,955.6L352.5,955.7L353.0,955.7L353.5,955.8L354.0,955.8L354.5,955.8L355.0,955.9L355.5,955.9L356.0,956.0L356.5,956.0L357.0,956.1L357.5,956.1L358.0,956.1L358.5,956.2L359.0,956.2L359.5,956.3L360.0,956.3L360.5,956.3L361.0,956.4L361.5,956.4L362.0,956.5L362.5,956.5L363.0,956.5L363.5,956.6L364.0,956.6L364.5,956.7L365.0,956.7L365.5,956.8L366.0,956.8L366.5,956.8L367.0,956.9L367.5,956.9L368.0,957.0L368.5,957.0L369.0,957.1L369.5,957.1L370.0,957.2L370.5,957.2L371.0,957.3L371.5,957.3L372.0,957.4L372.5,957.4L373.0,957.5L373.5,957.5L374.0,957.6L374.5,957.6L375.0,957.7L375.5,957.7L376.0,957.8L376.5,957.8L377.0,957.9L377.5,958.0L378.0,958.0L378.5,958.1L379.0,958.1L379.5,958.2L380.0,958.3L380.5,958.3L381.0,958.4L381.5,958.5L382.0,958.6L382.5,958.6L383.0,958.7L383.5,958.8L384.0,958.9L384.5,959.0L385.0,959.0L385.5,959.1L386.0,959.2L386.5,959.3L387.0,959.4L387.5,959.5L388.0,959.6L388.5,959.7L389.0,959.8L389.5,959.9L390.0,960.0L390.5,960.1L391.0,960.3L391.5,960.4L392.0,960.5L392.5,960.6L393.0,960.8L393.5,960.9L394.0,961.1L394.5,961.2L395.0,961.4L395.5,961.5L396.0,961.7L396.5,961.9L397.0,962.0L397.5,962.2L398.0,962.4L398.5,962.6L399.0,962.8L399.5,963.0L400.0,963.3L400.5,963.5L401.0,963.8L401.5,964.0L402.0,964.3L402.5,964.6L403.0,964.9L403.5,965.2L404.0,965.5L404.5,965.8L405.0,966.2L405.5,966.6L406.0,967.0L406.5,967.4L407.0,967.8L407.5,968.3L408.0,968.8L408.5,969.3L409.0,969.9L409.5,970.4L410.0,971.1L410.5,971.7L411.0,972.4L411.5,973.2L412.0,974.0L412.5,974.9L413.0,975.8L413.5,976.9L414.0,978.0L414.5,979.1L415.0,980.4L415.5,981.8L416.0,983.3L416.5,985.0L417.0,986.8L417.5,988.8L418.0,990.9L418.5,993.3L419.0,995.9L419.5,998.8L420.0,1001.9L420.5,1005.3L421.0,1009.0L421.5,1013.0L422.0,1017.3L422.5,1021.9L423.0,1026.6L423.5,1031.5L424.0,1036.4L424.5,1041.4L425.0,1046.2L425.5,1050.8L426.0,1055.3L426.5,1059.5L427.0,1063.3L427.5,1066.9L428.0,1070.2L428.5,1073.2L429.0,1076.0L429.5,1078.5L430.0,1080.8L430.5,1082.9L431.0,1084.8L431.5,1086.6L432.0,1088.2L432.5,1089.6L433.0,1091.0L433.5,1092.2L434.0,1093.4L434.5,1094.4L435.0,1095.4L435.5,1096.3L436.0,1097.2L436.5,1098.0L437.0,1098.7L437.5,1099.4L438.0,1100.1L438.5,1100.7L439.0,1101.2L439.5,1101.8L440.0,1102.3L440.5,1102.8L441.0,1103.2L441.5,1103.7L442.0,1104.1L442.5,1104.5L443.0,1104.8L443.5,1105.2L444.0,1105.5L444.5,1105.8L445.0,1106.1L445.5,1106.4L446.0,1106.7L446.5,1107.0L447.0,1107.2L447.5,1107.5L448.0,1107.7L448.5,1107.9L449.0,1108.1L449.5,1108.3L450.0,1108.5L450.5,1108.7L451.0,1108.9L451.5,1109.1L452.0,1109.2L452.5,1109.4L453.0,1109.6L453.5,1109.7L454.0,1109.9L454.5,1110.0L455.0,1110.1L455.5,1110.3L456.0,1110.4L456.5,1110.5L457.0,1110.7L457.5,1110.8L458.0,1110.9L458.5,1111.0L459.0,1111.1L459.5,1111.2L460.0,1111.3L460.5,1111.4L461.0,1111.5L461.5,1111.6L462.0,1111.7L462.5,1111.8L463.0,1111.9L463.5,1111.9L464.0,1112.0L464.5,1112.1L465.0,1112.2L465.5,1112.3L466.0,1112.3L466.5,1112.4L467.0,1112.5L467.5,1112.5L468.0,1112.6L468.5,1112.7L469.0,1112.7L469.5,1112.8L470.0,1112.9L470.5,1112.9L471.0,1113.0L471.5,1113.0L472.0,1113.1L472.5,1113.2L473.0,1113.2L473.5,1113.3L474.0,1113.3L474.5,1113.4L475.0,1113.4L475.5,1113.5L476.0,1113.5L476.5,1113.6L477.0,1113.6L477.5,1113.7L478.0,1113.7L478.5,1113.8L479.0,1113.8L479.5,1113.9L480.0,1113.9L480.5,1114.0L481.0,1114.0L481.5,1114.0L482.0,1114.1L482.5,1114.1L483.0,1114.2L483.5,1114.2L484.0,1114.3L484.5,1114.3L485.0,1114.3L485.5,1114.4L486.0,1114.4L486.5,1114.5L487.0,1114.5L487.5,1114.5L488.0,1114.6L488.5,1114.6L489.0,1114.7L489.5,1114.7L490.0,1114.8L490.5,1114.8L491.0,1114.8L491.5,1114.9L492.0,1114.9L492.5,1115.0L493.0,1115.0L493.5,1115.0L494.0,1115.1L494.5,1115.1L495.0,1115.2L495.5,1115.2L496.0,1115.3L496.5,1115.3L497.0,1115.3L497.5,1115.4L498.0,1115.4L498.5,1115.5L499.0,1115.5L499.5,1115.6L500.0,1115.6L500.5,1115.7L501.0,1115.7L501.5,1115.8L502.0,1115.8L502.5,1115.9L503.0,1115.9L503.5,1116.0L504.0,1116.0L504.5,1116.1L505.0,1116.1L505.5,1116.2L506.0,1116.2L506.5,1116.3L507.0,1116.3L507.5,1116.4L508.0,1116.5L508.5,1116.5L509.0,1116.6L509.5,1116.7L510.0,1116.7L510.5,1116.8L511.0,1116.9L511.5,1116.9L512.0,1117.0L512.5,1117.1L513.0,1117.1L513.5,1117.2L514.0,1117.3L514.5,1117.4L515.0,1117.5L515.5,1117.6L516.0,1117.6L516.5,1117.7L517.0,1117.8L517.5,1117.9L518.0,1118.0L518.5,1118.1L519.0,1118.2L519.5,1118.3L520.0,1118.4L520.5,1118.5L521.0,1118.7L521.5,1118.8L522.0,1118.9L522.5,1119.0L523.0,1119.2L523.5,1119.3L524.0,1119.4L524.5,1119.6L525.0,1119.7L525.5,1119.9L526.0,1120.1L526.5,1120.2L527.0,1120.4L527.5,1120.6L528.0,1120.8L528.5,1121.0L529.0,1121.2L529.5,1121.4L530.0,1121.6L530.5,1121.8L531.0,1122.1L531.5,1122.3L532.0,1122.6L532.5,1122.9L533.0,1123.2L533.5,1123.5L534.0,1123.8L534.5,1124.1L535.0,1124.5L535.5,1124.8L536.0,1125.2L536.5,1125.6L537.0,1126.0L537.5,1126.5L538.0,1127.0L538.5,1127.5L539.0,1128.0L539.5,1128.6L540.0,1129.2L540.5,1129.8L541.0,1130.5L541.5,1131.2L542.0,1132.0L542.5,1132.8L543.0,1133.7L543.5,1134.7L544.0,1135.8L544.5,1136.9L545.0,1138.1L545.5,1139.4L546.0,1140.9L546.5,1142.5L547.0,1144.2L547.5,1146.0L548.0,1148.1L548.5,1150.4L549.0,1152.8L549.5,1155.5L550.0,1158.5L550.5,1161.7L551.0,1165.3L551.5,1169.1L552.0,1173.2L552.5,1177.6L553.0,1182.2L553.5,1187.0L554.0,1191.9L554.5,1196.9L555.0,1201.8L555.5,1206.6L556.0,1211.1L556.5,1215.5L557.0,1219.5L557.5,1223.3L558.0,1226.8L558.5,1229.9L559.0,1232.9L559.5,1235.5L560.0,1237.9L560.5,1240.1L561.0,1242.2L561.5,1244.0L562.0,1245.7L562.5,1247.2L563.0,1248.7L563.5,1250.0L564.0,1251.2L564.5,1252.3L565.0,1253.3L565.5,1254.3L566.0,1255.2L566.5,1256.0L567.0,1256.8L567.5,1257.5L568.0,1258.1L568.5,1258.8L569.0,1259.4L569.5,1259.9L570.0,1260.5L570.5,1261.0L571.0,1261.4L571.5,1261.9L572.0,1262.3L572.5,1262.7L573.0,1263.1L573.5,1263.4L574.0,1263.8L574.5,1264.1L575.0,1264.4L575.5,1264.7L576.0,1265.0L576.5,1265.3L577.0,1265.5L577.5,1265.8L578.0,1266.0L578.5,1266.3L579.0,1266.5L579.5,1266.7L580.0,1266.9L580.5,1267.1L581.0,1267.3L581.5,1267.4L582.0,1267.6L582.5,1267.8L583.0,1268.0L583.5,1268.1L584.0,1268.3L584.5,1268.4L585.0,1268.5L585.5,1268.7L586.0,1268.8L586.5,1268.9L587.0,1269.1L587.5,1269.2L588.0,1269.3L588.5,1269.4L589.0,1269.5L589.5,1269.6L590.0,1269.7L590.5,1269.8L591.0,1269.9L591.5,1270.0L592.0,1270.1L592.5,1270.2L593.0,1270.3L593.5,1270.4L594.0,1270.5L594.5,1270.5L595.0,1270.6L595.5,1270.7L596.0,1270.8L596.5,1270.8L597.0,1270.9L597.5,1271.0L598.0,1271.1L598.5,1271.1L599.0,1271.2L599.5,1271.2L600.0,1271.3L600.5,1271.4L601.0,1271.4L601.5,1271.5L602.0,1271.5L602.5,1271.6L603.0,1271.7L603.5,1271.7L604.0,1271.8L604.5,1271.8L605.0,1271.9L605.5,1271.9L606.0,1272.0L606.5,1272.0L607.0,1272.1L607.5,1272.1L608.0,1272.2L608.5,1272.2L609.0,1272.3L609.5,1272.3L610.0,1272.4L610.5,1272.4L611.0,1272.4L611.5,1272.5L612.0,1272.5L612.5,1272.6L613.0,1272.6L613.5,1272.7L614.0,1272.7L614.5,1272.7L615.0,1272.8L615.5,1272.8L616.0,1272.9L616.5,1272.9L617.0,1273.0L617.5,1273.0L618.0,1273.0L618.5,1273.1L619.0,1273.1L619.5,1273.2L620.0,1273.2L620.5,1273.2L621.0,1273.3L621.5,1273.3L622.0,1273.4L622.5,1273.4L623.0,1273.5L623.5,1273.5L624.0,1273.5L624.5,1273.6L625.0,1273.6L625.5,1273.7L626.0,1273.7L626.5,1273.7L627.0,1273.8L627.5,1273.8L628.0,1273.9L628.5,1273.9L629.0,1274.0L629.5,1274.0L630.0,1274.1L630.5,1274.1L631.0,1274.2L631.5,1274.2L632.0,1274.3L632.5,1274.3L633.0,1274.4L633.5,1274.4L634.0,1274.5L634.5,1274.5L635.0,1274.6L635.5,1274.6L636.0,1274.7L636.5,1274.7L637.0,1274.8L637.5,1274.8L638.0,1274.9L638.5,1275.0L639.0,1275.0L639.5,1275.1L640.0,1275.2L640.5,1275.2L641.0,1275.3L641.5,1275.4L642.0,1275.4L642.5,1275.5L643.0,1275.6L643.5,1275.7L644.0,1275.7L644.5,1275.8L645.0,1275.9L645.5,1276.0L646.0,1276.1L646.5,1276.2L647.0,1276.2L647.5,1276.3L648.0,1276.4L648.5,1276.5L649.0,1276.6L649.5,1276.7L650.0,1276.8L650.5,1277.0L651.0,1277.1L651.5,1277.2L652.0,1277.3L652.5,1277.4L653.0,1277.6L653.5,1277.7L654.0,1277.8L654.5,1278.0L655.0,1278.1L655.5,1278.0L655.5,938.0L655.5,938.3L656.0,938.4L656.5,938.6L657.0,938.8L657.5,939.0L658.0,939.1L658.5,939.3L659.0,939.5L659.5,939.7L660.0,940.0L660.5,940.2L661.0,940.4L661.5,940.7L662.0,940.9L662.5,941.2L663.0,941.5L663.5,941.8L664.0,942.1L664.5,942.4L665.0,942.7L665.5,943.1L666.0,943.4L666.5,943.8L667.0,944.2L667.5,944.7L668.0,945.1L668.5,945.6L669.0,946.1L669.5,946.7L670.0,947.3L670.5,947.9L671.0,948.6L671.5,949.3L672.0,950.0L672.5,950.8L673.0,951.7L673.5,952.6L674.0,953.6L674.5,954.7L675.0,955.8L675.5,957.1L676.0,958.5L676.5,960.0L677.0,961.6L677.5,963.4L678.0,965.3L678.5,967.5L679.0,969.8L679.5,972.3L680.0,975.2L680.5,978.2L681.0,981.6L681.5,985.2L682.0,989.2L682.5,993.4L683.0,997.9L683.5,1002.6L684.0,1007.4L684.5,1012.4L685.0,1017.3L685.5,1022.2L686.0,1026.9L686.5,1031.4L687.0,1035.6L687.5,1039.5L688.0,1043.2L688.5,1046.5L689.0,1049.6L689.5,1052.4L690.0,1055.0L690.5,1057.3L691.0,1059.5L691.5,1061.4L692.0,1063.2L692.5,1064.8L693.0,1066.3L693.5,1067.7L694.0,1068.9L694.5,1070.1L695.0,1071.2L695.5,1072.2L696.0,1073.1L696.5,1074.0L697.0,1074.8L697.5,1075.5L698.0,1076.2L698.5,1076.9L699.0,1077.5L699.5,1078.1L700.0,1078.6L700.5,1079.1L701.0,1079.6L701.5,1080.1L702.0,1080.5L702.5,1080.9L703.0,1081.3L703.5,1081.7L704.0,1082.1L704.5,1082.4L705.0,1082.7L705.5,1083.0L706.0,1083.3L706.5,1083.6L707.0,1083.9L707.5,1084.1L708.0,1084.4L708.5,1084.6L709.0,1084.8L709.5,1085.0L710.0,1085.2L710.5,1085.4L711.0,1085.6L711.5,1085.8L712.0,1086.0L712.5,1086.2L713.0,1086.3L713.5,1086.5L714.0,1086.6L714.5,1086.8L715.0,1086.9L715.5,1087.1L716.0,1087.2L716.5,1087.3L717.0,1087.5L717.5,1087.6L718.0,1087.7L718.5,1087.8L719.0,1087.9L719.5,1088.0L720.0,1088.1L720.5,1088.2L721.0,1088.3L721.5,1088.4L722.0,1088.5L722.5,1088.6L723.0,1088.7L723.5,1088.8L724.0,1088.9L724.5,1089.0L725.0,1089.0L725.5,1089.1L726.0,1089.2L726.5,1089.3L727.0,1089.3L727.5,1089.4L728.0,1089.5L728.5,1089.6L729.0,1089.6L729.5,1089.7L730.0,1089.7L730.5,1089.8L731.0,1089.9L731.5,1089.9L732.0,1090.0L732.5,1090.0L733.0,1090.1L733.5,1090.2L734.0,1090.2L734.5,1090.3L735.0,1090.3L735.5,1090.4L736.0,1090.4L736.5,1090.5L737.0,1090.5L737.5,1090.6L738.0,1090.6L738.5,1090.7L739.0,1090.7L739.5,1090.8L740.0,1090.8L740.5,1090.9L741.0,1090.9L741.5,1090.9L742.0,1091.0L742.5,1091.0L743.0,1091.1L743.5,1091.1L744.0,1091.2L744.5,1091.2L745.0,1091.2L745.5,1091.3L746.0,1091.3L746.5,1091.4L747.0,1091.4L747.5,1091.5L748.0,1091.5L748.5,1091.5L749.0,1091.6L749.5,1091.6L750.0,1091.7L750.5,1091.7L751.0,1091.7L751.5,1091.8L752.0,1091.8L752.5,1091.9L753.0,1091.9L753.5,1091.9L754.0,1092.0L754.5,1092.0L755.0,1092.1L755.5,1092.1L756.0,1092.2L756.5,1092.2L757.0,1092.2L757.5,1092.3L758.0,1092.3L758.5,1092.4L759.0,1092.4L759.5,1092.5L760.0,1092.5L760.5,1092.6L761.0,1092.6L761.5,1092.7L762.0,1092.7L762.5,1092.8L763.0,1092.8L763.5,1092.9L764.0,1092.9L764.5,1093.0L765.0,1093.0L765.5,1093.1L766.0,1093.1L766.5,1093.2L767.0,1093.2L767.5,1093.3L768.0,1093.3L768.5,1093.4L769.0,1093.5L769.5,1093.5L770.0,1093.6L770.5,1093.7L771.0,1093.7L771.5,1093.8L772.0,1093.9L772.5,1093.9L773.0,1094.0L773.5,1094.1L774.0,1094.2L774.5,1094.2L775.0,1094.3L775.5,1094.4L776.0,1094.5L776.5,1094.6L777.0,1094.7L777.5,1094.8L778.0,1094.9L778.5,1094.9L779.0,1095.0L779.5,1095.2L780.0,1095.3L780.5,1095.4L781.0,1095.5L781.5,1095.6L782.0,1095.7L782.5,1095.8L783.0,1096.0L783.5,1096.1L784.0,1096.2L784.5,1096.4L785.0,1096.5L785.5,1096.7L786.0,1096.8L786.5,1097.0L787.0,1097.2L787.5,1097.3L788.0,1097.5L788.5,1097.7L789.0,1097.9L789.5,1098.1L790.0,1098.3L790.5,1098.5L791.0,1098.8L791.5,1099.0L792.0,1099.2L792.5,1099.5L793.0,1099.8L793.5,1100.1L794.0,1100.4L794.5,1100.7L795.0,1101.0L795.5,1101.3L796.0,1101.7L796.5,1102.1L797.0,1102.5L797.5,1102.9L798.0,1103.3L798.5,1103.8L799.0,1104.3L799.5,1104.8L800.0,1105.4L800.5,1106.0L801.0,1106.6L801.5,1107.3L802.0,1108.0L802.5,1108.8L803.0,1109.6L803.5,1110.5L804.0,1111.5L804.5,1112.5L805.0,1113.6L805.5,1114.8L806.0,1116.1L806.5,1117.5L807.0,1119.1L807.5,1120.8L808.0,1122.6L808.5,1124.6L809.0,1126.8L809.5,1129.3L810.0,1131.9L810.5,1134.8L811.0,1138.0L811.5,1141.5L812.0,1145.3L812.5,1149.3L813.0,1153.6L813.5,1158.2L814.0,1163.0L814.5,1167.9L815.0,1172.8L815.5,1177.8L816.0,1182.6L816.5,1187.2L817.0,1191.6L817.5,1195.7L818.0,1199.5L818.5,1203.0L819.0,1206.3L819.5,1209.3L820.0,1212.0L820.5,1214.4L821.0,1216.7L821.5,1218.7L822.0,1220.6L822.5,1222.3L823.0,1223.9L823.5,1225.3L824.0,1226.7L824.5,1227.9L825.0,1229.0L825.5,1230.1L826.0,1231.0L826.5,1231.9L827.0,1232.8L827.5,1233.6L828.0,1234.3L828.5,1235.0L829.0,1235.6L829.5,1236.2L830.0,1236.8L830.5,1237.3L831.0,1237.8L831.5,1238.3L832.0,1238.7L832.5,1239.2L833.0,1239.6L833.5,1240.0L834.0,1240.3L834.5,1240.7L835.0,1241.0L835.5,1241.3L836.0,1241.6L836.5,1241.9L837.0,1242.2L837.5,1242.4L838.0,1242.7L838.5,1242.9L839.0,1243.2L839.5,1243.4L840.0,1243.6L840.5,1243.8L841.0,1244.0L841.5,1244.2L842.0,1244.4L842.5,1244.5L843.0,1244.7L843.5,1244.9L844.0,1245.0L844.5,1245.2L845.0,1245.3L845.5,1245.5L846.0,1245.6L846.5,1245.7L847.0,1245.9L847.5,1246.0L848.0,1246.1L848.5,1246.2L849.0,1246.3L849.5,1246.5L850.0,1246.6L850.5,1246.7L851.0,1246.8L851.5,1246.9L852.0,1247.0L852.5,1247.0L853.0,1247.1L853.5,1247.2L854.0,1247.3L854.5,1247.4L855.0,1247.5L855.5,1247.6L856.0,1247.6L856.5,1247.7L857.0,1247.8L857.5,1247.9L858.0,1247.9L858.5,1248.0L859.0,1248.1L859.5,1248.1L860.0,1248.2L860.5,1248.3L861.0,1248.3L861.5,1248.4L862.0,1248.4L862.5,1248.5L863.0,1248.5L863.5,1248.6L864.0,1248.7L864.5,1248.7L865.0,1248.8L865.5,1248.8L866.0,1248.9L866.5,1248.9L867.0,1249.0L867.5,1249.0L868.0,1249.1L868.5,1249.1L869.0,1249.2L869.5,1249.2L870.0,1249.3L870.5,1249.3L871.0,1249.3L871.5,1249.4L872.0,1249.4L872.5,1249.5L873.0,1249.5L873.5,1249.6L874.0,1249.6L874.5,1249.7L875.0,1249.7L875.5,1249.7L876.0,1249.8L876.5,1249.8L877.0,1249.9L877.5,1249.9L878.0,1249.9L878.5,1250.0L879.0,1250.0L879.5,1250.1L880.0,1250.1L880.5,1250.2L881.0,1250.2L881.5,1250.2L882.0,1250.3L882.5,1250.3L883.0,1250.4L883.5,1250.4L884.0,1250.4L884.5,1250.5L885.0,1250.5L885.5,1250.6L886.0,1250.6L886.5,1250.7L887.0,1250.7L887.5,1250.7L888.0,1250.8L888.5,1250.8L889.0,1250.9L889.5,1250.9L890.0,1251.0L890.5,1251.0L891.0,1251.1L891.5,1251.1L892.0,1251.2L892.5,1251.2L893.0,1251.2L893.5,1251.3L894.0,1251.3L894.5,1251.4L895.0,1251.5L895.5,1251.5L896.0,1251.6L896.5,1251.6L897.0,1251.7L897.5,1251.7L898.0,1251.8L898.5,1251.8L899.0,1251.9L899.5,1252.0L900.0,1252.0L900.5,1252.1L901.0,1252.2L901.5,1252.2L902.0,1252.3L902.5,1252.4L903.0,1252.4L903.5,1252.5L904.0,1252.6L904.5,1252.7L905.0,1252.8L905.5,1252.8L906.0,1252.9L906.5,1253.0L907.0,1253.1L907.5,1253.2L908.0,1253.3L908.5,1253.4L909.0,1253.5L909.5,1253.6L910.0,1253.7L910.5,1253.8L911.0,1253.9L911.5,1254.0L912.0,1254.1L912.5,1254.2L913.0,1254.4L913.5,1254.5L914.0,1254.6L914.5,1254.8L915.0,1254.9L915.5,1255.1L916.0,1255.2L916.5,1255.4L917.0,1255.5L917.5,1255.7L918.0,1255.9L918.5,1256.1L919.0,1256.3L919.5,1256.5L920.0,1256.7L920.5,1256.9L921.0,1257.1L921.5,1257.3L922.0,1257.6L922.5,1257.8L923.0,1258.1L923.5,1258.4L924.0,1258.7L924.5,1259.0L925.0,1259.3L925.5,1259.6L926.0,1260.0L926.5,1260.3L927.0,1260.7L927.5,1261.1L928.0,1261.6L928.5,1262.0L929.0,1262.5L929.5,1263.0L930.0,1263.5L930.5,1264.1L931.0,1264.7L931.5,1265.4L932.0,1266.1L932.5,1266.8L933.0,1267.6L933.5,1268.5L934.0,1269.4L934.5,1270.4L935.0,1271.4L935.5,1272.6L936.0,1273.8L936.5,1275.2L937.0,1276.6L937.5,1278.2L938.0,1278.0L938.0,938.0L938.0,940.0L938.5,941.9L939.0,944.0L939.5,946.3L940.0,948.8L940.5,951.5L941.0,954.5L941.5,957.8L942.0,961.4L942.5,965.3L943.0,969.5L943.5,973.9L944.0,978.6L944.5,983.4L945.0,988.4L945.5,993.3L946.0,998.2L946.5,1002.9L947.0,1007.5L947.5,1011.7L948.0,1015.7L948.5,1019.4L949.0,1022.9L949.5,1026.0L950.0,1028.8L950.5,1031.5L951.0,1033.8L951.5,1036.0L952.0,1038.0L952.5,1039.8L953.0,1041.4L953.5,1043.0L954.0,1044.4L954.5,1045.6L955.0,1046.8L955.5,1047.9L956.0,1048.9L956.5,1049.9L957.0,1050.8L957.5,1051.6L958.0,1052.3L958.5,1053.0L959.0,1053.7L959.5,1054.3L960.0,1054.9L960.5,1055.5L961.0,1056.0L961.5,1056.5L962.0,1057.0L962.5,1057.4L963.0,1057.8L963.5,1058.2L964.0,1058.6L964.5,1058.9L965.0,1059.3L965.5,1059.6L966.0,1059.9L966.5,1060.2L967.0,1060.5L967.5,1060.8L968.0,1061.0L968.5,1061.3L969.0,1061.5L969.5,1061.7L970.0,1061.9L970.5,1062.2L971.0,1062.4L971.5,1062.6L972.0,1062.7L972.5,1062.9L973.0,1063.1L973.5,1063.3L974.0,1063.4L974.5,1063.6L975.0,1063.7L975.5,1063.9L976.0,1064.0L976.5,1064.1L977.0,1064.3L977.5,1064.4L978.0,1064.5L978.5,1064.6L979.0,1064.8L979.5,1064.9L980.0,1065.0L980.5,1065.1L981.0,1065.2L981.5,1065.3L982.0,1065.4L982.5,1065.5L983.0,1065.6L983.5,1065.7L984.0,1065.7L984.5,1065.8L985.0,1065.9L985.5,1066.0L986.0,1066.1L986.5,1066.1L987.0,1066.2L987.5,1066.3L988.0,1066.4L988.5,1066.4L989.0,1066.5L989.5,1066.6L990.0,1066.6L990.5,1066.7L991.0,1066.8L991.5,1066.8L992.0,1066.9L992.5,1066.9L993.0,1067.0L993.5,1067.0L994.0,1067.1L994.5,1067.2L995.0,1067.2L995.5,1067.3L996.0,1067.3L996.5,1067.4L997.0,1067.4L997.5,1067.5L998.0,1067.5L998.5,1067.6L999.0,1067.6L999.5,1067.7L1000.0,1067.7L1000.5,1067.8L1001.0,1067.8L1001.5,1067.8L1002.0,1067.9L1002.5,1067.9L1003.0,1068.0L1003.5,1068.0L1004.0,1068.1L1004.5,1068.1L1005.0,1068.1L1005.5,1068.2L1006.0,1068.2L1006.5,1068.3L1007.0,1068.3L1007.5,1068.4L1008.0,1068.4L1008.5,1068.4L1009.0,1068.5L1009.5,1068.5L1010.0,1068.6L1010.5,1068.6L1011.0,1068.6L1011.5,1068.7L1012.0,1068.7L1012.5,1068.8L1013.0,1068.8L1013.5,1068.9L1014.0,1068.9L1014.5,1068.9L1015.0,1069.0L1015.5,1069.0L1016.0,1069.1L1016.5,1069.1L1017.0,1069.1L1017.5,1069.2L1018.0,1069.2L1018.5,1069.3L1019.0,1069.3L1019.5,1069.4L1020.0,1069.4L1020.5,1069.5L1021.0,1069.5L1021.5,1069.6L1022.0,1069.6L1022.5,1069.6L1023.0,1069.7L1023.5,1069.7L1024.0,1069.8L1024.5,1069.8L1025.0,1069.9L1025.5,1070.0L1026.0,1070.0L1026.5,1070.1L1027.0,1070.1L1027.5,1070.2L1028.0,1070.2L1028.5,1070.3L1029.0,1070.4L1029.5,1070.4L1030.0,1070.5L1030.5,1070.5L1031.0,1070.6L1031.5,1070.7L1032.0,1070.7L1032.5,1070.8L1033.0,1070.9L1033.5,1071.0L1034.0,1071.0L1034.5,1071.1L1035.0,1071.2L1035.5,1071.3L1036.0,1071.3L1036.5,1071.4L1037.0,1071.5L1037.5,1071.6L1038.0,1071.7L1038.5,1071.8L1039.0,1071.9L1039.5,1072.0L1040.0,1072.1L1040.5,1072.2L1041.0,1072.3L1041.5,1072.4L1042.0,1072.5L1042.5,1072.6L1043.0,1072.8L1043.5,1072.9L1044.0,1073.0L1044.5,1073.2L1045.0,1073.3L1045.5,1073.4L1046.0,1073.6L1046.5,1073.8L1047.0,1073.9L1047.5,1074.1L1048.0,1074.3L1048.5,1074.4L1049.0,1074.6L1049.5,1074.8L1050.0,1075.0L1050.5,1075.2L1051.0,1075.4L1051.5,1075.7L1052.0,1075.9L1052.5,1076.1L1053.0,1076.4L1053.5,1076.7L1054.0,1077.0L1054.5,1077.2L1055.0,1077.6L1055.5,1077.9L1056.0,1078.2L1056.5,1078.6L1057.0,1079.0L1057.5,1079.4L1058.0,1079.8L1058.5,1080.2L1059.0,1080.7L1059.5,1081.2L1060.0,1081.7L1060.5,1082.2L1061.0,1082.8L1061.5,1083.5L1062.0,1084.1L1062.5,1084.8L1063.0,1085.6L1063.5,1086.4L1064.0,1087.3L1064.5,1088.2L1065.0,1089.2L1065.5,1090.3L1066.0,1091.5L1066.5,1092.8L1067.0,1094.2L1067.5,1095.7L1068.0,1097.4L1068.5,1099.2L1069.0,1101.2L1069.5,1103.3L1070.0,1105.7L1070.5,1108.3L1071.0,1111.2L1071.5,1114.3L1072.0,1117.7L1072.5,1121.4L1073.0,1125.4L1073.5,1129.7L1074.0,1134.2L1074.5,1139.0" fill="none" stroke="#ffff00" stroke-width="3" stroke-linejoin="round"/></g>
<polyline points="164.5,952.9 165.0,953.3 165.5,953.7 166.0,954.2 166.5,954.9 167.0,955.6 167.5,956.3 168.0,957.1 168.5,958.0 169.0,958.9 169.5,959.9 170.0,960.9 170.5,961.9 171.0,963.0 171.5,964.0 172.0,965.1 172.5,966.2 173.0,967.4 173.5,968.5 174.0,969.7 174.5,970.8 175.0,972.0 175.5,973.2 176.0,974.4 176.5,975.6 177.0,976.8 177.5,978.0 178.0,979.2 178.5,980.4 179.0,981.6 179.5,982.9 180.0,984.1 180.5,985.3 181.0,986.6 181.5,987.8 182.0,989.1 182.5,990.3 183.0,991.6 183.5,992.8 184.0,994.1 184.5,995.3 185.0,996.6 185.5,997.9 186.0,999.1 186.5,1000.4 187.0,1001.6 187.5,1002.9 188.0,1004.2 188.5,1005.4 189.0,1006.7 189.5,1008.0 190.0,1009.3 190.5,1010.5 191.0,1011.8 191.5,1013.1 192.0,1014.4 192.5,1015.6 193.0,1016.9 193.5,1018.2 194.0,1019.5 194.5,1020.7 195.0,1022.0 195.5,1023.3 196.0,1024.6 196.5,1025.9 197.0,1027.2 197.5,1028.4 198.0,1029.7 198.5,1031.0 199.0,1032.3 199.5,1033.6 200.0,1034.9 200.5,1036.1 201.0,1037.4 201.5,1038.7 202.0,1040.0 202.5,1041.3 203.0,1042.6 203.5,1043.9 204.0,1045.1 204.5,1046.4 205.0,1047.7 205.5,1049.0 206.0,1050.3 206.5,1051.6 207.0,1052.9 207.5,1054.2 208.0,1055.4 208.5,1056.7 209.0,1058.0 209.5,1059.3 210.0,1060.6 210.5,1061.9 211.0,1063.2 211.5,1064.5 212.0,1065.8 212.5,1067.1 213.0,1068.3 213.5,1069.6 214.0,1070.9 214.5,1072.2 215.0,1073.5 215.5,1074.8 216.0,1076.1 216.5,1077.4 217.0,1078.7 217.5,1080.0 218.0,1081.3 218.5,1082.5 219.0,1083.8 219.5,1085.1 220.0,1086.4 220.5,1087.7 221.0,1089.0 221.5,1090.3 222.0,1091.6 222.5,1092.9 223.0,1094.2 223.5,1095.5 224.0,1096.8 224.5,1098.0 225.0,1099.3 225.5,1100.6 226.0,1101.9 226.5,1103.2 227.0,1104.5 227.5,1105.8 228.0,1107.1 228.5,1108.4 229.0,1109.7 229.5,1111.0 230.0,1112.3 230.5,1113.5 231.0,1114.8 231.5,1116.1 232.0,1117.4 232.5,1118.7 233.0,1120.0 233.5,1121.3 234.0,1122.6 234.5,1123.9 235.0,1125.2 235.5,1126.5 236.0,1127.8 236.5,1129.0 237.0,1130.3 237.5,1131.6 238.0,1132.9 238.5,1134.2 239.0,1135.5 239.5,1136.8 240.0,1138.1 240.5,1139.4 241.0,1140.7 241.5,1142.0 242.0,1143.3 242.5,1144.5 243.0,1145.8 243.5,1147.1 244.0,1148.4 244.5,1149.7 245.0,1151.0 245.5,1152.3 246.0,1153.6 246.5,1154.9 247.0,1156.2 247.5,1157.4 248.0,1158.7 248.5,1160.0 249.0,1161.3 249.5,1162.6 250.0,1163.9 250.5,1165.2 251.0,1166.5 251.5,1167.8 252.0,1169.0 252.5,1170.3 253.0,1171.6 253.5,1172.9 254.0,1174.2 254.5,1175.5 255.0,1176.8 255.5,1178.0 256.0,1179.3 256.5,1180.6 257.0,1181.9 257.5,1183.2 258.0,1184.5 258.5,1185.8 259.0,1187.0 259.5,1188.3 260.0,1189.6 260.5,1190.9 261.0,1192.2 261.5,1193.4 262.0,1194.7 262.5,1196.0 263.0,1197.3 263.5,1198.6 264.0,1199.8 264.5,1201.1 265.0,1202.4 265.5,1203.7 266.0,1204.9 266.5,1206.2 267.0,1207.5 267.5,1208.8 268.0,1210.0 268.5,1211.3 269.0,1212.6 269.5,1213.8 270.0,1215.1 270.5,1216.4 271.0,1217.6 271.5,1218.9 272.0,1220.2 272.5,1221.4 273.0,1222.7 273.5,1223.9 274.0,1225.2 274.5,1226.4 275.0,1227.7 275.5,1228.9 276.0,1230.2 276.5,1231.4 277.0,1232.6 277.5,1233.9 278.0,1235.1 278.5,1236.3 279.0,1237.6 279.5,1238.8 280.0,1240.0 280.5,1241.2 281.0,1242.4 281.5,1243.6 282.0,1244.7 282.5,1245.9 283.0,1247.1 283.5,1248.2 284.0,1249.4 284.5,1250.5 285.0,1251.6 285.5,1252.7 286.0,1253.8 286.5,1254.8 287.0,1255.8 287.5,1256.8 288.0,1257.8 288.5,1258.7 289.0,1259.5 289.5,1260.3 290.0,1261.1 290.5,1261.8 291.0,1262.4 291.5,1262.9 292.0,1263.3 292.5,1263.6 293.0,1263.8 293.5,1263.9 294.0,1263.9 294.5,1263.7 295.0,1263.4 295.5,1263.1 296.0,1262.6 296.5,1262.0 297.0,1261.4 297.5,1260.6 298.0,1259.9 298.5,1259.0 299.0,1258.1 299.5,1257.2 300.0,1256.2 300.5,1255.2 301.0,1254.2 301.5,1253.1 302.0,1252.0 302.5,1250.9 303.0,1249.8 303.5,1248.7 304.0,1247.5 304.5,1246.4 305.0,1245.2 305.5,1244.0 306.0,1242.9 306.5,1241.7 307.0,1240.5 307.5,1239.3 308.0,1238.0 308.5,1236.8 309.0,1235.6 309.5,1234.4 310.0,1233.1 310.5,1231.9 311.0,1230.7 311.5,1229.4 312.0,1228.2 312.5,1226.9 313.0,1225.7 313.5,1224.4 314.0,1223.2 314.5,1221.9 315.0,1220.7 315.5,1219.4 316.0,1218.1 316.5,1216.9 317.0,1215.6 317.5,1214.4 318.0,1213.1 318.5,1211.8 319.0,1210.5 319.5,1209.3 320.0,1208.0 320.5,1206.7 321.0,1205.5 321.5,1204.2 322.0,1202.9 322.5,1201.6 323.0,1200.4 323.5,1199.1 324.0,1197.8 324.5,1196.5 325.0,1195.2 325.5,1194.0 326.0,1192.7 326.5,1191.4 327.0,1190.1 327.5,1188.8 328.0,1187.5 328.5,1186.3 329.0,1185.0 329.5,1183.7 330.0,1182.4 330.5,1181.1 331.0,1179.8 331.5,1178.6 332.0,1177.3 332.5,1176.0 333.0,1174.7 333.5,1173.4 334.0,1172.1 334.5,1170.8 335.0,1169.6 335.5,1168.3 336.0,1167.0 336.5,1165.7 337.0,1164.4 337.5,1163.1 338.0,1161.8 338.5,1160.5 339.0,1159.2 339.5,1158.0 340.0,1156.7 340.5,1155.4 341.0,1154.1 341.5,1152.8 342.0,1151.5 342.5,1150.2 343.0,1148.9 343.5,1147.6 344.0,1146.3 344.5,1145.1 345.0,1143.8 345.5,1142.5 346.0,1141.2 346.5,1139.9 347.0,1138.6 347.5,1137.3 348.0,1136.0 348.5,1134.7 349.0,1133.4 349.5,1132.1 350.0,1130.9 350.5,1129.6 351.0,1128.3 351.5,1127.0 352.0,1125.7 352.5,1124.4 353.0,1123.1 353.5,1121.8 354.0,1120.5 354.5,1119.2 355.0,1117.9 355.5,1116.6 356.0,1115.4 356.5,1114.1 357.0,1112.8 357.5,1111.5 358.0,1110.2 358.5,1108.9 359.0,1107.6 359.5,1106.3 360.0,1105.0 360.5,1103.7 361.0,1102.4 361.5,1101.1 362.0,1099.9 362.5,1098.6 363.0,1097.3 363.5,1096.0 364.0,1094.7 364.5,1093.4 365.0,1092.1 365.5,1090.8 366.0,1089.5 366.5,1088.2 367.0,1086.9 367.5,1085.6 368.0,1084.4 368.5,1083.1 369.0,1081.8 369.5,1080.5 370.0,1079.2 370.5,1077.9 371.0,1076.6 371.5,1075.3 372.0,1074.0 372.5,1072.7 373.0,1071.4 373.5,1070.2 374.0,1068.9 374.5,1067.6 375.0,1066.3 375.5,1065.0 376.0,1063.7 376.5,1062.4 377.0,1061.1 377.5,1059.8 378.0,1058.5 378.5,1057.3 379.0,1056.0 379.5,1054.7 380.0,1053.4 380.5,1052.1 381.0,1050.8 381.5,1049.5 382.0,1048.2 382.5,1046.9 383.0,1045.7 383.5,1044.4 384.0,1043.1 384.5,1041.8 385.0,1040.5 385.5,1039.2 386.0,1037.9 386.5,1036.7 387.0,1035.4 387.5,1034.1 388.0,1032.8 388.5,1031.5 389.0,1030.2 389.5,1029.0 390.0,1027.7 390.5,1026.4 391.0,1025.1 391.5,1023.8 392.0,1022.5 392.5,1021.3 393.0,1020.0 393.5,1018.7 394.0,1017.4 394.5,1016.1 395.0,1014.9 395.5,1013.6 396.0,1012.3 396.5,1011.0 397.0,1009.8 397.5,1008.5 398.0,1007.2 398.5,1006.0 399.0,1004.7 399.5,1003.4 400.0,1002.1 400.5,1000.9 401.0,999.6 401.5,998.4 402.0,997.1 402.5,995.8 403.0,994.6 403.5,993.3 404.0,992.1 404.5,990.8 405.0,989.6 405.5,988.3 406.0,987.1 406.5,985.8 407.0,984.6 407.5,983.4 408.0,982.1 408.5,980.9 409.0,979.7 409.5,978.5 410.0,977.2 410.5,976.0 411.0,974.8 411.5,973.6 412.0,972.5 412.5,971.3 413.0,970.1 413.5,969.0 414.0,967.8 414.5,966.7 415.0,965.6 415.5,964.5 416.0,963.4 416.5,962.3 417.0,961.3 417.5,960.3 418.0,959.3 418.5,958.4 419.0,957.5 419.5,956.6 420.0,955.9 420.5,955.1 421.0,954.5 421.5,953.9 422.0,953.4 422.5,953.1 423.0,952.8 423.5,952.6 424.0,952.6 424.5,952.7 425.0,952.9 425.5,953.2 426.0,953.6 426.5,954.1 427.0,954.7 427.5,955.4 428.0,956.2 428.5,957.0 429.0,957.8 429.5,958.7 430.0,959.7 430.5,960.7 431.0,961.7 431.5,962.7 432.0,963.8 432.5,964.9 433.0,966.0 433.5,967.1 434.0,968.3 434.5,969.4 435.0,970.6 435.5,971.8 436.0,972.9 436.5,974.1 437.0,975.3 437.5,976.5 438.0,977.7 438.5,978.9 439.0,980.2 439.5,981.4 440.0,982.6 440.5,983.9 441.0,985.1 441.5,986.3 442.0,987.6 442.5,988.8 443.0,990.1 443.5,991.3 444.0,992.6 444.5,993.8 445.0,995.1 445.5,996.3 446.0,997.6 446.5,998.9 447.0,1000.1 447.5,1001.4 448.0,1002.7 448.5,1003.9 449.0,1005.2 449.5,1006.5 450.0,1007.7 450.5,1009.0 451.0,1010.3 451.5,1011.6 452.0,1012.8 452.5,1014.1 453.0,1015.4 453.5,1016.7 454.0,1017.9 454.5,1019.2 455.0,1020.5 455.5,1021.8 456.0,1023.1 456.5,1024.3 457.0,1025.6 457.5,1026.9 458.0,1028.2 458.5,1029.5 459.0,1030.7 459.5,1032.0 460.0,1033.3 460.5,1034.6 461.0,1035.9 461.5,1037.2 462.0,1038.5 462.5,1039.7 463.0,1041.0 463.5,1042.3 464.0,1043.6 464.5,1044.9 465.0,1046.2 465.5,1047.5 466.0,1048.7 466.5,1050.0 467.0,1051.3 467.5,1052.6 468.0,1053.9 468.5,1055.2 469.0,1056.5 469.5,1057.8 470.0,1059.1 470.5,1060.3 471.0,1061.6 471.5,1062.9 472.0,1064.2 472.5,1065.5 473.0,1066.8 473.5,1068.1 474.0,1069.4 474.5,1070.7 475.0,1072.0 475.5,1073.2 476.0,1074.5 476.5,1075.8 477.0,1077.1 477.5,1078.4 478.0,1079.7 478.5,1081.0 479.0,1082.3 479.5,1083.6 480.0,1084.9 480.5,1086.2 481.0,1087.5 481.5,1088.7 482.0,1090.0 482.5,1091.3 483.0,1092.6 483.5,1093.9 484.0,1095.2 484.5,1096.5 485.0,1097.8 485.5,1099.1 486.0,1100.4 486.5,1101.7 487.0,1103.0 487.5,1104.2 488.0,1105.5 488.5,1106.8 489.0,1108.1 489.5,1109.4 490.0,1110.7 490.5,1112.0 491.0,1113.3 491.5,1114.6 492.0,1115.9 492.5,1117.2 493.0,1118.5 493.5,1119.7 494.0,1121.0 494.5,1122.3 495.0,1123.6 495.5,1124.9 496.0,1126.2 496.5,1127.5 497.0,1128.8 497.5,1130.1 498.0,1131.4 498.5,1132.7 499.0,1134.0 499.5,1135.2 500.0,1136.5 500.5,1137.8 501.0,1139.1 501.5,1140.4 502.0,1141.7 502.5,1143.0 503.0,1144.3 503.5,1145.6 504.0,1146.9 504.5,1148.2 505.0,1149.4 505.5,1150.7 506.0,1152.0 506.5,1153.3 507.0,1154.6 507.5,1155.9 508.0,1157.2 508.5,1158.5 509.0,1159.8 509.5,1161.1 510.0,1162.3 510.5,1163.6 511.0,1164.9 511.5,1166.2 512.0,1167.5 512.5,1168.8 513.0,1170.1 513.5,1171.4 514.0,1172.6 514.5,1173.9 515.0,1175.2 515.5,1176.5 516.0,1177.8 516.5,1179.1 517.0,1180.4 517.5,1181.6 518.0,1182.9 518.5,1184.2 519.0,1185.5 519.5,1186.8 520.0,1188.1 520.5,1189.3 521.0,1190.6 521.5,1191.9 522.0,1193.2 522.5,1194.5 523.0,1195.8 523.5,1197.0 524.0,1198.3 524.5,1199.6 525.0,1200.9 525.5,1202.1 526.0,1203.4 526.5,1204.7 527.0,1206.0 527.5,1207.2 528.0,1208.5 528.5,1209.8 529.0,1211.1 529.5,1212.3 530.0,1213.6 530.5,1214.9 531.0,1216.1 531.5,1217.4 532.0,1218.6 532.5,1219.9 533.0,1221.2 533.5,1222.4 534.0,1223.7 534.5,1224.9 535.0,1226.2 535.5,1227.4 536.0,1228.7 536.5,1229.9 537.0,1231.2 537.5,1232.4 538.0,1233.6 538.5,1234.9 539.0,1236.1 539.5,1237.3 540.0,1238.5 540.5,1239.7 541.0,1240.9 541.5,1242.1 542.0,1243.3 542.5,1244.5 543.0,1245.7 543.5,1246.8 544.0,1248.0 544.5,1249.1 545.0,1250.3 545.5,1251.4 546.0,1252.5 546.5,1253.5 547.0,1254.6 547.5,1255.6 548.0,1256.6 548.5,1257.6 549.0,1258.5 549.5,1259.4 550.0,1260.2 550.5,1260.9 551.0,1261.6 551.5,1262.3 552.0,1262.8 552.5,1263.2 553.0,1263.6 553.5,1263.8 554.0,1263.9 554.5,1263.9 555.0,1263.7 555.5,1263.5 556.0,1263.1 556.5,1262.7 557.0,1262.1 557.5,1261.5 558.0,1260.8 558.5,1260.0 559.0,1259.2 559.5,1258.3 560.0,1257.4 560.5,1256.4 561.0,1255.4 561.5,1254.4 562.0,1253.3 562.5,1252.3 563.0,1251.2 563.5,1250.0 564.0,1248.9 564.5,1247.8 565.0,1246.6 565.5,1245.5 566.0,1244.3 566.5,1243.1 567.0,1241.9 567.5,1240.7 568.0,1239.5 568.5,1238.3 569.0,1237.1 569.5,1235.8 570.0,1234.6 570.5,1233.4 571.0,1232.2 571.5,1230.9 572.0,1229.7 572.5,1228.4 573.0,1227.2 573.5,1225.9 574.0,1224.7 574.5,1223.4 575.0,1222.2 575.5,1220.9 576.0,1219.7 576.5,1218.4 577.0,1217.1 577.5,1215.9 578.0,1214.6 578.5,1213.3 579.0,1212.1 579.5,1210.8 580.0,1209.5 580.5,1208.3 581.0,1207.0 581.5,1205.7 582.0,1204.4 582.5,1203.2 583.0,1201.9 583.5,1200.6 584.0,1199.3 584.5,1198.1 585.0,1196.8 585.5,1195.5 586.0,1194.2 586.5,1192.9 587.0,1191.7 587.5,1190.4 588.0,1189.1 588.5,1187.8 589.0,1186.5 589.5,1185.2 590.0,1184.0 590.5,1182.7 591.0,1181.4 591.5,1180.1 592.0,1178.8 592.5,1177.5 593.0,1176.2 593.5,1175.0 594.0,1173.7 594.5,1172.4 595.0,1171.1 595.5,1169.8 596.0,1168.5 596.5,1167.2 597.0,1165.9 597.5,1164.7 598.0,1163.4 598.5,1162.1 599.0,1160.8 599.5,1159.5 600.0,1158.2 600.5,1156.9 601.0,1155.6 601.5,1154.3 602.0,1153.1 602.5,1151.8 603.0,1150.5 603.5,1149.2 604.0,1147.9 604.5,1146.6 605.0,1145.3 605.5,1144.0 606.0,1142.7 606.5,1141.4 607.0,1140.2 607.5,1138.9 608.0,1137.6 608.5,1136.3 609.0,1135.0 609.5,1133.7 610.0,1132.4 610.5,1131.1 611.0,1129.8 611.5,1128.5 612.0,1127.2 612.5,1125.9 613.0,1124.7 613.5,1123.4 614.0,1122.1 614.5,1120.8 615.0,1119.5 615.5,1118.2 616.0,1116.9 616.5,1115.6 617.0,1114.3 617.5,1113.0 618.0,1111.7 618.5,1110.4 619.0,1109.2 619.5,1107.9 620.0,1106.6 620.5,1105.3 621.0,1104.0 621.5,1102.7 622.0,1101.4 622.5,1100.1 623.0,1098.8 623.5,1097.5 624.0,1096.2 624.5,1094.9 625.0,1093.7 625.5,1092.4 626.0,1091.1 626.5,1089.8 627.0,1088.5 627.5,1087.2 628.0,1085.9 628.5,1084.6 629.0,1083.3 629.5,1082.0 630.0,1080.7 630.5,1079.4 631.0,1078.2 631.5,1076.9 632.0,1075.6 632.5,1074.3 633.0,1073.0 633.5,1071.7 634.0,1070.4 634.5,1069.1 635.0,1067.8 635.5,1066.5 636.0,1065.2 636.5,1064.0 637.0,1062.7 637.5,1061.4 638.0,1060.1 638.5,1058.8 639.0,1057.5 639.5,1056.2 640.0,1054.9 640.5,1053.6 641.0,1052.4 641.5,1051.1 642.0,1049.8 642.5,1048.5 643.0,1047.2 643.5,1045.9 644.0,1044.6 644.5,1043.3 645.0,1042.1 645.5,1040.8 646.0,1039.5 646.5,1038.2 647.0,1036.9 647.5,1035.6 648.0,1034.3 648.5,1033.1 649.0,1031.8 649.5,1030.5 650.0,1029.2 650.5,1027.9 651.0,1026.6 651.5,1025.4 652.0,1024.1 652.5,1022.8 653.0,1021.5 653.5,1020.2 654.0,1019.0 654.5,1017.7 655.0,1016.4 655.5,1015.1 656.0,1013.8 656.5,1012.6 657.0,1011.3 657.5,1010.0 658.0,1008.8 658.5,1007.5 659.0,1006.2 659.5,1004.9 660.0,1003.7 660.5,1002.4 661.0,1001.1 661.5,999.9 662.0,998.6 662.5,997.3 663.0,996.1 663.5,994.8 664.0,993.6 664.5,992.3 665.0,991.1 665.5,989.8 666.0,988.6 666.5,987.3 667.0,986.1 667.5,984.8 668.0,983.6 668.5,982.4 669.0,981.1 669.5,979.9 670.0,978.7 670.5,977.5 671.0,976.3 671.5,975.1 672.0,973.9 672.5,972.7 673.0,971.5 673.5,970.3 674.0,969.2 674.5,968.0 675.0,966.9 675.5,965.8 676.0,964.7 676.5,963.6 677.0,962.5 677.5,961.5 678.0,960.5 678.5,959.5 679.0,958.6 679.5,957.7 680.0,956.8 680.5,956.0 681.0,955.3 681.5,954.6 682.0,954.0 682.5,953.5 683.0,953.1 683.5,952.8 684.0,952.7 684.5,952.6 685.0,952.7 685.5,952.8 686.0,953.1 686.5,953.5 687.0,954.0 687.5,954.6 688.0,955.3 688.5,956.0 689.0,956.8 689.5,957.7 690.0,958.6 690.5,959.5 691.0,960.5 691.5,961.5 692.0,962.5 692.5,963.6 693.0,964.7 693.5,965.8 694.0,966.9 694.5,968.0 695.0,969.2 695.5,970.3 696.0,971.5 696.5,972.7 697.0,973.9 697.5,975.1 698.0,976.3 698.5,977.5 699.0,978.7 699.5,979.9 700.0,981.1 700.5,982.4 701.0,983.6 701.5,984.8 702.0,986.1 702.5,987.3 703.0,988.6 703.5,989.8 704.0,991.1 704.5,992.3 705.0,993.6 705.5,994.8 706.0,996.1 706.5,997.3 707.0,998.6 707.5,999.9 708.0,1001.1 708.5,1002.4 709.0,1003.7 709.5,1004.9 710.0,1006.2 710.5,1007.5 711.0,1008.8 711.5,1010.0 712.0,1011.3 712.5,1012.6 713.0,1013.8 713.5,1015.1 714.0,1016.4 714.5,1017.7 715.0,1019.0 715.5,1020.2 716.0,1021.5 716.5,1022.8 717.0,1024.1 717.5,1025.4 718.0,1026.6 718.5,1027.9 719.0,1029.2 719.5,1030.5 720.0,1031.8 720.5,1033.1 721.0,1034.3 721.5,1035.6 722.0,1036.9 722.5,1038.2 723.0,1039.5 723.5,1040.8 724.0,1042.1 724.5,1043.3 725.0,1044.6 725.5,1045.9 726.0,1047.2 726.5,1048.5 727.0,1049.8 727.5,1051.1 728.0,1052.4 728.5,1053.6 729.0,1054.9 729.5,1056.2 730.0,1057.5 730.5,1058.8 731.0,1060.1 731.5,1061.4 732.0,1062.7 732.5,1064.0 733.0,1065.2 733.5,1066.5 734.0,1067.8 734.5,1069.1 735.0,1070.4 735.5,1071.7 736.0,1073.0 736.5,1074.3 737.0,1075.6 737.5,1076.9 738.0,1078.2 738.5,1079.4 739.0,1080.7 739.5,1082.0 740.0,1083.3 740.5,1084.6 741.0,1085.9 741.5,1087.2 742.0,1088.5 742.5,1089.8 743.0,1091.1 743.5,1092.4 744.0,1093.7 744.5,1094.9 745.0,1096.2 745.5,1097.5 746.0,1098.8 746.5,1100.1 747.0,1101.4 747.5,1102.7 748.0,1104.0 748.5,1105.3 749.0,1106.6 749.5,1107.9 750.0,1109.2 750.5,1110.4 751.0,1111.7 751.5,1113.0 752.0,1114.3 752.5,1115.6 753.0,1116.9 753.5,1118.2 754.0,1119.5 754.5,1120.8 755.0,1122.1 755.5,1123.4 756.0,1124.7 756.5,1125.9 757.0,1127.2 757.5,1128.5 758.0,1129.8 758.5,1131.1 759.0,1132.4 759.5,1133.7 760.0,1135.0 760.5,1136.3 761.0,1137.6 761.5,1138.9 762.0,1140.2 762.5,1141.4 763.0,1142.7 763.5,1144.0 764.0,1145.3 764.5,1146.6 765.0,1147.9 765.5,1149.2 766.0,1150.5 766.5,1151.8 767.0,1153.1 767.5,1154.3 768.0,1155.6 768.5,1156.9 769.0,1158.2 769.5,1159.5 770.0,1160.8 770.5,1162.1 771.0,1163.4 771.5,1164.7 772.0,1165.9 772.5,1167.2 773.0,1168.5 773.5,1169.8 774.0,1171.1 774.5,1172.4 775.0,1173.7 775.5,1175.0 776.0,1176.2 776.5,1177.5 777.0,1178.8 777.5,1180.1 778.0,1181.4 778.5,1182.7 779.0,1184.0 779.5,1185.2 780.0,1186.5 780.5,1187.8 781.0,1189.1 781.5,1190.4 782.0,1191.7 782.5,1192.9 783.0,1194.2 783.5,1195.5 784.0,1196.8 784.5,1198.1 785.0,1199.3 785.5,1200.6 786.0,1201.9 786.5,1203.2 787.0,1204.4 787.5,1205.7 788.0,1207.0 788.5,1208.3 789.0,1209.5 789.5,1210.8 790.0,1212.1 790.5,1213.3 791.0,1214.6 791.5,1215.9 792.0,1217.1 792.5,1218.4 793.0,1219.7 793.5,1220.9 794.0,1222.2 794.5,1223.4 795.0,1224.7 795.5,1225.9 796.0,1227.2 796.5,1228.4 797.0,1229.7 797.5,1230.9 798.0,1232.2 798.5,1233.4 799.0,1234.6 799.5,1235.8 800.0,1237.1 800.5,1238.3 801.0,1239.5 801.5,1240.7 802.0,1241.9 802.5,1243.1 803.0,1244.3 803.5,1245.5 804.0,1246.6 804.5,1247.8 805.0,1248.9 805.5,1250.0 806.0,1251.2 806.5,1252.3 807.0,1253.3 807.5,1254.4 808.0,1255.4 808.5,1256.4 809.0,1257.4 809.5,1258.3 810.0,1259.2 810.5,1260.0 811.0,1260.8 811.5,1261.5 812.0,1262.1 812.5,1262.7 813.0,1263.1 813.5,1263.5 814.0,1263.7 814.5,1263.9 815.0,1263.9 815.5,1263.8 816.0,1263.6 816.5,1263.2 817.0,1262.8 817.5,1262.3 818.0,1261.6 818.5,1260.9 819.0,1260.2 819.5,1259.4 820.0,1258.5 820.5,1257.6 821.0,1256.6 821.5,1255.6 822.0,1254.6 822.5,1253.5 823.0,1252.5 823.5,1251.4 824.0,1250.3 824.5,1249.1 825.0,1248.0 825.5,1246.8 826.0,1245.7 826.5,1244.5 827.0,1243.3 827.5,1242.1 828.0,1240.9 828.5,1239.7 829.0,1238.5 829.5,1237.3 830.0,1236.1 830.5,1234.9 831.0,1233.6 831.5,1232.4 832.0,1231.2 832.5,1229.9 833.0,1228.7 833.5,1227.4 834.0,1226.2 834.5,1224.9 835.0,1223.7 835.5,1222.4 836.0,1221.2 836.5,1219.9 837.0,1218.6 837.5,1217.4 838.0,1216.1 838.5,1214.9 839.0,1213.6 839.5,1212.3 840.0,1211.1 840.5,1209.8 841.0,1208.5 841.5,1207.2 842.0,1206.0 842.5,1204.7 843.0,1203.4 843.5,1202.1 844.0,1200.9 844.5,1199.6 845.0,1198.3 845.5,1197.0 846.0,1195.8 846.5,1194.5 847.0,1193.2 847.5,1191.9 848.0,1190.6 848.5,1189.3 849.0,1188.1 849.5,1186.8 850.0,1185.5 850.5,1184.2 851.0,1182.9 851.5,1181.6 852.0,1180.4 852.5,1179.1 853.0,1177.8 853.5,1176.5 854.0,1175.2 854.5,1173.9 855.0,1172.6 855.5,1171.4 856.0,1170.1 856.5,1168.8 857.0,1167.5 857.5,1166.2 858.0,1164.9 858.5,1163.6 859.0,1162.3 859.5,1161.1 860.0,1159.8 860.5,1158.5 861.0,1157.2 861.5,1155.9 862.0,1154.6 862.5,1153.3 863.0,1152.0 863.5,1150.7 864.0,1149.4 864.5,1148.2 865.0,1146.9 865.5,1145.6 866.0,1144.3 866.5,1143.0 867.0,1141.7 867.5,1140.4 868.0,1139.1 868.5,1137.8 869.0,1136.5 869.5,1135.2 870.0,1134.0 870.5,1132.7 871.0,1131.4 871.5,1130.1 872.0,1128.8 872.5,1127.5 873.0,1126.2 873.5,1124.9 874.0,1123.6 874.5,1122.3 875.0,1121.0 875.5,1119.7 876.0,1118.5 876.5,1117.2 877.0,1115.9 877.5,1114.6 878.0,1113.3 878.5,1112.0 879.0,1110.7 879.5,1109.4 880.0,1108.1 880.5,1106.8 881.0,1105.5 881.5,1104.2 882.0,1103.0 882.5,1101.7 883.0,1100.4 883.5,1099.1 884.0,1097.8 884.5,1096.5 885.0,1095.2 885.5,1093.9 886.0,1092.6 886.5,1091.3 887.0,1090.0 887.5,1088.7 888.0,1087.5 888.5,1086.2 889.0,1084.9 889.5,1083.6 890.0,1082.3 890.5,1081.0 891.0,1079.7 891.5,1078.4 892.0,1077.1 892.5,1075.8 893.0,1074.5 893.5,1073.2 894.0,1072.0 894.5,1070.7 895.0,1069.4 895.5,1068.1 896.0,1066.8 896.5,1065.5 897.0,1064.2 897.5,1062.9 898.0,1061.6 898.5,1060.3 899.0,1059.1 899.5,1057.8 900.0,1056.5 900.5,1055.2 901.0,1053.9 901.5,1052.6 902.0,1051.3 902.5,1050.0 903.0,1048.7 903.5,1047.5 904.0,1046.2 904.5,1044.9 905.0,1043.6 905.5,1042.3 906.0,1041.0 906.5,1039.7 907.0,1038.5 907.5,1037.2 908.0,1035.9 908.5,1034.6 909.0,1033.3 909.5,1032.0 910.0,1030.7 910.5,1029.5 911.0,1028.2 911.5,1026.9 912.0,1025.6 912.5,1024.3 913.0,1023.1 913.5,1021.8 914.0,1020.5 914.5,1019.2 915.0,1017.9 915.5,1016.7 916.0,1015.4 916.5,1014.1 917.0,1012.8 917.5,1011.6 918.0,1010.3 918.5,1009.0 919.0,1007.7 919.5,1006.5 920.0,1005.2 920.5,1003.9 921.0,1002.7 921.5,1001.4 922.0,1000.1 922.5,998.9 923.0,997.6 923.5,996.3 924.0,995.1 924.5,993.8 925.0,992.6 925.5,991.3 926.0,990.1 926.5,988.8 927.0,987.6 927.5,986.3 928.0,985.1 928.5,983.9 929.0,982.6 929.5,981.4 930.0,980.2 930.5,978.9 931.0,977.7 931.5,976.5 932.0,975.3 932.5,974.1 933.0,972.9 933.5,971.8 934.0,970.6 934.5,969.4 935.0,968.3 935.5,967.1 936.0,966.0 936.5,964.9 937.0,963.8 937.5,962.7 938.0,961.7 938.5,960.7 939.0,959.7 939.5,958.7 940.0,957.8 940.5,957.0 941.0,956.2 941.5,955.4 942.0,954.7 942.5,954.1 943.0,953.6 943.5,953.2 944.0,952.9 944.5,952.7 945.0,952.6 945.5,952.6 946.0,952.8 946.5,953.1 947.0,953.4 947.5,953.9 948.0,954.5 948.5,955.1 949.0,955.9 949.5,956.6 950.0,957.5 950.5,958.4 951.0,959.3 951.5,960.3 952.0,961.3 952.5,962.3 953.0,963.4 953.5,964.5 954.0,965.6 954.5,966.7 955.0,967.8 955.5,969.0 956.0,970.1 956.5,971.3 957.0,972.5 957.5,973.6 958.0,974.8 958.5,976.0 959.0,977.2 959.5,978.5 960.0,979.7 960.5,980.9 961.0,982.1 961.5,983.4 962.0,984.6 962.5,985.8 963.0,987.1 963.5,988.3 964.0,989.6 964.5,990.8 965.0,992.1 965.5,993.3 966.0,994.6 966.5,995.8 967.0,997.1 967.5,998.4 968.0,999.6 968.5,1000.9 969.0,1002.1 969.5,1003.4 970.0,1004.7 970.5,1006.0 971.0,1007.2 971.5,1008.5 972.0,1009.8 972.5,1011.0 973.0,1012.3 973.5,1013.6 974.0,1014.9 974.5,1016.1 975.0,1017.4 975.5,1018.7 976.0,1020.0 976.5,1021.3 977.0,1022.5 977.5,1023.8 978.0,1025.1 978.5,1026.4 979.0,1027.7 979.5,1029.0 980.0,1030.2 980.5,1031.5 981.0,1032.8 981.5,1034.1 982.0,1035.4 982.5,1036.7 983.0,1037.9 983.5,1039.2 984.0,1040.5 984.5,1041.8 985.0,1043.1 985.5,1044.4 986.0,1045.7 986.5,1046.9 987.0,1048.2 987.5,1049.5 988.0,1050.8 988.5,1052.1 989.0,1053.4 989.5,1054.7 990.0,1056.0 990.5,1057.3 991.0,1058.5 991.5,1059.8 992.0,1061.1 992.5,1062.4 993.0,1063.7 993.5,1065.0 994.0,1066.3 994.5,1067.6 995.0,1068.9 995.5,1070.2 996.0,1071.4 996.5,1072.7 997.0,1074.0 997.5,1075.3 998.0,1076.6 998.5,1077.9 999.0,1079.2 999.5,1080.5 1000.0,1081.8 1000.5,1083.1 1001.0,1084.4 1001.5,1085.6 1002.0,1086.9 1002.5,1088.2 1003.0,1089.5 1003.5,1090.8 1004.0,1092.1 1004.5,1093.4 1005.0,1094.7 1005.5,1096.0 1006.0,1097.3 1006.5,1098.6 1007.0,1099.9 1007.5,1101.1 1008.0,1102.4 1008.5,1103.7 1009.0,1105.0 1009.5,1106.3 1010.0,1107.6 1010.5,1108.9 1011.0,1110.2 1011.5,1111.5 1012.0,1112.8 1012.5,1114.1 1013.0,1115.4 1013.5,1116.6 1014.0,1117.9 1014.5,1119.2 1015.0,1120.5 1015.5,1121.8 1016.0,1123.1 1016.5,1124.4 1017.0,1125.7 1017.5,1127.0 1018.0,1128.3 1018.5,1129.6 1019.0,1130.9 1019.5,1132.1 1020.0,1133.4 1020.5,1134.7 1021.0,1136.0 1021.5,1137.3 1022.0,1138.6 1022.5,1139.9 1023.0,1141.2 1023.5,1142.5 1024.0,1143.8 1024.5,1145.1 1025.0,1146.3 1025.5,1147.6 1026.0,1148.9 1026.5,1150.2 1027.0,1151.5 1027.5,1152.8 1028.0,1154.1 1028.5,1155.4 1029.0,1156.7 1029.5,1158.0 1030.0,1159.2 1030.5,1160.5 1031.0,1161.8 1031.5,1163.1 1032.0,1164.4 1032.5,1165.7 1033.0,1167.0 1033.5,1168.3 1034.0,1169.6 1034.5,1170.8 1035.0,1172.1 1035.5,1173.4 1036.0,1174.7 1036.5,1176.0 1037.0,1177.3 1037.5,1178.6 1038.0,1179.8 1038.5,1181.1 1039.0,1182.4 1039.5,1183.7 1040.0,1185.0 1040.5,1186.3 1041.0,1187.5 1041.5,1188.8 1042.0,1190.1 1042.5,1191.4 1043.0,1192.7 1043.5,1194.0 1044.0,1195.2 1044.5,1196.5 1045.0,1197.8 1045.5,1199.1 1046.0,1200.4 1046.5,1201.6 1047.0,1202.9 1047.5,1204.2 1048.0,1205.5 1048.5,1206.7 1049.0,1208.0 1049.5,1209.3 1050.0,1210.5 1050.5,1211.8 1051.0,1213.1 1051.5,1214.4 1052.0,1215.6 1052.5,1216.9 1053.0,1218.1 1053.5,1219.4 1054.0,1220.7 1054.5,1221.9 1055.0,1223.2 1055.5,1224.4 1056.0,1225.7 1056.5,1226.9 1057.0,1228.2 1057.5,1229.4 1058.0,1230.7 1058.5,1231.9 1059.0,1233.1 1059.5,1234.4 1060.0,1235.6 1060.5,1236.8 1061.0,1238.0 1061.5,1239.3 1062.0,1240.5 1062.5,1241.7 1063.0,1242.9 1063.5,1244.0 1064.0,1245.2 1064.5,1246.4 1065.0,1247.5 1065.5,1248.7 1066.0,1249.8 1066.5,1250.9 1067.0,1252.0 1067.5,1253.1 1068.0,1254.2 1068.5,1255.2 1069.0,1256.2 1069.5,1257.2 1070.0,1258.1 1070.5,1259.0 1071.0,1259.9 1071.5,1260.6 1072.0,1261.4 1072.5,1262.0 1073.0,1262.6 1073.5,1263.1 1074.0,1263.4" fill="none" stroke="#000" stroke-width="8.8" stroke-linejoin="round" stroke-linecap="round"/>
<polyline points="164.5,952.9 165.0,953.3 165.5,953.7 166.0,954.2 166.5,954.9 167.0,955.6 167.5,956.3 168.0,957.1 168.5,958.0 169.0,958.9 169.5,959.9 170.0,960.9 170.5,961.9 171.0,963.0 171.5,964.0 172.0,965.1 172.5,966.2 173.0,967.4 173.5,968.5 174.0,969.7 174.5,970.8 175.0,972.0 175.5,973.2 176.0,974.4 176.5,975.6 177.0,976.8 177.5,978.0 178.0,979.2 178.5,980.4 179.0,981.6 179.5,982.9 180.0,984.1 180.5,985.3 181.0,986.6 181.5,987.8 182.0,989.1 182.5,990.3 183.0,991.6 183.5,992.8 184.0,994.1 184.5,995.3 185.0,996.6 185.5,997.9 186.0,999.1 186.5,1000.4 187.0,1001.6 187.5,1002.9 188.0,1004.2 188.5,1005.4 189.0,1006.7 189.5,1008.0 190.0,1009.3 190.5,1010.5 191.0,1011.8 191.5,1013.1 192.0,1014.4 192.5,1015.6 193.0,1016.9 193.5,1018.2 194.0,1019.5 194.5,1020.7 195.0,1022.0 195.5,1023.3 196.0,1024.6 196.5,1025.9 197.0,1027.2 197.5,1028.4 198.0,1029.7 198.5,1031.0 199.0,1032.3 199.5,1033.6 200.0,1034.9 200.5,1036.1 201.0,1037.4 201.5,1038.7 202.0,1040.0 202.5,1041.3 203.0,1042.6 203.5,1043.9 204.0,1045.1 204.5,1046.4 205.0,1047.7 205.5,1049.0 206.0,1050.3 206.5,1051.6 207.0,1052.9 207.5,1054.2 208.0,1055.4 208.5,1056.7 209.0,1058.0 209.5,1059.3 210.0,1060.6 210.5,1061.9 211.0,1063.2 211.5,1064.5 212.0,1065.8 212.5,1067.1 213.0,1068.3 213.5,1069.6 214.0,1070.9 214.5,1072.2 215.0,1073.5 215.5,1074.8 216.0,1076.1 216.5,1077.4 217.0,1078.7 217.5,1080.0 218.0,1081.3 218.5,1082.5 219.0,1083.8 219.5,1085.1 220.0,1086.4 220.5,1087.7 221.0,1089.0 221.5,1090.3 222.0,1091.6 222.5,1092.9 223.0,1094.2 223.5,1095.5 224.0,1096.8 224.5,1098.0 225.0,1099.3 225.5,1100.6 226.0,1101.9 226.5,1103.2 227.0,1104.5 227.5,1105.8 228.0,1107.1 228.5,1108.4 229.0,1109.7 229.5,1111.0 230.0,1112.3 230.5,1113.5 231.0,1114.8 231.5,1116.1 232.0,1117.4 232.5,1118.7 233.0,1120.0 233.5,1121.3 234.0,1122.6 234.5,1123.9 235.0,1125.2 235.5,1126.5 236.0,1127.8 236.5,1129.0 237.0,1130.3 237.5,1131.6 238.0,1132.9 238.5,1134.2 239.0,1135.5 239.5,1136.8 240.0,1138.1 240.5,1139.4 241.0,1140.7 241.5,1142.0 242.0,1143.3 242.5,1144.5 243.0,1145.8 243.5,1147.1 244.0,1148.4 244.5,1149.7 245.0,1151.0 245.5,1152.3 246.0,1153.6 246.5,1154.9 247.0,1156.2 247.5,1157.4 248.0,1158.7 248.5,1160.0 249.0,1161.3 249.5,1162.6 250.0,1163.9 250.5,1165.2 251.0,1166.5 251.5,1167.8 252.0,1169.0 252.5,1170.3 253.0,1171.6 253.5,1172.9 254.0,1174.2 254.5,1175.5 255.0,1176.8 255.5,1178.0 256.0,1179.3 256.5,1180.6 257.0,1181.9 257.5,1183.2 258.0,1184.5 258.5,1185.8 259.0,1187.0 259.5,1188.3 260.0,1189.6 260.5,1190.9 261.0,1192.2 261.5,1193.4 262.0,1194.7 262.5,1196.0 263.0,1197.3 263.5,1198.6 264.0,1199.8 264.5,1201.1 265.0,1202.4 265.5,1203.7 266.0,1204.9 266.5,1206.2 267.0,1207.5 267.5,1208.8 268.0,1210.0 268.5,1211.3 269.0,1212.6 269.5,1213.8 270.0,1215.1 270.5,1216.4 271.0,1217.6 271.5,1218.9 272.0,1220.2 272.5,1221.4 273.0,1222.7 273.5,1223.9 274.0,1225.2 274.5,1226.4 275.0,1227.7 275.5,1228.9 276.0,1230.2 276.5,1231.4 277.0,1232.6 277.5,1233.9 278.0,1235.1 278.5,1236.3 279.0,1237.6 279.5,1238.8 280.0,1240.0 280.5,1241.2 281.0,1242.4 281.5,1243.6 282.0,1244.7 282.5,1245.9 283.0,1247.1 283.5,1248.2 284.0,1249.4 284.5,1250.5 285.0,1251.6 285.5,1252.7 286.0,1253.8 286.5,1254.8 287.0,1255.8 287.5,1256.8 288.0,1257.8 288.5,1258.7 289.0,1259.5 289.5,1260.3 290.0,1261.1 290.5,1261.8 291.0,1262.4 291.5,1262.9 292.0,1263.3 292.5,1263.6 293.0,1263.8 293.5,1263.9 294.0,1263.9 294.5,1263.7 295.0,1263.4 295.5,1263.1 296.0,1262.6 296.5,1262.0 297.0,1261.4 297.5,1260.6 298.0,1259.9 298.5,1259.0 299.0,1258.1 299.5,1257.2 300.0,1256.2 300.5,1255.2 301.0,1254.2 301.5,1253.1 302.0,1252.0 302.5,1250.9 303.0,1249.8 303.5,1248.7 304.0,1247.5 304.5,1246.4 305.0,1245.2 305.5,1244.0 306.0,1242.9 306.5,1241.7 307.0,1240.5 307.5,1239.3 308.0,1238.0 308.5,1236.8 309.0,1235.6 309.5,1234.4 310.0,1233.1 310.5,1231.9 311.0,1230.7 311.5,1229.4 312.0,1228.2 312.5,1226.9 313.0,1225.7 313.5,1224.4 314.0,1223.2 314.5,1221.9 315.0,1220.7 315.5,1219.4 316.0,1218.1 316.5,1216.9 317.0,1215.6 317.5,1214.4 318.0,1213.1 318.5,1211.8 319.0,1210.5 319.5,1209.3 320.0,1208.0 320.5,1206.7 321.0,1205.5 321.5,1204.2 322.0,1202.9 322.5,1201.6 323.0,1200.4 323.5,1199.1 324.0,1197.8 324.5,1196.5 325.0,1195.2 325.5,1194.0 326.0,1192.7 326.5,1191.4 327.0,1190.1 327.5,1188.8 328.0,1187.5 328.5,1186.3 329.0,1185.0 329.5,1183.7 330.0,1182.4 330.5,1181.1 331.0,1179.8 331.5,1178.6 332.0,1177.3 332.5,1176.0 333.0,1174.7 333.5,1173.4 334.0,1172.1 334.5,1170.8 335.0,1169.6 335.5,1168.3 336.0,1167.0 336.5,1165.7 337.0,1164.4 337.5,1163.1 338.0,1161.8 338.5,1160.5 339.0,1159.2 339.5,1158.0 340.0,1156.7 340.5,1155.4 341.0,1154.1 341.5,1152.8 342.0,1151.5 342.5,1150.2 343.0,1148.9 343.5,1147.6 344.0,1146.3 344.5,1145.1 345.0,1143.8 345.5,1142.5 346.0,1141.2 346.5,1139.9 347.0,1138.6 347.5,1137.3 348.0,1136.0 348.5,1134.7 349.0,1133.4 349.5,1132.1 350.0,1130.9 350.5,1129.6 351.0,1128.3 351.5,1127.0 352.0,1125.7 352.5,1124.4 353.0,1123.1 353.5,1121.8 354.0,1120.5 354.5,1119.2 355.0,1117.9 355.5,1116.6 356.0,1115.4 356.5,1114.1 357.0,1112.8 357.5,1111.5 358.0,1110.2 358.5,1108.9 359.0,1107.6 359.5,1106.3 360.0,1105.0 360.5,1103.7 361.0,1102.4 361.5,1101.1 362.0,1099.9 362.5,1098.6 363.0,1097.3 363.5,1096.0 364.0,1094.7 364.5,1093.4 365.0,1092.1 365.5,1090.8 366.0,1089.5 366.5,1088.2 367.0,1086.9 367.5,1085.6 368.0,1084.4 368.5,1083.1 369.0,1081.8 369.5,1080.5 370.0,1079.2 370.5,1077.9 371.0,1076.6 371.5,1075.3 372.0,1074.0 372.5,1072.7 373.0,1071.4 373.5,1070.2 374.0,1068.9 374.5,1067.6 375.0,1066.3 375.5,1065.0 376.0,1063.7 376.5,1062.4 377.0,1061.1 377.5,1059.8 378.0,1058.5 378.5,1057.3 379.0,1056.0 379.5,1054.7 380.0,1053.4 380.5,1052.1 381.0,1050.8 381.5,1049.5 382.0,1048.2 382.5,1046.9 383.0,1045.7 383.5,1044.4 384.0,1043.1 384.5,1041.8 385.0,1040.5 385.5,1039.2 386.0,1037.9 386.5,1036.7 387.0,1035.4 387.5,1034.1 388.0,1032.8 388.5,1031.5 389.0,1030.2 389.5,1029.0 390.0,1027.7 390.5,1026.4 391.0,1025.1 391.5,1023.8 392.0,1022.5 392.5,1021.3 393.0,1020.0 393.5,1018.7 394.0,1017.4 394.5,1016.1 395.0,1014.9 395.5,1013.6 396.0,1012.3 396.5,1011.0 397.0,1009.8 397.5,1008.5 398.0,1007.2 398.5,1006.0 399.0,1004.7 399.5,1003.4 400.0,1002.1 400.5,1000.9 401.0,999.6 401.5,998.4 402.0,997.1 402.5,995.8 403.0,994.6 403.5,993.3 404.0,992.1 404.5,990.8 405.0,989.6 405.5,988.3 406.0,987.1 406.5,985.8 407.0,984.6 407.5,983.4 408.0,982.1 408.5,980.9 409.0,979.7 409.5,978.5 410.0,977.2 410.5,976.0 411.0,974.8 411.5,973.6 412.0,972.5 412.5,971.3 413.0,970.1 413.5,969.0 414.0,967.8 414.5,966.7 415.0,965.6 415.5,964.5 416.0,963.4 416.5,962.3 417.0,961.3 417.5,960.3 418.0,959.3 418.5,958.4 419.0,957.5 419.5,956.6 420.0,955.9 420.5,955.1 421.0,954.5 421.5,953.9 422.0,953.4 422.5,953.1 423.0,952.8 423.5,952.6 424.0,952.6 424.5,952.7 425.0,952.9 425.5,953.2 426.0,953.6 426.5,954.1 427.0,954.7 427.5,955.4 428.0,956.2 428.5,957.0 429.0,957.8 429.5,958.7 430.0,959.7 430.5,960.7 431.0,961.7 431.5,962.7 432.0,963.8 432.5,964.9 433.0,966.0 433.5,967.1 434.0,968.3 434.5,969.4 435.0,970.6 435.5,971.8 436.0,972.9 436.5,974.1 437.0,975.3 437.5,976.5 438.0,977.7 438.5,978.9 439.0,980.2 439.5,981.4 440.0,982.6 440.5,983.9 441.0,985.1 441.5,986.3 442.0,987.6 442.5,988.8 443.0,990.1 443.5,991.3 444.0,992.6 444.5,993.8 445.0,995.1 445.5,996.3 446.0,997.6 446.5,998.9 447.0,1000.1 447.5,1001.4 448.0,1002.7 448.5,1003.9 449.0,1005.2 449.5,1006.5 450.0,1007.7 450.5,1009.0 451.0,1010.3 451.5,1011.6 452.0,1012.8 452.5,1014.1 453.0,1015.4 453.5,1016.7 454.0,1017.9 454.5,1019.2 455.0,1020.5 455.5,1021.8 456.0,1023.1 456.5,1024.3 457.0,1025.6 457.5,1026.9 458.0,1028.2 458.5,1029.5 459.0,1030.7 459.5,1032.0 460.0,1033.3 460.5,1034.6 461.0,1035.9 461.5,1037.2 462.0,1038.5 462.5,1039.7 463.0,1041.0 463.5,1042.3 464.0,1043.6 464.5,1044.9 465.0,1046.2 465.5,1047.5 466.0,1048.7 466.5,1050.0 467.0,1051.3 467.5,1052.6 468.0,1053.9 468.5,1055.2 469.0,1056.5 469.5,1057.8 470.0,1059.1 470.5,1060.3 471.0,1061.6 471.5,1062.9 472.0,1064.2 472.5,1065.5 473.0,1066.8 473.5,1068.1 474.0,1069.4 474.5,1070.7 475.0,1072.0 475.5,1073.2 476.0,1074.5 476.5,1075.8 477.0,1077.1 477.5,1078.4 478.0,1079.7 478.5,1081.0 479.0,1082.3 479.5,1083.6 480.0,1084.9 480.5,1086.2 481.0,1087.5 481.5,1088.7 482.0,1090.0 482.5,1091.3 483.0,1092.6 483.5,1093.9 484.0,1095.2 484.5,1096.5 485.0,1097.8 485.5,1099.1 486.0,1100.4 486.5,1101.7 487.0,1103.0 487.5,1104.2 488.0,1105.5 488.5,1106.8 489.0,1108.1 489.5,1109.4 490.0,1110.7 490.5,1112.0 491.0,1113.3 491.5,1114.6 492.0,1115.9 492.5,1117.2 493.0,1118.5 493.5,1119.7 494.0,1121.0 494.5,1122.3 495.0,1123.6 495.5,1124.9 496.0,1126.2 496.5,1127.5 497.0,1128.8 497.5,1130.1 498.0,1131.4 498.5,1132.7 499.0,1134.0 499.5,1135.2 500.0,1136.5 500.5,1137.8 501.0,1139.1 501.5,1140.4 502.0,1141.7 502.5,1143.0 503.0,1144.3 503.5,1145.6 504.0,1146.9 504.5,1148.2 505.0,1149.4 505.5,1150.7 506.0,1152.0 506.5,1153.3 507.0,1154.6 507.5,1155.9 508.0,1157.2 508.5,1158.5 509.0,1159.8 509.5,1161.1 510.0,1162.3 510.5,1163.6 511.0,1164.9 511.5,1166.2 512.0,1167.5 512.5,1168.8 513.0,1170.1 513.5,1171.4 514.0,1172.6 514.5,1173.9 515.0,1175.2 515.5,1176.5 516.0,1177.8 516.5,1179.1 517.0,1180.4 517.5,1181.6 518.0,1182.9 518.5,1184.2 519.0,1185.5 519.5,1186.8 520.0,1188.1 520.5,1189.3 521.0,1190.6 521.5,1191.9 522.0,1193.2 522.5,1194.5 523.0,1195.8 523.5,1197.0 524.0,1198.3 524.5,1199.6 525.0,1200.9 525.5,1202.1 526.0,1203.4 526.5,1204.7 527.0,1206.0 527.5,1207.2 528.0,1208.5 528.5,1209.8 529.0,1211.1 529.5,1212.3 530.0,1213.6 530.5,1214.9 531.0,1216.1 531.5,1217.4 532.0,1218.6 532.5,1219.9 533.0,1221.2 533.5,1222.4 534.0,1223.7 534.5,1224.9 535.0,1226.2 535.5,1227.4 536.0,1228.7 536.5,1229.9 537.0,1231.2 537.5,1232.4 538.0,1233.6 538.5,1234.9 539.0,1236.1 539.5,1237.3 540.0,1238.5 540.5,1239.7 541.0,1240.9 541.5,1242.1 542.0,1243.3 542.5,1244.5 543.0,1245.7 543.5,1246.8 544.0,1248.0 544.5,1249.1 545.0,1250.3 545.5,1251.4 546.0,1252.5 546.5,1253.5 547.0,1254.6 547.5,1255.6 548.0,1256.6 548.5,1257.6 549.0,1258.5 549.5,1259.4 550.0,1260.2 550.5,1260.9 551.0,1261.6 551.5,1262.3 552.0,1262.8 552.5,1263.2 553.0,1263.6 553.5,1263.8 554.0,1263.9 554.5,1263.9 555.0,1263.7 555.5,1263.5 556.0,1263.1 556.5,1262.7 557.0,1262.1 557.5,1261.5 558.0,1260.8 558.5,1260.0 559.0,1259.2 559.5,1258.3 560.0,1257.4 560.5,1256.4 561.0,1255.4 561.5,1254.4 562.0,1253.3 562.5,1252.3 563.0,1251.2 563.5,1250.0 564.0,1248.9 564.5,1247.8 565.0,1246.6 565.5,1245.5 566.0,1244.3 566.5,1243.1 567.0,1241.9 567.5,1240.7 568.0,1239.5 568.5,1238.3 569.0,1237.1 569.5,1235.8 570.0,1234.6 570.5,1233.4 571.0,1232.2 571.5,1230.9 572.0,1229.7 572.5,1228.4 573.0,1227.2 573.5,1225.9 574.0,1224.7 574.5,1223.4 575.0,1222.2 575.5,1220.9 576.0,1219.7 576.5,1218.4 577.0,1217.1 577.5,1215.9 578.0,1214.6 578.5,1213.3 579.0,1212.1 579.5,1210.8 580.0,1209.5 580.5,1208.3 581.0,1207.0 581.5,1205.7 582.0,1204.4 582.5,1203.2 583.0,1201.9 583.5,1200.6 584.0,1199.3 584.5,1198.1 585.0,1196.8 585.5,1195.5 586.0,1194.2 586.5,1192.9 587.0,1191.7 587.5,1190.4 588.0,1189.1 588.5,1187.8 589.0,1186.5 589.5,1185.2 590.0,1184.0 590.5,1182.7 591.0,1181.4 591.5,1180.1 592.0,1178.8 592.5,1177.5 593.0,1176.2 593.5,1175.0 594.0,1173.7 594.5,1172.4 595.0,1171.1 595.5,1169.8 596.0,1168.5 596.5,1167.2 597.0,1165.9 597.5,1164.7 598.0,1163.4 598.5,1162.1 599.0,1160.8 599.5,1159.5 600.0,1158.2 600.5,1156.9 601.0,1155.6 601.5,1154.3 602.0,1153.1 602.5,1151.8 603.0,1150.5 603.5,1149.2 604.0,1147.9 604.5,1146.6 605.0,1145.3 605.5,1144.0 606.0,1142.7 606.5,1141.4 607.0,1140.2 607.5,1138.9 608.0,1137.6 608.5,1136.3 609.0,1135.0 609.5,1133.7 610.0,1132.4 610.5,1131.1 611.0,1129.8 611.5,1128.5 612.0,1127.2 612.5,1125.9 613.0,1124.7 613.5,1123.4 614.0,1122.1 614.5,1120.8 615.0,1119.5 615.5,1118.2 616.0,1116.9 616.5,1115.6 617.0,1114.3 617.5,1113.0 618.0,1111.7 618.5,1110.4 619.0,1109.2 619.5,1107.9 620.0,1106.6 620.5,1105.3 621.0,1104.0 621.5,1102.7 622.0,1101.4 622.5,1100.1 623.0,1098.8 623.5,1097.5 624.0,1096.2 624.5,1094.9 625.0,1093.7 625.5,1092.4 626.0,1091.1 626.5,1089.8 627.0,1088.5 627.5,1087.2 628.0,1085.9 628.5,1084.6 629.0,1083.3 629.5,1082.0 630.0,1080.7 630.5,1079.4 631.0,1078.2 631.5,1076.9 632.0,1075.6 632.5,1074.3 633.0,1073.0 633.5,1071.7 634.0,1070.4 634.5,1069.1 635.0,1067.8 635.5,1066.5 636.0,1065.2 636.5,1064.0 637.0,1062.7 637.5,1061.4 638.0,1060.1 638.5,1058.8 639.0,1057.5 639.5,1056.2 640.0,1054.9 640.5,1053.6 641.0,1052.4 641.5,1051.1 642.0,1049.8 642.5,1048.5 643.0,1047.2 643.5,1045.9 644.0,1044.6 644.5,1043.3 645.0,1042.1 645.5,1040.8 646.0,1039.5 646.5,1038.2 647.0,1036.9 647.5,1035.6 648.0,1034.3 648.5,1033.1 649.0,1031.8 649.5,1030.5 650.0,1029.2 650.5,1027.9 651.0,1026.6 651.5,1025.4 652.0,1024.1 652.5,1022.8 653.0,1021.5 653.5,1020.2 654.0,1019.0 654.5,1017.7 655.0,1016.4 655.5,1015.1 656.0,1013.8 656.5,1012.6 657.0,1011.3 657.5,1010.0 658.0,1008.8 658.5,1007.5 659.0,1006.2 659.5,1004.9 660.0,1003.7 660.5,1002.4 661.0,1001.1 661.5,999.9 662.0,998.6 662.5,997.3 663.0,996.1 663.5,994.8 664.0,993.6 664.5,992.3 665.0,991.1 665.5,989.8 666.0,988.6 666.5,987.3 667.0,986.1 667.5,984.8 668.0,983.6 668.5,982.4 669.0,981.1 669.5,979.9 670.0,978.7 670.5,977.5 671.0,976.3 671.5,975.1 672.0,973.9 672.5,972.7 673.0,971.5 673.5,970.3 674.0,969.2 674.5,968.0 675.0,966.9 675.5,965.8 676.0,964.7 676.5,963.6 677.0,962.5 677.5,961.5 678.0,960.5 678.5,959.5 679.0,958.6 679.5,957.7 680.0,956.8 680.5,956.0 681.0,955.3 681.5,954.6 682.0,954.0 682.5,953.5 683.0,953.1 683.5,952.8 684.0,952.7 684.5,952.6 685.0,952.7 685.5,952.8 686.0,953.1 686.5,953.5 687.0,954.0 687.5,954.6 688.0,955.3 688.5,956.0 689.0,956.8 689.5,957.7 690.0,958.6 690.5,959.5 691.0,960.5 691.5,961.5 692.0,962.5 692.5,963.6 693.0,964.7 693.5,965.8 694.0,966.9 694.5,968.0 695.0,969.2 695.5,970.3 696.0,971.5 696.5,972.7 697.0,973.9 697.5,975.1 698.0,976.3 698.5,977.5 699.0,978.7 699.5,979.9 700.0,981.1 700.5,982.4 701.0,983.6 701.5,984.8 702.0,986.1 702.5,987.3 703.0,988.6 703.5,989.8 704.0,991.1 704.5,992.3 705.0,993.6 705.5,994.8 706.0,996.1 706.5,997.3 707.0,998.6 707.5,999.9 708.0,1001.1 708.5,1002.4 709.0,1003.7 709.5,1004.9 710.0,1006.2 710.5,1007.5 711.0,1008.8 711.5,1010.0 712.0,1011.3 712.5,1012.6 713.0,1013.8 713.5,1015.1 714.0,1016.4 714.5,1017.7 715.0,1019.0 715.5,1020.2 716.0,1021.5 716.5,1022.8 717.0,1024.1 717.5,1025.4 718.0,1026.6 718.5,1027.9 719.0,1029.2 719.5,1030.5 720.0,1031.8 720.5,1033.1 721.0,1034.3 721.5,1035.6 722.0,1036.9 722.5,1038.2 723.0,1039.5 723.5,1040.8 724.0,1042.1 724.5,1043.3 725.0,1044.6 725.5,1045.9 726.0,1047.2 726.5,1048.5 727.0,1049.8 727.5,1051.1 728.0,1052.4 728.5,1053.6 729.0,1054.9 729.5,1056.2 730.0,1057.5 730.5,1058.8 731.0,1060.1 731.5,1061.4 732.0,1062.7 732.5,1064.0 733.0,1065.2 733.5,1066.5 734.0,1067.8 734.5,1069.1 735.0,1070.4 735.5,1071.7 736.0,1073.0 736.5,1074.3 737.0,1075.6 737.5,1076.9 738.0,1078.2 738.5,1079.4 739.0,1080.7 739.5,1082.0 740.0,1083.3 740.5,1084.6 741.0,1085.9 741.5,1087.2 742.0,1088.5 742.5,1089.8 743.0,1091.1 743.5,1092.4 744.0,1093.7 744.5,1094.9 745.0,1096.2 745.5,1097.5 746.0,1098.8 746.5,1100.1 747.0,1101.4 747.5,1102.7 748.0,1104.0 748.5,1105.3 749.0,1106.6 749.5,1107.9 750.0,1109.2 750.5,1110.4 751.0,1111.7 751.5,1113.0 752.0,1114.3 752.5,1115.6 753.0,1116.9 753.5,1118.2 754.0,1119.5 754.5,1120.8 755.0,1122.1 755.5,1123.4 756.0,1124.7 756.5,1125.9 757.0,1127.2 757.5,1128.5 758.0,1129.8 758.5,1131.1 759.0,1132.4 759.5,1133.7 760.0,1135.0 760.5,1136.3 761.0,1137.6 761.5,1138.9 762.0,1140.2 762.5,1141.4 763.0,1142.7 763.5,1144.0 764.0,1145.3 764.5,1146.6 765.0,1147.9 765.5,1149.2 766.0,1150.5 766.5,1151.8 767.0,1153.1 767.5,1154.3 768.0,1155.6 768.5,1156.9 769.0,1158.2 769.5,1159.5 770.0,1160.8 770.5,1162.1 771.0,1163.4 771.5,1164.7 772.0,1165.9 772.5,1167.2 773.0,1168.5 773.5,1169.8 774.0,1171.1 774.5,1172.4 775.0,1173.7 775.5,1175.0 776.0,1176.2 776.5,1177.5 777.0,1178.8 777.5,1180.1 778.0,1181.4 778.5,1182.7 779.0,1184.0 779.5,1185.2 780.0,1186.5 780.5,1187.8 781.0,1189.1 781.5,1190.4 782.0,1191.7 782.5,1192.9 783.0,1194.2 783.5,1195.5 784.0,1196.8 784.5,1198.1 785.0,1199.3 785.5,1200.6 786.0,1201.9 786.5,1203.2 787.0,1204.4 787.5,1205.7 788.0,1207.0 788.5,1208.3 789.0,1209.5 789.5,1210.8 790.0,1212.1 790.5,1213.3 791.0,1214.6 791.5,1215.9 792.0,1217.1 792.5,1218.4 793.0,1219.7 793.5,1220.9 794.0,1222.2 794.5,1223.4 795.0,1224.7 795.5,1225.9 796.0,1227.2 796.5,1228.4 797.0,1229.7 797.5,1230.9 798.0,1232.2 798.5,1233.4 799.0,1234.6 799.5,1235.8 800.0,1237.1 800.5,1238.3 801.0,1239.5 801.5,1240.7 802.0,1241.9 802.5,1243.1 803.0,1244.3 803.5,1245.5 804.0,1246.6 804.5,1247.8 805.0,1248.9 805.5,1250.0 806.0,1251.2 806.5,1252.3 807.0,1253.3 807.5,1254.4 808.0,1255.4 808.5,1256.4 809.0,1257.4 809.5,1258.3 810.0,1259.2 810.5,1260.0 811.0,1260.8 811.5,1261.5 812.0,1262.1 812.5,1262.7 813.0,1263.1 813.5,1263.5 814.0,1263.7 814.5,1263.9 815.0,1263.9 815.5,1263.8 816.0,1263.6 816.5,1263.2 817.0,1262.8 817.5,1262.3 818.0,1261.6 818.5,1260.9 819.0,1260.2 819.5,1259.4 820.0,1258.5 820.5,1257.6 821.0,1256.6 821.5,1255.6 822.0,1254.6 822.5,1253.5 823.0,1252.5 823.5,1251.4 824.0,1250.3 824.5,1249.1 825.0,1248.0 825.5,1246.8 826.0,1245.7 826.5,1244.5 827.0,1243.3 827.5,1242.1 828.0,1240.9 828.5,1239.7 829.0,1238.5 829.5,1237.3 830.0,1236.1 830.5,1234.9 831.0,1233.6 831.5,1232.4 832.0,1231.2 832.5,1229.9 833.0,1228.7 833.5,1227.4 834.0,1226.2 834.5,1224.9 835.0,1223.7 835.5,1222.4 836.0,1221.2 836.5,1219.9 837.0,1218.6 837.5,1217.4 838.0,1216.1 838.5,1214.9 839.0,1213.6 839.5,1212.3 840.0,1211.1 840.5,1209.8 841.0,1208.5 841.5,1207.2 842.0,1206.0 842.5,1204.7 843.0,1203.4 843.5,1202.1 844.0,1200.9 844.5,1199.6 845.0,1198.3 845.5,1197.0 846.0,1195.8 846.5,1194.5 847.0,1193.2 847.5,1191.9 848.0,1190.6 848.5,1189.3 849.0,1188.1 849.5,1186.8 850.0,1185.5 850.5,1184.2 851.0,1182.9 851.5,1181.6 852.0,1180.4 852.5,1179.1 853.0,1177.8 853.5,1176.5 854.0,1175.2 854.5,1173.9 855.0,1172.6 855.5,1171.4 856.0,1170.1 856.5,1168.8 857.0,1167.5 857.5,1166.2 858.0,1164.9 858.5,1163.6 859.0,1162.3 859.5,1161.1 860.0,1159.8 860.5,1158.5 861.0,1157.2 861.5,1155.9 862.0,1154.6 862.5,1153.3 863.0,1152.0 863.5,1150.7 864.0,1149.4 864.5,1148.2 865.0,1146.9 865.5,1145.6 866.0,1144.3 866.5,1143.0 867.0,1141.7 867.5,1140.4 868.0,1139.1 868.5,1137.8 869.0,1136.5 869.5,1135.2 870.0,1134.0 870.5,1132.7 871.0,1131.4 871.5,1130.1 872.0,1128.8 872.5,1127.5 873.0,1126.2 873.5,1124.9 874.0,1123.6 874.5,1122.3 875.0,1121.0 875.5,1119.7 876.0,1118.5 876.5,1117.2 877.0,1115.9 877.5,1114.6 878.0,1113.3 878.5,1112.0 879.0,1110.7 879.5,1109.4 880.0,1108.1 880.5,1106.8 881.0,1105.5 881.5,1104.2 882.0,1103.0 882.5,1101.7 883.0,1100.4 883.5,1099.1 884.0,1097.8 884.5,1096.5 885.0,1095.2 885.5,1093.9 886.0,1092.6 886.5,1091.3 887.0,1090.0 887.5,1088.7 888.0,1087.5 888.5,1086.2 889.0,1084.9 889.5,1083.6 890.0,1082.3 890.5,1081.0 891.0,1079.7 891.5,1078.4 892.0,1077.1 892.5,1075.8 893.0,1074.5 893.5,1073.2 894.0,1072.0 894.5,1070.7 895.0,1069.4 895.5,1068.1 896.0,1066.8 896.5,1065.5 897.0,1064.2 897.5,1062.9 898.0,1061.6 898.5,1060.3 899.0,1059.1 899.5,1057.8 900.0,1056.5 900.5,1055.2 901.0,1053.9 901.5,1052.6 902.0,1051.3 902.5,1050.0 903.0,1048.7 903.5,1047.5 904.0,1046.2 904.5,1044.9 905.0,1043.6 905.5,1042.3 906.0,1041.0 906.5,1039.7 907.0,1038.5 907.5,1037.2 908.0,1035.9 908.5,1034.6 909.0,1033.3 909.5,1032.0 910.0,1030.7 910.5,1029.5 911.0,1028.2 911.5,1026.9 912.0,1025.6 912.5,1024.3 913.0,1023.1 913.5,1021.8 914.0,1020.5 914.5,1019.2 915.0,1017.9 915.5,1016.7 916.0,1015.4 916.5,1014.1 917.0,1012.8 917.5,1011.6 918.0,1010.3 918.5,1009.0 919.0,1007.7 919.5,1006.5 920.0,1005.2 920.5,1003.9 921.0,1002.7 921.5,1001.4 922.0,1000.1 922.5,998.9 923.0,997.6 923.5,996.3 924.0,995.1 924.5,993.8 925.0,992.6 925.5,991.3 926.0,990.1 926.5,988.8 927.0,987.6 927.5,986.3 928.0,985.1 928.5,983.9 929.0,982.6 929.5,981.4 930.0,980.2 930.5,978.9 931.0,977.7 931.5,976.5 932.0,975.3 932.5,974.1 933.0,972.9 933.5,971.8 934.0,970.6 934.5,969.4 935.0,968.3 935.5,967.1 936.0,966.0 936.5,964.9 937.0,963.8 937.5,962.7 938.0,961.7 938.5,960.7 939.0,959.7 939.5,958.7 940.0,957.8 940.5,957.0 941.0,956.2 941.5,955.4 942.0,954.7 942.5,954.1 943.0,953.6 943.5,953.2 944.0,952.9 944.5,952.7 945.0,952.6 945.5,952.6 946.0,952.8 946.5,953.1 947.0,953.4 947.5,953.9 948.0,954.5 948.5,955.1 949.0,955.9 949.5,956.6 950.0,957.5 950.5,958.4 951.0,959.3 951.5,960.3 952.0,961.3 952.5,962.3 953.0,963.4 953.5,964.5 954.0,965.6 954.5,966.7 955.0,967.8 955.5,969.0 956.0,970.1 956.5,971.3 957.0,972.5 957.5,973.6 958.0,974.8 958.5,976.0 959.0,977.2 959.5,978.5 960.0,979.7 960.5,980.9 961.0,982.1 961.5,983.4 962.0,984.6 962.5,985.8 963.0,987.1 963.5,988.3 964.0,989.6 964.5,990.8 965.0,992.1 965.5,993.3 966.0,994.6 966.5,995.8 967.0,997.1 967.5,998.4 968.0,999.6 968.5,1000.9 969.0,1002.1 969.5,1003.4 970.0,1004.7 970.5,1006.0 971.0,1007.2 971.5,1008.5 972.0,1009.8 972.5,1011.0 973.0,1012.3 973.5,1013.6 974.0,1014.9 974.5,1016.1 975.0,1017.4 975.5,1018.7 976.0,1020.0 976.5,1021.3 977.0,1022.5 977.5,1023.8 978.0,1025.1 978.5,1026.4 979.0,1027.7 979.5,1029.0 980.0,1030.2 980.5,1031.5 981.0,1032.8 981.5,1034.1 982.0,1035.4 982.5,1036.7 983.0,1037.9 983.5,1039.2 984.0,1040.5 984.5,1041.8 985.0,1043.1 985.5,1044.4 986.0,1045.7 986.5,1046.9 987.0,1048.2 987.5,1049.5 988.0,1050.8 988.5,1052.1 989.0,1053.4 989.5,1054.7 990.0,1056.0 990.5,1057.3 991.0,1058.5 991.5,1059.8 992.0,1061.1 992.5,1062.4 993.0,1063.7 993.5,1065.0 994.0,1066.3 994.5,1067.6 995.0,1068.9 995.5,1070.2 996.0,1071.4 996.5,1072.7 997.0,1074.0 997.5,1075.3 998.0,1076.6 998.5,1077.9 999.0,1079.2 999.5,1080.5 1000.0,1081.8 1000.5,1083.1 1001.0,1084.4 1001.5,1085.6 1002.0,1086.9 1002.5,1088.2 1003.0,1089.5 1003.5,1090.8 1004.0,1092.1 1004.5,1093.4 1005.0,1094.7 1005.5,1096.0 1006.0,1097.3 1006.5,1098.6 1007.0,1099.9 1007.5,1101.1 1008.0,1102.4 1008.5,1103.7 1009.0,1105.0 1009.5,1106.3 1010.0,1107.6 1010.5,1108.9 1011.0,1110.2 1011.5,1111.5 1012.0,1112.8 1012.5,1114.1 1013.0,1115.4 1013.5,1116.6 1014.0,1117.9 1014.5,1119.2 1015.0,1120.5 1015.5,1121.8 1016.0,1123.1 1016.5,1124.4 1017.0,1125.7 1017.5,1127.0 1018.0,1128.3 1018.5,1129.6 1019.0,1130.9 1019.5,1132.1 1020.0,1133.4 1020.5,1134.7 1021.0,1136.0 1021.5,1137.3 1022.0,1138.6 1022.5,1139.9 1023.0,1141.2 1023.5,1142.5 1024.0,1143.8 1024.5,1145.1 1025.0,1146.3 1025.5,1147.6 1026.0,1148.9 1026.5,1150.2 1027.0,1151.5 1027.5,1152.8 1028.0,1154.1 1028.5,1155.4 1029.0,1156.7 1029.5,1158.0 1030.0,1159.2 1030.5,1160.5 1031.0,1161.8 1031.5,1163.1 1032.0,1164.4 1032.5,1165.7 1033.0,1167.0 1033.5,1168.3 1034.0,1169.6 1034.5,1170.8 1035.0,1172.1 1035.5,1173.4 1036.0,1174.7 1036.5,1176.0 1037.0,1177.3 1037.5,1178.6 1038.0,1179.8 1038.5,1181.1 1039.0,1182.4 1039.5,1183.7 1040.0,1185.0 1040.5,1186.3 1041.0,1187.5 1041.5,1188.8 1042.0,1190.1 1042.5,1191.4 1043.0,1192.7 1043.5,1194.0 1044.0,1195.2 1044.5,1196.5 1045.0,1197.8 1045.5,1199.1 1046.0,1200.4 1046.5,1201.6 1047.0,1202.9 1047.5,1204.2 1048.0,1205.5 1048.5,1206.7 1049.0,1208.0 1049.5,1209.3 1050.0,1210.5 1050.5,1211.8 1051.0,1213.1 1051.5,1214.4 1052.0,1215.6 1052.5,1216.9 1053.0,1218.1 1053.5,1219.4 1054.0,1220.7 1054.5,1221.9 1055.0,1223.2 1055.5,1224.4 1056.0,1225.7 1056.5,1226.9 1057.0,1228.2 1057.5,1229.4 1058.0,1230.7 1058.5,1231.9 1059.0,1233.1 1059.5,1234.4 1060.0,1235.6 1060.5,1236.8 1061.0,1238.0 1061.5,1239.3 1062.0,1240.5 1062.5,1241.7 1063.0,1242.9 1063.5,1244.0 1064.0,1245.2 1064.5,1246.4 1065.0,1247.5 1065.5,1248.7 1066.0,1249.8 1066.5,1250.9 1067.0,1252.0 1067.5,1253.1 1068.0,1254.2 1068.5,1255.2 1069.0,1256.2 1069.5,1257.2 1070.0,1258.1 1070.5,1259.0 1071.0,1259.9 1071.5,1260.6 1072.0,1261.4 1072.5,1262.0 1073.0,1262.6 1073.5,1263.1 1074.0,1263.4" fill="none" stroke="#100c6c" stroke-width="5.2" stroke-linejoin="round" stroke-linecap="round"/>
<polyline points="164.5,952.9 165.0,953.3 165.5,953.7 166.0,954.2 166.5,954.9 167.0,955.6 167.5,956.3 168.0,957.1 168.5,958.0 169.0,958.9 169.5,959.9 170.0,960.9 170.5,961.9 171.0,963.0 171.5,964.0 172.0,965.1 172.5,966.2 173.0,967.4 173.5,968.5 174.0,969.7 174.5,970.8 175.0,972.0 175.5,973.2 176.0,974.4 176.5,975.6 177.0,976.8 177.5,978.0 178.0,979.2 178.5,980.4 179.0,981.6 179.5,982.9 180.0,984.1 180.5,985.3 181.0,986.6 181.5,987.8 182.0,989.1 182.5,990.3 183.0,991.6 183.5,992.8 184.0,994.1 184.5,995.3 185.0,996.6 185.5,997.9 186.0,999.1 186.5,1000.4 187.0,1001.6 187.5,1002.9 188.0,1004.2 188.5,1005.4 189.0,1006.7 189.5,1008.0 190.0,1009.3 190.5,1010.5 191.0,1011.8 191.5,1013.1 192.0,1014.4 192.5,1015.6 193.0,1016.9 193.5,1018.2 194.0,1019.5 194.5,1020.7 195.0,1022.0 195.5,1023.3 196.0,1024.6 196.5,1025.9 197.0,1027.2 197.5,1028.4 198.0,1029.7 198.5,1031.0 199.0,1032.3 199.5,1033.6 200.0,1034.9 200.5,1036.1 201.0,1037.4 201.5,1038.7 202.0,1040.0 202.5,1041.3 203.0,1042.6 203.5,1043.9 204.0,1045.1 204.5,1046.4 205.0,1047.7 205.5,1049.0 206.0,1050.3 206.5,1051.6 207.0,1052.9 207.5,1054.2 208.0,1055.4 208.5,1056.7 209.0,1058.0 209.5,1059.3 210.0,1060.6 210.5,1061.9 211.0,1063.2 211.5,1064.5 212.0,1065.8 212.5,1067.1 213.0,1068.3 213.5,1069.6 214.0,1070.9 214.5,1072.2 215.0,1073.5 215.5,1074.8 216.0,1076.1 216.5,1077.4 217.0,1078.7 217.5,1080.0 218.0,1081.3 218.5,1082.5 219.0,1083.8 219.5,1085.1 220.0,1086.4 220.5,1087.7 221.0,1089.0 221.5,1090.3 222.0,1091.6 222.5,1092.9 223.0,1094.2 223.5,1095.5 224.0,1096.8 224.5,1098.0 225.0,1099.3 225.5,1100.6 226.0,1101.9 226.5,1103.2 227.0,1104.5 227.5,1105.8 228.0,1107.1 228.5,1108.4 229.0,1109.7 229.5,1111.0 230.0,1112.3 230.5,1113.5 231.0,1114.8 231.5,1116.1 232.0,1117.4 232.5,1118.7 233.0,1120.0 233.5,1121.3 234.0,1122.6 234.5,1123.9 235.0,1125.2 235.5,1126.5 236.0,1127.8 236.5,1129.0 237.0,1130.3 237.5,1131.6 238.0,1132.9 238.5,1134.2 239.0,1135.5 239.5,1136.8 240.0,1138.1 240.5,1139.4 241.0,1140.7 241.5,1142.0 242.0,1143.3 242.5,1144.5 243.0,1145.8 243.5,1147.1 244.0,1148.4 244.5,1149.7 245.0,1151.0 245.5,1152.3 246.0,1153.6 246.5,1154.9 247.0,1156.2 247.5,1157.4 248.0,1158.7 248.5,1160.0 249.0,1161.3 249.5,1162.6 250.0,1163.9 250.5,1165.2 251.0,1166.5 251.5,1167.8 252.0,1169.0 252.5,1170.3 253.0,1171.6 253.5,1172.9 254.0,1174.2 254.5,1175.5 255.0,1176.8 255.5,1178.0 256.0,1179.3 256.5,1180.6 257.0,1181.9 257.5,1183.2 258.0,1184.5 258.5,1185.8 259.0,1187.0 259.5,1188.3 260.0,1189.6 260.5,1190.9 261.0,1192.2 261.5,1193.4 262.0,1194.7 262.5,1196.0 263.0,1197.3 263.5,1198.6 264.0,1199.8 264.5,1201.1 265.0,1202.4 265.5,1203.7 266.0,1204.9 266.5,1206.2 267.0,1207.5 267.5,1208.8 268.0,1210.0 268.5,1211.3 269.0,1212.6 269.5,1213.8 270.0,1215.1 270.5,1216.4 271.0,1217.6 271.5,1218.9 272.0,1220.2 272.5,1221.4 273.0,1222.7 273.5,1223.9 274.0,1225.2 274.5,1226.4 275.0,1227.7 275.5,1228.9 276.0,1230.2 276.5,1231.4 277.0,1232.6 277.5,1233.9 278.0,1235.1 278.5,1236.3 279.0,1237.6 279.5,1238.8 280.0,1240.0 280.5,1241.2 281.0,1242.4 281.5,1243.6 282.0,1244.7 282.5,1245.9 283.0,1247.1 283.5,1248.2 284.0,1249.4 284.5,1250.5 285.0,1251.6 285.5,1252.7 286.0,1253.8 286.5,1254.8 287.0,1255.8 287.5,1256.8 288.0,1257.8 288.5,1258.7 289.0,1259.5 289.5,1260.3 290.0,1261.1 290.5,1261.8 291.0,1262.4 291.5,1262.9 292.0,1263.3 292.5,1263.6 293.0,1263.8 293.5,1263.9 294.0,1263.9 294.5,1263.7 295.0,1263.4 295.5,1263.1 296.0,1262.6 296.5,1262.0 297.0,1261.4 297.5,1260.6 298.0,1259.9 298.5,1259.0 299.0,1258.1 299.5,1257.2 300.0,1256.2 300.5,1255.2 301.0,1254.2 301.5,1253.1 302.0,1252.0 302.5,1250.9 303.0,1249.8 303.5,1248.7 304.0,1247.5 304.5,1246.4 305.0,1245.2 305.5,1244.0 306.0,1242.9 306.5,1241.7 307.0,1240.5 307.5,1239.3 308.0,1238.0 308.5,1236.8 309.0,1235.6 309.5,1234.4 310.0,1233.1 310.5,1231.9 311.0,1230.7 311.5,1229.4 312.0,1228.2 312.5,1226.9 313.0,1225.7 313.5,1224.4 314.0,1223.2 314.5,1221.9 315.0,1220.7 315.5,1219.4 316.0,1218.1 316.5,1216.9 317.0,1215.6 317.5,1214.4 318.0,1213.1 318.5,1211.8 319.0,1210.5 319.5,1209.3 320.0,1208.0 320.5,1206.7 321.0,1205.5 321.5,1204.2 322.0,1202.9 322.5,1201.6 323.0,1200.4 323.5,1199.1 324.0,1197.8 324.5,1196.5 325.0,1195.2 325.5,1194.0 326.0,1192.7 326.5,1191.4 327.0,1190.1 327.5,1188.8 328.0,1187.5 328.5,1186.3 329.0,1185.0 329.5,1183.7 330.0,1182.4 330.5,1181.1 331.0,1179.8 331.5,1178.6 332.0,1177.3 332.5,1176.0 333.0,1174.7 333.5,1173.4 334.0,1172.1 334.5,1170.8 335.0,1169.6 335.5,1168.3 336.0,1167.0 336.5,1165.7 337.0,1164.4 337.5,1163.1 338.0,1161.8 338.5,1160.5 339.0,1159.2 339.5,1158.0 340.0,1156.7 340.5,1155.4 341.0,1154.1 341.5,1152.8 342.0,1151.5 342.5,1150.2 343.0,1148.9 343.5,1147.6 344.0,1146.3 344.5,1145.1 345.0,1143.8 345.5,1142.5 346.0,1141.2 346.5,1139.9 347.0,1138.6 347.5,1137.3 348.0,1136.0 348.5,1134.7 349.0,1133.4 349.5,1132.1 350.0,1130.9 350.5,1129.6 351.0,1128.3 351.5,1127.0 352.0,1125.7 352.5,1124.4 353.0,1123.1 353.5,1121.8 354.0,1120.5 354.5,1119.2 355.0,1117.9 355.5,1116.6 356.0,1115.4 356.5,1114.1 357.0,1112.8 357.5,1111.5 358.0,1110.2 358.5,1108.9 359.0,1107.6 359.5,1106.3 360.0,1105.0 360.5,1103.7 361.0,1102.4 361.5,1101.1 362.0,1099.9 362.5,1098.6 363.0,1097.3 363.5,1096.0 364.0,1094.7 364.5,1093.4 365.0,1092.1 365.5,1090.8 366.0,1089.5 366.5,1088.2 367.0,1086.9 367.5,1085.6 368.0,1084.4 368.5,1083.1 369.0,1081.8 369.5,1080.5 370.0,1079.2 370.5,1077.9 371.0,1076.6 371.5,1075.3 372.0,1074.0 372.5,1072.7 373.0,1071.4 373.5,1070.2 374.0,1068.9 374.5,1067.6 375.0,1066.3 375.5,1065.0 376.0,1063.7 376.5,1062.4 377.0,1061.1 377.5,1059.8 378.0,1058.5 378.5,1057.3 379.0,1056.0 379.5,1054.7 380.0,1053.4 380.5,1052.1 381.0,1050.8 381.5,1049.5 382.0,1048.2 382.5,1046.9 383.0,1045.7 383.5,1044.4 384.0,1043.1 384.5,1041.8 385.0,1040.5 385.5,1039.2 386.0,1037.9 386.5,1036.7 387.0,1035.4 387.5,1034.1 388.0,1032.8 388.5,1031.5 389.0,1030.2 389.5,1029.0 390.0,1027.7 390.5,1026.4 391.0,1025.1 391.5,1023.8 392.0,1022.5 392.5,1021.3 393.0,1020.0 393.5,1018.7 394.0,1017.4 394.5,1016.1 395.0,1014.9 395.5,1013.6 396.0,1012.3 396.5,1011.0 397.0,1009.8 397.5,1008.5 398.0,1007.2 398.5,1006.0 399.0,1004.7 399.5,1003.4 400.0,1002.1 400.5,1000.9 401.0,999.6 401.5,998.4 402.0,997.1 402.5,995.8 403.0,994.6 403.5,993.3 404.0,992.1 404.5,990.8 405.0,989.6 405.5,988.3 406.0,987.1 406.5,985.8 407.0,984.6 407.5,983.4 408.0,982.1 408.5,980.9 409.0,979.7 409.5,978.5 410.0,977.2 410.5,976.0 411.0,974.8 411.5,973.6 412.0,972.5 412.5,971.3 413.0,970.1 413.5,969.0 414.0,967.8 414.5,966.7 415.0,965.6 415.5,964.5 416.0,963.4 416.5,962.3 417.0,961.3 417.5,960.3 418.0,959.3 418.5,958.4 419.0,957.5 419.5,956.6 420.0,955.9 420.5,955.1 421.0,954.5 421.5,953.9 422.0,953.4 422.5,953.1 423.0,952.8 423.5,952.6 424.0,952.6 424.5,952.7 425.0,952.9 425.5,953.2 426.0,953.6 426.5,954.1 427.0,954.7 427.5,955.4 428.0,956.2 428.5,957.0 429.0,957.8 429.5,958.7 430.0,959.7 430.5,960.7 431.0,961.7 431.5,962.7 432.0,963.8 432.5,964.9 433.0,966.0 433.5,967.1 434.0,968.3 434.5,969.4 435.0,970.6 435.5,971.8 436.0,972.9 436.5,974.1 437.0,975.3 437.5,976.5 438.0,977.7 438.5,978.9 439.0,980.2 439.5,981.4 440.0,982.6 440.5,983.9 441.0,985.1 441.5,986.3 442.0,987.6 442.5,988.8 443.0,990.1 443.5,991.3 444.0,992.6 444.5,993.8 445.0,995.1 445.5,996.3 446.0,997.6 446.5,998.9 447.0,1000.1 447.5,1001.4 448.0,1002.7 448.5,1003.9 449.0,1005.2 449.5,1006.5 450.0,1007.7 450.5,1009.0 451.0,1010.3 451.5,1011.6 452.0,1012.8 452.5,1014.1 453.0,1015.4 453.5,1016.7 454.0,1017.9 454.5,1019.2 455.0,1020.5 455.5,1021.8 456.0,1023.1 456.5,1024.3 457.0,1025.6 457.5,1026.9 458.0,1028.2 458.5,1029.5 459.0,1030.7 459.5,1032.0 460.0,1033.3 460.5,1034.6 461.0,1035.9 461.5,1037.2 462.0,1038.5 462.5,1039.7 463.0,1041.0 463.5,1042.3 464.0,1043.6 464.5,1044.9 465.0,1046.2 465.5,1047.5 466.0,1048.7 466.5,1050.0 467.0,1051.3 467.5,1052.6 468.0,1053.9 468.5,1055.2 469.0,1056.5 469.5,1057.8 470.0,1059.1 470.5,1060.3 471.0,1061.6 471.5,1062.9 472.0,1064.2 472.5,1065.5 473.0,1066.8 473.5,1068.1 474.0,1069.4 474.5,1070.7 475.0,1072.0 475.5,1073.2 476.0,1074.5 476.5,1075.8 477.0,1077.1 477.5,1078.4 478.0,1079.7 478.5,1081.0 479.0,1082.3 479.5,1083.6 480.0,1084.9 480.5,1086.2 481.0,1087.5 481.5,1088.7 482.0,1090.0 482.5,1091.3 483.0,1092.6 483.5,1093.9 484.0,1095.2 484.5,1096.5 485.0,1097.8 485.5,1099.1 486.0,1100.4 486.5,1101.7 487.0,1103.0 487.5,1104.2 488.0,1105.5 488.5,1106.8 489.0,1108.1 489.5,1109.4 490.0,1110.7 490.5,1112.0 491.0,1113.3 491.5,1114.6 492.0,1115.9 492.5,1117.2 493.0,1118.5 493.5,1119.7 494.0,1121.0 494.5,1122.3 495.0,1123.6 495.5,1124.9 496.0,1126.2 496.5,1127.5 497.0,1128.8 497.5,1130.1 498.0,1131.4 498.5,1132.7 499.0,1134.0 499.5,1135.2 500.0,1136.5 500.5,1137.8 501.0,1139.1 501.5,1140.4 502.0,1141.7 502.5,1143.0 503.0,1144.3 503.5,1145.6 504.0,1146.9 504.5,1148.2 505.0,1149.4 505.5,1150.7 506.0,1152.0 506.5,1153.3 507.0,1154.6 507.5,1155.9 508.0,1157.2 508.5,1158.5 509.0,1159.8 509.5,1161.1 510.0,1162.3 510.5,1163.6 511.0,1164.9 511.5,1166.2 512.0,1167.5 512.5,1168.8 513.0,1170.1 513.5,1171.4 514.0,1172.6 514.5,1173.9 515.0,1175.2 515.5,1176.5 516.0,1177.8 516.5,1179.1 517.0,1180.4 517.5,1181.6 518.0,1182.9 518.5,1184.2 519.0,1185.5 519.5,1186.8 520.0,1188.1 520.5,1189.3 521.0,1190.6 521.5,1191.9 522.0,1193.2 522.5,1194.5 523.0,1195.8 523.5,1197.0 524.0,1198.3 524.5,1199.6 525.0,1200.9 525.5,1202.1 526.0,1203.4 526.5,1204.7 527.0,1206.0 527.5,1207.2 528.0,1208.5 528.5,1209.8 529.0,1211.1 529.5,1212.3 530.0,1213.6 530.5,1214.9 531.0,1216.1 531.5,1217.4 532.0,1218.6 532.5,1219.9 533.0,1221.2 533.5,1222.4 534.0,1223.7 534.5,1224.9 535.0,1226.2 535.5,1227.4 536.0,1228.7 536.5,1229.9 537.0,1231.2 537.5,1232.4 538.0,1233.6 538.5,1234.9 539.0,1236.1 539.5,1237.3 540.0,1238.5 540.5,1239.7 541.0,1240.9 541.5,1242.1 542.0,1243.3 542.5,1244.5 543.0,1245.7 543.5,1246.8 544.0,1248.0 544.5,1249.1 545.0,1250.3 545.5,1251.4 546.0,1252.5 546.5,1253.5 547.0,1254.6 547.5,1255.6 548.0,1256.6 548.5,1257.6 549.0,1258.5 549.5,1259.4 550.0,1260.2 550.5,1260.9 551.0,1261.6 551.5,1262.3 552.0,1262.8 552.5,1263.2 553.0,1263.6 553.5,1263.8 554.0,1263.9 554.5,1263.9 555.0,1263.7 555.5,1263.5 556.0,1263.1 556.5,1262.7 557.0,1262.1 557.5,1261.5 558.0,1260.8 558.5,1260.0 559.0,1259.2 559.5,1258.3 560.0,1257.4 560.5,1256.4 561.0,1255.4 561.5,1254.4 562.0,1253.3 562.5,1252.3 563.0,1251.2 563.5,1250.0 564.0,1248.9 564.5,1247.8 565.0,1246.6 565.5,1245.5 566.0,1244.3 566.5,1243.1 567.0,1241.9 567.5,1240.7 568.0,1239.5 568.5,1238.3 569.0,1237.1 569.5,1235.8 570.0,1234.6 570.5,1233.4 571.0,1232.2 571.5,1230.9 572.0,1229.7 572.5,1228.4 573.0,1227.2 573.5,1225.9 574.0,1224.7 574.5,1223.4 575.0,1222.2 575.5,1220.9 576.0,1219.7 576.5,1218.4 577.0,1217.1 577.5,1215.9 578.0,1214.6 578.5,1213.3 579.0,1212.1 579.5,1210.8 580.0,1209.5 580.5,1208.3 581.0,1207.0 581.5,1205.7 582.0,1204.4 582.5,1203.2 583.0,1201.9 583.5,1200.6 584.0,1199.3 584.5,1198.1 585.0,1196.8 585.5,1195.5 586.0,1194.2 586.5,1192.9 587.0,1191.7 587.5,1190.4 588.0,1189.1 588.5,1187.8 589.0,1186.5 589.5,1185.2 590.0,1184.0 590.5,1182.7 591.0,1181.4 591.5,1180.1 592.0,1178.8 592.5,1177.5 593.0,1176.2 593.5,1175.0 594.0,1173.7 594.5,1172.4 595.0,1171.1 595.5,1169.8 596.0,1168.5 596.5,1167.2 597.0,1165.9 597.5,1164.7 598.0,1163.4 598.5,1162.1 599.0,1160.8 599.5,1159.5 600.0,1158.2 600.5,1156.9 601.0,1155.6 601.5,1154.3 602.0,1153.1 602.5,1151.8 603.0,1150.5 603.5,1149.2 604.0,1147.9 604.5,1146.6 605.0,1145.3 605.5,1144.0 606.0,1142.7 606.5,1141.4 607.0,1140.2 607.5,1138.9 608.0,1137.6 608.5,1136.3 609.0,1135.0 609.5,1133.7 610.0,1132.4 610.5,1131.1 611.0,1129.8 611.5,1128.5 612.0,1127.2 612.5,1125.9 613.0,1124.7 613.5,1123.4 614.0,1122.1 614.5,1120.8 615.0,1119.5 615.5,1118.2 616.0,1116.9 616.5,1115.6 617.0,1114.3 617.5,1113.0 618.0,1111.7 618.5,1110.4 619.0,1109.2 619.5,1107.9 620.0,1106.6 620.5,1105.3 621.0,1104.0 621.5,1102.7 622.0,1101.4 622.5,1100.1 623.0,1098.8 623.5,1097.5 624.0,1096.2 624.5,1094.9 625.0,1093.7 625.5,1092.4 626.0,1091.1 626.5,1089.8 627.0,1088.5 627.5,1087.2 628.0,1085.9 628.5,1084.6 629.0,1083.3 629.5,1082.0 630.0,1080.7 630.5,1079.4 631.0,1078.2 631.5,1076.9 632.0,1075.6 632.5,1074.3 633.0,1073.0 633.5,1071.7 634.0,1070.4 634.5,1069.1 635.0,1067.8 635.5,1066.5 636.0,1065.2 636.5,1064.0 637.0,1062.7 637.5,1061.4 638.0,1060.1 638.5,1058.8 639.0,1057.5 639.5,1056.2 640.0,1054.9 640.5,1053.6 641.0,1052.4 641.5,1051.1 642.0,1049.8 642.5,1048.5 643.0,1047.2 643.5,1045.9 644.0,1044.6 644.5,1043.3 645.0,1042.1 645.5,1040.8 646.0,1039.5 646.5,1038.2 647.0,1036.9 647.5,1035.6 648.0,1034.3 648.5,1033.1 649.0,1031.8 649.5,1030.5 650.0,1029.2 650.5,1027.9 651.0,1026.6 651.5,1025.4 652.0,1024.1 652.5,1022.8 653.0,1021.5 653.5,1020.2 654.0,1019.0 654.5,1017.7 655.0,1016.4 655.5,1015.1 656.0,1013.8 656.5,1012.6 657.0,1011.3 657.5,1010.0 658.0,1008.8 658.5,1007.5 659.0,1006.2 659.5,1004.9 660.0,1003.7 660.5,1002.4 661.0,1001.1 661.5,999.9 662.0,998.6 662.5,997.3 663.0,996.1 663.5,994.8 664.0,993.6 664.5,992.3 665.0,991.1 665.5,989.8 666.0,988.6 666.5,987.3 667.0,986.1 667.5,984.8 668.0,983.6 668.5,982.4 669.0,981.1 669.5,979.9 670.0,978.7 670.5,977.5 671.0,976.3 671.5,975.1 672.0,973.9 672.5,972.7 673.0,971.5 673.5,970.3 674.0,969.2 674.5,968.0 675.0,966.9 675.5,965.8 676.0,964.7 676.5,963.6 677.0,962.5 677.5,961.5 678.0,960.5 678.5,959.5 679.0,958.6 679.5,957.7 680.0,956.8 680.5,956.0 681.0,955.3 681.5,954.6 682.0,954.0 682.5,953.5 683.0,953.1 683.5,952.8 684.0,952.7 684.5,952.6 685.0,952.7 685.5,952.8 686.0,953.1 686.5,953.5 687.0,954.0 687.5,954.6 688.0,955.3 688.5,956.0 689.0,956.8 689.5,957.7 690.0,958.6 690.5,959.5 691.0,960.5 691.5,961.5 692.0,962.5 692.5,963.6 693.0,964.7 693.5,965.8 694.0,966.9 694.5,968.0 695.0,969.2 695.5,970.3 696.0,971.5 696.5,972.7 697.0,973.9 697.5,975.1 698.0,976.3 698.5,977.5 699.0,978.7 699.5,979.9 700.0,981.1 700.5,982.4 701.0,983.6 701.5,984.8 702.0,986.1 702.5,987.3 703.0,988.6 703.5,989.8 704.0,991.1 704.5,992.3 705.0,993.6 705.5,994.8 706.0,996.1 706.5,997.3 707.0,998.6 707.5,999.9 708.0,1001.1 708.5,1002.4 709.0,1003.7 709.5,1004.9 710.0,1006.2 710.5,1007.5 711.0,1008.8 711.5,1010.0 712.0,1011.3 712.5,1012.6 713.0,1013.8 713.5,1015.1 714.0,1016.4 714.5,1017.7 715.0,1019.0 715.5,1020.2 716.0,1021.5 716.5,1022.8 717.0,1024.1 717.5,1025.4 718.0,1026.6 718.5,1027.9 719.0,1029.2 719.5,1030.5 720.0,1031.8 720.5,1033.1 721.0,1034.3 721.5,1035.6 722.0,1036.9 722.5,1038.2 723.0,1039.5 723.5,1040.8 724.0,1042.1 724.5,1043.3 725.0,1044.6 725.5,1045.9 726.0,1047.2 726.5,1048.5 727.0,1049.8 727.5,1051.1 728.0,1052.4 728.5,1053.6 729.0,1054.9 729.5,1056.2 730.0,1057.5 730.5,1058.8 731.0,1060.1 731.5,1061.4 732.0,1062.7 732.5,1064.0 733.0,1065.2 733.5,1066.5 734.0,1067.8 734.5,1069.1 735.0,1070.4 735.5,1071.7 736.0,1073.0 736.5,1074.3 737.0,1075.6 737.5,1076.9 738.0,1078.2 738.5,1079.4 739.0,1080.7 739.5,1082.0 740.0,1083.3 740.5,1084.6 741.0,1085.9 741.5,1087.2 742.0,1088.5 742.5,1089.8 743.0,1091.1 743.5,1092.4 744.0,1093.7 744.5,1094.9 745.0,1096.2 745.5,1097.5 746.0,1098.8 746.5,1100.1 747.0,1101.4 747.5,1102.7 748.0,1104.0 748.5,1105.3 749.0,1106.6 749.5,1107.9 750.0,1109.2 750.5,1110.4 751.0,1111.7 751.5,1113.0 752.0,1114.3 752.5,1115.6 753.0,1116.9 753.5,1118.2 754.0,1119.5 754.5,1120.8 755.0,1122.1 755.5,1123.4 756.0,1124.7 756.5,1125.9 757.0,1127.2 757.5,1128.5 758.0,1129.8 758.5,1131.1 759.0,1132.4 759.5,1133.7 760.0,1135.0 760.5,1136.3 761.0,1137.6 761.5,1138.9 762.0,1140.2 762.5,1141.4 763.0,1142.7 763.5,1144.0 764.0,1145.3 764.5,1146.6 765.0,1147.9 765.5,1149.2 766.0,1150.5 766.5,1151.8 767.0,1153.1 767.5,1154.3 768.0,1155.6 768.5,1156.9 769.0,1158.2 769.5,1159.5 770.0,1160.8 770.5,1162.1 771.0,1163.4 771.5,1164.7 772.0,1165.9 772.5,1167.2 773.0,1168.5 773.5,1169.8 774.0,1171.1 774.5,1172.4 775.0,1173.7 775.5,1175.0 776.0,1176.2 776.5,1177.5 777.0,1178.8 777.5,1180.1 778.0,1181.4 778.5,1182.7 779.0,1184.0 779.5,1185.2 780.0,1186.5 780.5,1187.8 781.0,1189.1 781.5,1190.4 782.0,1191.7 782.5,1192.9 783.0,1194.2 783.5,1195.5 784.0,1196.8 784.5,1198.1 785.0,1199.3 785.5,1200.6 786.0,1201.9 786.5,1203.2 787.0,1204.4 787.5,1205.7 788.0,1207.0 788.5,1208.3 789.0,1209.5 789.5,1210.8 790.0,1212.1 790.5,1213.3 791.0,1214.6 791.5,1215.9 792.0,1217.1 792.5,1218.4 793.0,1219.7 793.5,1220.9 794.0,1222.2 794.5,1223.4 795.0,1224.7 795.5,1225.9 796.0,1227.2 796.5,1228.4 797.0,1229.7 797.5,1230.9 798.0,1232.2 798.5,1233.4 799.0,1234.6 799.5,1235.8 800.0,1237.1 800.5,1238.3 801.0,1239.5 801.5,1240.7 802.0,1241.9 802.5,1243.1 803.0,1244.3 803.5,1245.5 804.0,1246.6 804.5,1247.8 805.0,1248.9 805.5,1250.0 806.0,1251.2 806.5,1252.3 807.0,1253.3 807.5,1254.4 808.0,1255.4 808.5,1256.4 809.0,1257.4 809.5,1258.3 810.0,1259.2 810.5,1260.0 811.0,1260.8 811.5,1261.5 812.0,1262.1 812.5,1262.7 813.0,1263.1 813.5,1263.5 814.0,1263.7 814.5,1263.9 815.0,1263.9 815.5,1263.8 816.0,1263.6 816.5,1263.2 817.0,1262.8 817.5,1262.3 818.0,1261.6 818.5,1260.9 819.0,1260.2 819.5,1259.4 820.0,1258.5 820.5,1257.6 821.0,1256.6 821.5,1255.6 822.0,1254.6 822.5,1253.5 823.0,1252.5 823.5,1251.4 824.0,1250.3 824.5,1249.1 825.0,1248.0 825.5,1246.8 826.0,1245.7 826.5,1244.5 827.0,1243.3 827.5,1242.1 828.0,1240.9 828.5,1239.7 829.0,1238.5 829.5,1237.3 830.0,1236.1 830.5,1234.9 831.0,1233.6 831.5,1232.4 832.0,1231.2 832.5,1229.9 833.0,1228.7 833.5,1227.4 834.0,1226.2 834.5,1224.9 835.0,1223.7 835.5,1222.4 836.0,1221.2 836.5,1219.9 837.0,1218.6 837.5,1217.4 838.0,1216.1 838.5,1214.9 839.0,1213.6 839.5,1212.3 840.0,1211.1 840.5,1209.8 841.0,1208.5 841.5,1207.2 842.0,1206.0 842.5,1204.7 843.0,1203.4 843.5,1202.1 844.0,1200.9 844.5,1199.6 845.0,1198.3 845.5,1197.0 846.0,1195.8 846.5,1194.5 847.0,1193.2 847.5,1191.9 848.0,1190.6 848.5,1189.3 849.0,1188.1 849.5,1186.8 850.0,1185.5 850.5,1184.2 851.0,1182.9 851.5,1181.6 852.0,1180.4 852.5,1179.1 853.0,1177.8 853.5,1176.5 854.0,1175.2 854.5,1173.9 855.0,1172.6 855.5,1171.4 856.0,1170.1 856.5,1168.8 857.0,1167.5 857.5,1166.2 858.0,1164.9 858.5,1163.6 859.0,1162.3 859.5,1161.1 860.0,1159.8 860.5,1158.5 861.0,1157.2 861.5,1155.9 862.0,1154.6 862.5,1153.3 863.0,1152.0 863.5,1150.7 864.0,1149.4 864.5,1148.2 865.0,1146.9 865.5,1145.6 866.0,1144.3 866.5,1143.0 867.0,1141.7 867.5,1140.4 868.0,1139.1 868.5,1137.8 869.0,1136.5 869.5,1135.2 870.0,1134.0 870.5,1132.7 871.0,1131.4 871.5,1130.1 872.0,1128.8 872.5,1127.5 873.0,1126.2 873.5,1124.9 874.0,1123.6 874.5,1122.3 875.0,1121.0 875.5,1119.7 876.0,1118.5 876.5,1117.2 877.0,1115.9 877.5,1114.6 878.0,1113.3 878.5,1112.0 879.0,1110.7 879.5,1109.4 880.0,1108.1 880.5,1106.8 881.0,1105.5 881.5,1104.2 882.0,1103.0 882.5,1101.7 883.0,1100.4 883.5,1099.1 884.0,1097.8 884.5,1096.5 885.0,1095.2 885.5,1093.9 886.0,1092.6 886.5,1091.3 887.0,1090.0 887.5,1088.7 888.0,1087.5 888.5,1086.2 889.0,1084.9 889.5,1083.6 890.0,1082.3 890.5,1081.0 891.0,1079.7 891.5,1078.4 892.0,1077.1 892.5,1075.8 893.0,1074.5 893.5,1073.2 894.0,1072.0 894.5,1070.7 895.0,1069.4 895.5,1068.1 896.0,1066.8 896.5,1065.5 897.0,1064.2 897.5,1062.9 898.0,1061.6 898.5,1060.3 899.0,1059.1 899.5,1057.8 900.0,1056.5 900.5,1055.2 901.0,1053.9 901.5,1052.6 902.0,1051.3 902.5,1050.0 903.0,1048.7 903.5,1047.5 904.0,1046.2 904.5,1044.9 905.0,1043.6 905.5,1042.3 906.0,1041.0 906.5,1039.7 907.0,1038.5 907.5,1037.2 908.0,1035.9 908.5,1034.6 909.0,1033.3 909.5,1032.0 910.0,1030.7 910.5,1029.5 911.0,1028.2 911.5,1026.9 912.0,1025.6 912.5,1024.3 913.0,1023.1 913.5,1021.8 914.0,1020.5 914.5,1019.2 915.0,1017.9 915.5,1016.7 916.0,1015.4 916.5,1014.1 917.0,1012.8 917.5,1011.6 918.0,1010.3 918.5,1009.0 919.0,1007.7 919.5,1006.5 920.0,1005.2 920.5,1003.9 921.0,1002.7 921.5,1001.4 922.0,1000.1 922.5,998.9 923.0,997.6 923.5,996.3 924.0,995.1 924.5,993.8 925.0,992.6 925.5,991.3 926.0,990.1 926.5,988.8 927.0,987.6 927.5,986.3 928.0,985.1 928.5,983.9 929.0,982.6 929.5,981.4 930.0,980.2 930.5,978.9 931.0,977.7 931.5,976.5 932.0,975.3 932.5,974.1 933.0,972.9 933.5,971.8 934.0,970.6 934.5,969.4 935.0,968.3 935.5,967.1 936.0,966.0 936.5,964.9 937.0,963.8 937.5,962.7 938.0,961.7 938.5,960.7 939.0,959.7 939.5,958.7 940.0,957.8 940.5,957.0 941.0,956.2 941.5,955.4 942.0,954.7 942.5,954.1 943.0,953.6 943.5,953.2 944.0,952.9 944.5,952.7 945.0,952.6 945.5,952.6 946.0,952.8 946.5,953.1 947.0,953.4 947.5,953.9 948.0,954.5 948.5,955.1 949.0,955.9 949.5,956.6 950.0,957.5 950.5,958.4 951.0,959.3 951.5,960.3 952.0,961.3 952.5,962.3 953.0,963.4 953.5,964.5 954.0,965.6 954.5,966.7 955.0,967.8 955.5,969.0 956.0,970.1 956.5,971.3 957.0,972.5 957.5,973.6 958.0,974.8 958.5,976.0 959.0,977.2 959.5,978.5 960.0,979.7 960.5,980.9 961.0,982.1 961.5,983.4 962.0,984.6 962.5,985.8 963.0,987.1 963.5,988.3 964.0,989.6 964.5,990.8 965.0,992.1 965.5,993.3 966.0,994.6 966.5,995.8 967.0,997.1 967.5,998.4 968.0,999.6 968.5,1000.9 969.0,1002.1 969.5,1003.4 970.0,1004.7 970.5,1006.0 971.0,1007.2 971.5,1008.5 972.0,1009.8 972.5,1011.0 973.0,1012.3 973.5,1013.6 974.0,1014.9 974.5,1016.1 975.0,1017.4 975.5,1018.7 976.0,1020.0 976.5,1021.3 977.0,1022.5 977.5,1023.8 978.0,1025.1 978.5,1026.4 979.0,1027.7 979.5,1029.0 980.0,1030.2 980.5,1031.5 981.0,1032.8 981.5,1034.1 982.0,1035.4 982.5,1036.7 983.0,1037.9 983.5,1039.2 984.0,1040.5 984.5,1041.8 985.0,1043.1 985.5,1044.4 986.0,1045.7 986.5,1046.9 987.0,1048.2 987.5,1049.5 988.0,1050.8 988.5,1052.1 989.0,1053.4 989.5,1054.7 990.0,1056.0 990.5,1057.3 991.0,1058.5 991.5,1059.8 992.0,1061.1 992.5,1062.4 993.0,1063.7 993.5,1065.0 994.0,1066.3 994.5,1067.6 995.0,1068.9 995.5,1070.2 996.0,1071.4 996.5,1072.7 997.0,1074.0 997.5,1075.3 998.0,1076.6 998.5,1077.9 999.0,1079.2 999.5,1080.5 1000.0,1081.8 1000.5,1083.1 1001.0,1084.4 1001.5,1085.6 1002.0,1086.9 1002.5,1088.2 1003.0,1089.5 1003.5,1090.8 1004.0,1092.1 1004.5,1093.4 1005.0,1094.7 1005.5,1096.0 1006.0,1097.3 1006.5,1098.6 1007.0,1099.9 1007.5,1101.1 1008.0,1102.4 1008.5,1103.7 1009.0,1105.0 1009.5,1106.3 1010.0,1107.6 1010.5,1108.9 1011.0,1110.2 1011.5,1111.5 1012.0,1112.8 1012.5,1114.1 1013.0,1115.4 1013.5,1116.6 1014.0,1117.9 1014.5,1119.2 1015.0,1120.5 1015.5,1121.8 1016.0,1123.1 1016.5,1124.4 1017.0,1125.7 1017.5,1127.0 1018.0,1128.3 1018.5,1129.6 1019.0,1130.9 1019.5,1132.1 1020.0,1133.4 1020.5,1134.7 1021.0,1136.0 1021.5,1137.3 1022.0,1138.6 1022.5,1139.9 1023.0,1141.2 1023.5,1142.5 1024.0,1143.8 1024.5,1145.1 1025.0,1146.3 1025.5,1147.6 1026.0,1148.9 1026.5,1150.2 1027.0,1151.5 1027.5,1152.8 1028.0,1154.1 1028.5,1155.4 1029.0,1156.7 1029.5,1158.0 1030.0,1159.2 1030.5,1160.5 1031.0,1161.8 1031.5,1163.1 1032.0,1164.4 1032.5,1165.7 1033.0,1167.0 1033.5,1168.3 1034.0,1169.6 1034.5,1170.8 1035.0,1172.1 1035.5,1173.4 1036.0,1174.7 1036.5,1176.0 1037.0,1177.3 1037.5,1178.6 1038.0,1179.8 1038.5,1181.1 1039.0,1182.4 1039.5,1183.7 1040.0,1185.0 1040.5,1186.3 1041.0,1187.5 1041.5,1188.8 1042.0,1190.1 1042.5,1191.4 1043.0,1192.7 1043.5,1194.0 1044.0,1195.2 1044.5,1196.5 1045.0,1197.8 1045.5,1199.1 1046.0,1200.4 1046.5,1201.6 1047.0,1202.9 1047.5,1204.2 1048.0,1205.5 1048.5,1206.7 1049.0,1208.0 1049.5,1209.3 1050.0,1210.5 1050.5,1211.8 1051.0,1213.1 1051.5,1214.4 1052.0,1215.6 1052.5,1216.9 1053.0,1218.1 1053.5,1219.4 1054.0,1220.7 1054.5,1221.9 1055.0,1223.2 1055.5,1224.4 1056.0,1225.7 1056.5,1226.9 1057.0,1228.2 1057.5,1229.4 1058.0,1230.7 1058.5,1231.9 1059.0,1233.1 1059.5,1234.4 1060.0,1235.6 1060.5,1236.8 1061.0,1238.0 1061.5,1239.3 1062.0,1240.5 1062.5,1241.7 1063.0,1242.9 1063.5,1244.0 1064.0,1245.2 1064.5,1246.4 1065.0,1247.5 1065.5,1248.7 1066.0,1249.8 1066.5,1250.9 1067.0,1252.0 1067.5,1253.1 1068.0,1254.2 1068.5,1255.2 1069.0,1256.2 1069.5,1257.2 1070.0,1258.1 1070.5,1259.0 1071.0,1259.9 1071.5,1260.6 1072.0,1261.4 1072.5,1262.0 1073.0,1262.6 1073.5,1263.1 1074.0,1263.4" fill="none" stroke="#2416c0" stroke-width="2.8" stroke-dasharray="1.3,1.5"/>
<g fill="none" stroke-width="5.6"><path d="M254.4,1175.2L255.6,1178.3" stroke="#ab0f5d"/><path d="M255.4,1177.8L256.6,1180.9" stroke="#ed230d"/><path d="M256.4,1180.4L257.6,1183.4" stroke="#fc4002"/><path d="M257.4,1182.9L258.6,1186.0" stroke="#ff5200"/><path d="M258.4,1185.5L259.6,1188.6" stroke="#f63506"/><path d="M259.4,1188.1L260.6,1191.1" stroke="#f32e09"/><path d="M260.4,1190.6L261.6,1193.7" stroke="#fe4400"/><path d="M261.4,1193.2L262.6,1196.3" stroke="#ff5400"/><path d="M262.4,1195.8L263.6,1198.8" stroke="#f53207"/><path d="M263.4,1198.3L264.6,1201.4" stroke="#c21140"/><path d="M272.4,1221.2L273.6,1224.2" stroke="#ee250c"/><path d="M273.4,1223.7L274.6,1226.7" stroke="#ffc831"/><path d="M274.4,1226.2L275.6,1229.2" stroke="#ffe867"/><path d="M275.4,1228.7L276.6,1231.7" stroke="#ffed82"/><path d="M276.4,1231.2L277.6,1234.1" stroke="#ffc229"/><path d="M277.4,1233.6L278.6,1236.6" stroke="#ffdf51"/><path d="M278.4,1236.1L279.6,1239.0" stroke="#ffd340"/><path d="M279.4,1238.5L280.6,1241.4" stroke="#ffc128"/><path d="M280.4,1240.9L281.6,1243.8" stroke="#ef260c"/><path d="M281.4,1243.3L282.6,1246.2" stroke="#b8104c"/><path d="M306.4,1241.9L307.6,1239.0" stroke="#880c89"/><path d="M307.4,1239.5L308.6,1236.6" stroke="#fb3f02"/><path d="M308.4,1237.1L309.6,1234.1" stroke="#ffe762"/><path d="M309.4,1234.6L310.6,1231.7" stroke="#fff19f"/><path d="M310.4,1232.2L311.6,1229.2" stroke="#fff2a0"/><path d="M311.4,1229.7L312.6,1226.7" stroke="#fffad0"/><path d="M312.4,1227.2L313.6,1224.2" stroke="#ffee8b"/><path d="M313.4,1224.7L314.6,1221.7" stroke="#fd4301"/><path d="M322.4,1201.9L323.6,1198.8" stroke="#ec200f"/><path d="M323.4,1199.3L324.6,1196.3" stroke="#e61513"/><path d="M390.4,1026.6L391.6,1023.6" stroke="#e81812"/><path d="M391.4,1024.1L392.6,1021.0" stroke="#e61413"/><path d="M397.4,1008.8L398.6,1005.7" stroke="#b7104e"/><path d="M398.4,1006.2L399.6,1003.2" stroke="#be1045"/><path d="M405.4,988.6L406.6,985.6" stroke="#ff4600"/><path d="M406.4,986.1L407.6,983.1" stroke="#ffdb4b"/><path d="M407.4,983.6L408.6,980.7" stroke="#ffc62f"/><path d="M408.4,981.1L409.6,978.2" stroke="#ffab09"/><path d="M409.4,978.7L410.6,975.8" stroke="#fd4301"/><path d="M438.4,978.7L439.6,981.6" stroke="#e61413"/><path d="M439.4,981.1L440.6,984.1" stroke="#ffa702"/><path d="M440.4,983.6L441.6,986.6" stroke="#ffd846"/><path d="M441.4,986.1L442.6,989.1" stroke="#ffe764"/><path d="M442.4,988.6L443.6,991.6" stroke="#ffa906"/><path d="M443.4,991.1L444.6,994.1" stroke="#dc131f"/><path d="M505.4,1150.5L506.6,1153.6" stroke="#e91b11"/><path d="M506.4,1153.1L507.6,1156.2" stroke="#f63506"/><path d="M507.4,1155.6L508.6,1158.7" stroke="#ff6c00"/><path d="M508.4,1158.2L509.6,1161.3" stroke="#e61513"/><path d="M513.4,1171.1L514.6,1174.2" stroke="#f63406"/><path d="M514.4,1173.7L515.6,1176.8" stroke="#ffc127"/><path d="M515.4,1176.2L516.6,1179.3" stroke="#ffe65d"/><path d="M516.4,1178.8L517.6,1181.9" stroke="#fff5b6"/><path d="M517.4,1181.4L518.6,1184.5" stroke="#fff7c0"/><path d="M518.4,1184.0L519.6,1187.0" stroke="#ffffeb"/><path d="M519.4,1186.5L520.6,1189.6" stroke="#fff3a6"/><path d="M520.4,1189.1L521.6,1192.2" stroke="#ffee8a"/><path d="M521.4,1191.7L522.6,1194.7" stroke="#ffee8a"/><path d="M522.4,1194.2L523.6,1197.3" stroke="#ffac09"/><path d="M523.4,1196.8L524.6,1199.8" stroke="#f73705"/><path d="M524.4,1199.3L525.6,1202.4" stroke="#810b91"/><path d="M527.4,1207.0L528.6,1210.0" stroke="#f43108"/><path d="M528.4,1209.5L529.6,1212.6" stroke="#de131d"/><path d="M536.4,1229.7L537.6,1232.6" stroke="#ee250d"/><path d="M537.4,1232.2L538.6,1235.1" stroke="#f53307"/><path d="M539.4,1237.1L540.6,1240.0" stroke="#e91b11"/><path d="M540.4,1239.5L541.6,1242.4" stroke="#ff6800"/><path d="M541.4,1241.9L542.6,1244.7" stroke="#ffc52c"/><path d="M542.4,1244.3L543.6,1247.1" stroke="#ffb00f"/><path d="M543.4,1246.6L544.6,1249.4" stroke="#ffa400"/><path d="M544.4,1248.9L545.6,1251.6" stroke="#ff6b00"/><path d="M545.4,1251.2L546.6,1253.8" stroke="#d91224"/><path d="M572.4,1228.7L573.6,1225.7" stroke="#af0f57"/><path d="M573.4,1226.2L574.6,1223.2" stroke="#ff7d00"/><path d="M574.4,1223.7L575.6,1220.7" stroke="#ffaf0e"/><path d="M575.4,1221.2L576.6,1218.1" stroke="#ffb618"/><path d="M576.4,1218.6L577.6,1215.6" stroke="#ff9200"/><path d="M577.4,1216.1L578.6,1213.1" stroke="#ff8600"/><path d="M578.4,1213.6L579.6,1210.5" stroke="#a00e6b"/><path d="M653.4,1020.5L654.6,1017.4" stroke="#e61413"/><path d="M654.4,1017.9L655.6,1014.9" stroke="#fb3f02"/><path d="M655.4,1015.4L656.6,1012.3" stroke="#f93a04"/><path d="M656.4,1012.8L657.6,1009.8" stroke="#f32e09"/><path d="M660.4,1002.7L661.6,999.6" stroke="#f32f08"/><path d="M665.4,990.1L666.6,987.1" stroke="#f43108"/><path d="M666.4,987.6L667.6,984.6" stroke="#ff9c00"/><path d="M667.4,985.1L668.6,982.1" stroke="#ffc933"/><path d="M668.4,982.6L669.6,979.7" stroke="#ffc931"/><path d="M669.4,980.2L670.6,977.2" stroke="#ffdd4e"/><path d="M670.4,977.7L671.6,974.8" stroke="#ff9e00"/><path d="M671.4,975.3L672.6,972.5" stroke="#e71712"/><path d="M699.4,979.7L700.6,982.6" stroke="#da1322"/><path d="M700.4,982.1L701.6,985.1" stroke="#ff9600"/><path d="M701.4,984.6L702.6,987.6" stroke="#ffb516"/><path d="M702.4,987.1L703.6,990.1" stroke="#ff8b00"/><path d="M703.4,989.6L704.6,992.6" stroke="#ff8400"/><path d="M704.4,992.1L705.6,995.1" stroke="#ed220e"/><path d="M760.4,1136.0L761.6,1139.1" stroke="#ef270c"/><path d="M761.4,1138.6L762.6,1141.7" stroke="#fe4500"/><path d="M762.4,1141.2L763.6,1144.3" stroke="#ff4c00"/><path d="M763.4,1143.8L764.6,1146.9" stroke="#f63407"/><path d="M768.4,1156.7L769.6,1159.8" stroke="#da1322"/><path d="M769.4,1159.2L770.6,1162.3" stroke="#f22d09"/><path d="M770.4,1161.8L771.6,1164.9" stroke="#ffa906"/><path d="M771.4,1164.4L772.6,1167.5" stroke="#ffd543"/><path d="M772.4,1167.0L773.6,1170.1" stroke="#ffeb7c"/><path d="M773.4,1169.6L774.6,1172.6" stroke="#ffef90"/><path d="M774.4,1172.1L775.6,1175.2" stroke="#fffcdc"/><path d="M775.4,1174.7L776.6,1177.8" stroke="#ffffeb"/><path d="M776.4,1177.3L777.6,1180.4" stroke="#fff5b6"/><path d="M777.4,1179.8L778.6,1182.9" stroke="#ffffeb"/><path d="M778.4,1182.4L779.6,1185.5" stroke="#ffffeb"/><path d="M779.4,1185.0L780.6,1188.1" stroke="#ffffeb"/><path d="M780.4,1187.5L781.6,1190.6" stroke="#ffffeb"/><path d="M781.4,1190.1L782.6,1193.2" stroke="#ffffeb"/><path d="M782.4,1192.7L783.6,1195.8" stroke="#ffffeb"/><path d="M783.4,1195.2L784.6,1198.3" stroke="#fff19c"/><path d="M784.4,1197.8L785.6,1200.9" stroke="#ffed82"/><path d="M785.4,1200.4L786.6,1203.4" stroke="#ffce39"/><path d="M786.4,1202.9L787.6,1206.0" stroke="#ff8a00"/><path d="M787.4,1205.5L788.6,1208.5" stroke="#e81812"/><path d="M788.4,1208.0L789.6,1211.1" stroke="#da1321"/><path d="M791.4,1215.6L792.6,1218.6" stroke="#f32f08"/><path d="M792.4,1218.1L793.6,1221.2" stroke="#ff5c00"/><path d="M793.4,1220.7L794.6,1223.7" stroke="#f22d09"/><path d="M801.4,1240.5L802.6,1243.3" stroke="#fc4101"/><path d="M802.4,1242.9L803.6,1245.7" stroke="#ff7900"/><path d="M803.4,1245.2L804.6,1248.0" stroke="#ffc72f"/><path d="M804.4,1247.5L805.6,1250.3" stroke="#ffb111"/><path d="M805.4,1249.8L806.6,1252.5" stroke="#ffc228"/><path d="M806.4,1252.0L807.6,1254.6" stroke="#ff9d00"/><path d="M807.4,1254.2L808.6,1256.6" stroke="#ff7900"/><path d="M808.4,1256.2L809.6,1258.5" stroke="#f93b04"/><path d="M839.4,1212.6L840.6,1209.5" stroke="#fc4101"/><path d="M840.4,1210.0L841.6,1207.0" stroke="#f12b0a"/><path d="M913.4,1022.0L914.6,1019.0" stroke="#940d79"/><path d="M914.4,1019.5L915.6,1016.4" stroke="#b30f53"/><path d="M918.4,1009.3L919.6,1006.2" stroke="#e11319"/><path d="M919.4,1006.7L920.6,1003.7" stroke="#ee250d"/><path d="M930.4,979.2L931.6,976.3" stroke="#e71712"/><path d="M931.4,976.8L932.6,973.9" stroke="#ff6c00"/><path d="M932.4,974.4L933.6,971.5" stroke="#ff8e00"/><path d="M933.4,972.0L934.6,969.2" stroke="#ff7f00"/><path d="M934.4,969.7L935.6,966.9" stroke="#ff5f00"/><path d="M935.4,967.4L936.6,964.7" stroke="#b7104d"/><path d="M962.4,985.6L963.6,988.6" stroke="#e91b11"/><path d="M963.4,988.1L964.6,991.1" stroke="#ff8400"/><path d="M964.4,990.6L965.6,993.6" stroke="#ff9700"/><path d="M965.4,993.1L966.6,996.1" stroke="#ff8400"/><path d="M966.4,995.6L967.6,998.6" stroke="#f12b0a"/><path d="M1009.4,1106.1L1010.6,1109.2" stroke="#c6113b"/><path d="M1010.4,1108.6L1011.6,1111.7" stroke="#ff5c00"/><path d="M1011.4,1111.2L1012.6,1114.3" stroke="#fb3e03"/><path d="M1012.4,1113.8L1013.6,1116.9" stroke="#b6104f"/><path d="M1013.4,1116.4L1014.6,1119.5" stroke="#940d79"/><path d="M1014.4,1119.0L1015.6,1122.1" stroke="#ff8800"/><path d="M1015.4,1121.6L1016.6,1124.7" stroke="#ff7900"/><path d="M1016.4,1124.1L1017.6,1127.2" stroke="#ff9000"/><path d="M1017.4,1126.7L1018.6,1129.8" stroke="#860c8b"/><path d="M1022.4,1139.6L1023.6,1142.7" stroke="#a30e66"/><path d="M1023.4,1142.2L1024.6,1145.3" stroke="#eb1e0f"/><path d="M1024.4,1144.8L1025.6,1147.9" stroke="#fc4101"/><path d="M1025.4,1147.4L1026.6,1150.5" stroke="#ff6400"/><path d="M1026.4,1150.0L1027.6,1153.1" stroke="#ffb213"/><path d="M1027.4,1152.5L1028.6,1155.6" stroke="#ffd13d"/><path d="M1028.4,1155.1L1029.6,1158.2" stroke="#fff19b"/><path d="M1029.4,1157.7L1030.6,1160.8" stroke="#fff4ab"/><path d="M1030.4,1160.3L1031.6,1163.4" stroke="#ffef93"/><path d="M1031.4,1162.9L1032.6,1165.9" stroke="#ffef8e"/><path d="M1032.4,1165.4L1033.6,1168.5" stroke="#fffcdf"/><path d="M1033.4,1168.0L1034.6,1171.1" stroke="#ffffeb"/><path d="M1034.4,1170.6L1035.6,1173.7" stroke="#ffffeb"/><path d="M1035.4,1173.2L1036.6,1176.2" stroke="#ffffeb"/><path d="M1036.4,1175.7L1037.6,1178.8" stroke="#fffcdc"/><path d="M1037.4,1178.3L1038.6,1181.4" stroke="#fff8c3"/><path d="M1038.4,1180.9L1039.6,1184.0" stroke="#ffffeb"/><path d="M1039.4,1183.4L1040.6,1186.5" stroke="#ffffeb"/><path d="M1040.4,1186.0L1041.6,1189.1" stroke="#ffffeb"/><path d="M1041.4,1188.6L1042.6,1191.7" stroke="#fff7c0"/><path d="M1042.4,1191.1L1043.6,1194.2" stroke="#fffee9"/><path d="M1043.4,1193.7L1044.6,1196.8" stroke="#fff9ca"/><path d="M1044.4,1196.3L1045.6,1199.3" stroke="#fffee6"/><path d="M1045.4,1198.8L1046.6,1201.9" stroke="#fff3a8"/><path d="M1046.4,1201.4L1047.6,1204.4" stroke="#ffee8a"/><path d="M1047.4,1203.9L1048.6,1207.0" stroke="#ffe762"/><path d="M1048.4,1206.5L1049.6,1209.5" stroke="#ffe764"/><path d="M1049.4,1209.0L1050.6,1212.1" stroke="#ffb111"/><path d="M1050.4,1211.6L1051.6,1214.6" stroke="#ff6600"/><path d="M1051.4,1214.1L1052.6,1217.1" stroke="#f43108"/><path d="M1052.4,1216.6L1053.6,1219.7" stroke="#d91223"/><path d="M1053.4,1219.2L1054.6,1222.2" stroke="#dc1320"/><path d="M1056.4,1226.7L1057.6,1229.7" stroke="#f93a04"/><path d="M1057.4,1229.2L1058.6,1232.2" stroke="#fd4201"/><path d="M1063.4,1243.8L1064.6,1246.6" stroke="#e11319"/><path d="M1064.4,1246.2L1065.6,1248.9" stroke="#ff5500"/><path d="M1065.4,1248.5L1066.6,1251.2" stroke="#ffb314"/><path d="M1066.4,1250.7L1067.6,1253.3" stroke="#ff8300"/><path d="M1067.4,1252.9L1068.6,1255.4" stroke="#ffb110"/><path d="M1068.4,1255.0L1069.6,1257.4" stroke="#ff7400"/><path d="M1069.4,1257.0L1070.6,1259.2" stroke="#f73705"/><path d="M1070.4,1258.8L1071.6,1260.8" stroke="#c21140"/></g>
<rect x="163.5" y="938.0" width="911.0" height="340.0" fill="none" stroke="#1a1a1a" stroke-width="1.1"/>
<text x="158.3" y="1001.1" font-size="17" class="h" text-anchor="end" letter-spacing="1">60°N</text>
<text x="158.3" y="1057.8" font-size="17" class="h" text-anchor="end" letter-spacing="1">30°N</text>
<text x="158.3" y="1114.3" font-size="17" class="h" text-anchor="end" letter-spacing="1">0°</text>
<text x="158.3" y="1170.9" font-size="17" class="h" text-anchor="end" letter-spacing="1">30°S</text>
<text x="158.3" y="1227.5" font-size="17" class="h" text-anchor="end" letter-spacing="1">60°S</text>
<text x="158.3" y="1278" font-size="17" class="h" text-anchor="end" letter-spacing="1">90°S</text>
<text x="1081" y="948.6" font-size="17" class="h" letter-spacing="1">180°E</text>
<text x="1081" y="1001" font-size="17" class="h" letter-spacing="1">120°E</text>
<text x="1081" y="1057.7" font-size="17" class="h" letter-spacing="1">60°E</text>
<text x="1081" y="1114.3" font-size="17" class="h" letter-spacing="1">0°</text>
<text x="1081" y="1171" font-size="17" class="h" letter-spacing="1">60°W</text>
<text x="1081" y="1227.7" font-size="17" class="h" letter-spacing="1">120°W</text>
<text x="1081" y="1278" font-size="17" class="h" letter-spacing="1">180°W</text>
<text x="99.5" y="1109.4" font-size="18" class="h" text-anchor="middle" textLength="68" lengthAdjust="spacingAndGlyphs" transform="rotate(-90 99.5 1109.4)" >Latitude</text>
<text x="1154.5" y="1108" font-size="18" class="h" text-anchor="middle" textLength="85" lengthAdjust="spacingAndGlyphs" transform="rotate(-90 1154.5 1108)" >Longitude</text>
<rect x="163.5" y="1294.0" width="911.0" height="340.0" fill="#e0e0e0"/>
<rect x="305.5" y="1294.0" width="25.3" height="340.0" fill="#a0a0a0"/><rect x="565.5" y="1294.0" width="26.5" height="340.0" fill="#a0a0a0"/><rect x="826.0" y="1294.0" width="27.5" height="340.0" fill="#a0a0a0"/>
<path d="M163.5,1566.0H1074.5M163.5,1498.0H1074.5M163.5,1430.0H1074.5M163.5,1362.0H1074.5M163.5,1611.3h13.7M1074.5,1611.3h-9M163.5,1588.7h13.7M1074.5,1588.7h-9M163.5,1566.0h13.7M1074.5,1566.0h-9M163.5,1543.3h13.7M1074.5,1543.3h-9M163.5,1520.7h13.7M1074.5,1520.7h-9M163.5,1498.0h13.7M1074.5,1498.0h-9M163.5,1475.3h13.7M1074.5,1475.3h-9M163.5,1452.7h13.7M1074.5,1452.7h-9M163.5,1430.0h13.7M1074.5,1430.0h-9M163.5,1407.3h13.7M1074.5,1407.3h-9M163.5,1384.7h13.7M1074.5,1384.7h-9M163.5,1362.0h13.7M1074.5,1362.0h-9M163.5,1339.3h13.7M1074.5,1339.3h-9M163.5,1316.7h13.7M1074.5,1316.7h-9" stroke="#1a1a1a" stroke-width="1" fill="none"/>
<defs><clipPath id="c3"><rect x="163.5" y="1294.0" width="911.0" height="340.0"/></clipPath></defs>
<g clip-path="url(#c3)"><polyline fill="none" stroke="#00ff00" stroke-width="1" points="163.5,1552.4 164.0,1551.5 164.5,1553.3 165.0,1555.2 165.5,1553.9 166.0,1555.6 166.5,1552.4 167.0,1548.5 167.5,1554.2 168.0,1554.6 168.5,1551.2 169.0,1551.6 169.5,1552.4 170.0,1555.6 170.5,1552.9 171.0,1550.7 171.5,1557.0 172.0,1554.3 172.5,1558.7 173.0,1556.9 173.5,1558.6 174.0,1553.7 174.5,1556.9 175.0,1552.2 175.5,1552.6 176.0,1553.7 176.5,1560.8 177.0,1554.8 177.5,1553.3 178.0,1552.9 178.5,1557.9 179.0,1554.7 179.5,1556.3 180.0,1555.8 180.5,1550.1 181.0,1555.9 181.5,1553.5 182.0,1550.7 182.5,1555.3 183.0,1553.8 183.5,1553.2 184.0,1553.4 184.5,1557.3 185.0,1553.4 185.5,1549.5 186.0,1558.4 186.5,1551.1 187.0,1553.4 187.5,1555.7 188.0,1547.7 188.5,1551.5 189.0,1557.5 189.5,1553.6 190.0,1552.1 190.5,1554.5 191.0,1551.9 191.5,1554.2 192.0,1552.0 192.5,1549.6 193.0,1556.1 193.5,1553.5 194.0,1555.5 194.5,1553.7 195.0,1557.8 195.5,1556.0 196.0,1554.8 196.5,1551.5 197.0,1550.8 197.5,1558.4 198.0,1556.8 198.5,1552.4 199.0,1560.5 199.5,1555.8 200.0,1554.7 200.5,1550.6 201.0,1552.4 201.5,1555.5 202.0,1555.6 202.5,1555.3 203.0,1549.9 203.5,1555.9 204.0,1555.5 204.5,1553.5 205.0,1555.0 205.5,1555.2 206.0,1558.1 206.5,1554.7 207.0,1556.0 207.5,1551.1 208.0,1552.7 208.5,1554.8 209.0,1552.7 209.5,1555.8 210.0,1551.6 210.5,1554.8 211.0,1553.0 211.5,1558.8 212.0,1553.8 212.5,1560.0 213.0,1561.1 213.5,1555.8 214.0,1557.7 214.5,1554.4 215.0,1548.1 215.5,1557.5 216.0,1556.9 216.5,1554.4 217.0,1553.5 217.5,1555.6 218.0,1555.7 218.5,1552.9 219.0,1553.5 219.5,1558.3 220.0,1555.4 220.5,1555.0 221.0,1558.4 221.5,1554.4 222.0,1557.8 222.5,1552.2 223.0,1554.6 223.5,1555.0 224.0,1557.1 224.5,1555.6 225.0,1561.4 225.5,1558.8 226.0,1554.2 226.5,1561.9 227.0,1552.8 227.5,1560.7 228.0,1553.1 228.5,1558.0 229.0,1553.0 229.5,1555.0 230.0,1560.2 230.5,1551.7 231.0,1551.1 231.5,1555.7 232.0,1556.4 232.5,1556.0 233.0,1558.5 233.5,1552.2 234.0,1557.3 234.5,1555.8 235.0,1558.1 235.5,1557.6 236.0,1559.6 236.5,1551.8 237.0,1556.2 237.5,1552.8 238.0,1555.7 238.5,1557.9 239.0,1556.8 239.5,1557.5 240.0,1555.8 240.5,1556.9 241.0,1556.6 241.5,1559.8 242.0,1558.0 242.5,1550.4 243.0,1557.4 243.5,1558.5 244.0,1554.1 244.5,1550.8 245.0,1559.5 245.5,1555.6 246.0,1556.8 246.5,1560.2 247.0,1552.5 247.5,1554.7 248.0,1554.3 248.5,1556.8 249.0,1553.0 249.5,1556.0 250.0,1554.7 250.5,1557.6 251.0,1557.8 251.5,1549.9 252.0,1555.5 252.5,1553.0 253.0,1553.9 253.5,1555.1 254.0,1555.2 254.5,1551.6 255.0,1554.4 255.5,1553.9 256.0,1553.3 256.5,1549.6 257.0,1551.1 257.5,1551.9 258.0,1554.7 258.5,1557.2 259.0,1550.0 259.5,1549.8 260.0,1553.1 260.5,1551.0 261.0,1550.2 261.5,1549.9 262.0,1549.6 262.5,1553.5 263.0,1547.1 263.5,1555.2 264.0,1548.4 264.5,1549.2 265.0,1547.7 265.5,1544.3 266.0,1545.1 266.5,1552.8 267.0,1554.2 267.5,1546.2 268.0,1551.4 268.5,1548.0 269.0,1545.1 269.5,1552.3 270.0,1553.4 270.5,1545.4 271.0,1545.3 271.5,1545.4 272.0,1543.7 272.5,1545.7 273.0,1546.9 273.5,1542.0 274.0,1545.4 274.5,1548.3 275.0,1542.6 275.5,1545.2 276.0,1544.6 276.5,1549.8 277.0,1549.7 277.5,1550.9 278.0,1550.7 278.5,1547.6 279.0,1550.8 279.5,1547.5 280.0,1547.7 280.5,1542.7 281.0,1553.4 281.5,1546.6 282.0,1549.7 282.5,1549.7 283.0,1554.3 283.5,1551.4 284.0,1547.9 284.5,1550.6 285.0,1550.3 285.5,1551.6 286.0,1547.4 286.5,1551.2 287.0,1558.0 287.5,1553.6 288.0,1557.7 288.5,1561.8 289.0,1553.7 289.5,1548.1 290.0,1552.3 290.5,1556.1 291.0,1555.5 291.5,1549.3 292.0,1552.4 292.5,1552.9 293.0,1553.3 293.5,1553.2 294.0,1551.0 294.5,1551.9 295.0,1553.0 295.5,1557.0 296.0,1552.4 296.5,1556.2 297.0,1550.8 297.5,1558.2 298.0,1554.9 298.5,1556.8 299.0,1563.1 299.5,1556.1 300.0,1559.2 300.5,1567.3 301.0,1565.8 301.5,1569.3 302.0,1580.8 302.5,1574.1 303.0,1577.1 303.5,1578.7 304.0,1587.6 304.5,1584.6 305.0,1586.1 305.5,1579.8 306.0,1587.1 306.5,1587.6 307.0,1576.6 307.5,1587.8 308.0,1585.2 308.5,1592.3 309.0,1570.0 309.5,1575.1 310.0,1576.7 310.5,1579.6 311.0,1584.4 311.5,1585.1 312.0,1589.3 312.5,1589.6 313.0,1588.5 313.5,1580.2 314.0,1586.6 314.5,1590.9 315.0,1594.6 315.5,1595.5 316.0,1582.4 316.5,1589.6 317.0,1592.9 317.5,1596.0 318.0,1601.2 318.5,1595.4 319.0,1590.1 319.5,1598.4 320.0,1598.0 320.5,1598.4 321.0,1596.8 321.5,1607.6 322.0,1599.7 322.5,1603.9 323.0,1593.7 323.5,1604.2 324.0,1596.4 324.5,1591.0 325.0,1602.7 325.5,1604.9 326.0,1600.4 326.5,1602.0 327.0,1608.5 327.5,1600.0 328.0,1590.9 328.5,1605.2 329.0,1605.3 329.5,1609.5 330.0,1600.1 330.5,1608.7 331.0,1606.8 331.5,1588.2 332.0,1597.6 332.5,1581.5 333.0,1579.5 333.5,1579.4 334.0,1574.5 334.5,1568.3 335.0,1572.9 335.5,1572.1 336.0,1572.5 336.5,1566.3 337.0,1559.9 337.5,1559.6 338.0,1563.4 338.5,1562.8 339.0,1561.4 339.5,1558.6 340.0,1559.8 340.5,1558.2 341.0,1557.6 341.5,1559.1 342.0,1558.0 342.5,1556.9 343.0,1557.4 343.5,1555.3 344.0,1550.8 344.5,1554.3 345.0,1555.6 345.5,1561.0 346.0,1554.7 346.5,1561.8 347.0,1560.2 347.5,1553.3 348.0,1553.8 348.5,1556.4 349.0,1561.3 349.5,1557.2 350.0,1558.1 350.5,1554.2 351.0,1549.2 351.5,1555.5 352.0,1558.6 352.5,1559.8 353.0,1556.4 353.5,1556.8 354.0,1559.8 354.5,1556.0 355.0,1559.9 355.5,1553.0 356.0,1553.1 356.5,1553.1 357.0,1557.9 357.5,1554.9 358.0,1556.9 358.5,1557.7 359.0,1557.6 359.5,1560.6 360.0,1561.0 360.5,1554.2 361.0,1557.3 361.5,1556.0 362.0,1553.7 362.5,1562.1 363.0,1559.2 363.5,1556.3 364.0,1555.6 364.5,1558.0 365.0,1553.7 365.5,1556.3 366.0,1560.7 366.5,1559.8 367.0,1554.5 367.5,1555.6 368.0,1562.9 368.5,1553.0 369.0,1555.3 369.5,1553.0 370.0,1558.3 370.5,1558.0 371.0,1560.4 371.5,1549.2 372.0,1557.4 372.5,1551.9 373.0,1558.7 373.5,1556.1 374.0,1561.6 374.5,1557.6 375.0,1553.4 375.5,1560.1 376.0,1552.9 376.5,1555.1 377.0,1559.2 377.5,1557.5 378.0,1557.3 378.5,1556.0 379.0,1557.4 379.5,1558.2 380.0,1556.5 380.5,1558.6 381.0,1559.4 381.5,1555.5 382.0,1552.6 382.5,1559.9 383.0,1555.1 383.5,1557.0 384.0,1557.9 384.5,1552.2 385.0,1556.4 385.5,1550.1 386.0,1557.0 386.5,1553.4 387.0,1555.2 387.5,1556.7 388.0,1552.5 388.5,1554.7 389.0,1552.3 389.5,1554.2 390.0,1557.3 390.5,1554.2 391.0,1553.7 391.5,1550.8 392.0,1556.4 392.5,1553.7 393.0,1558.8 393.5,1551.4 394.0,1556.7 394.5,1558.8 395.0,1553.4 395.5,1549.7 396.0,1557.7 396.5,1556.3 397.0,1555.2 397.5,1556.3 398.0,1551.6 398.5,1555.1 399.0,1554.8 399.5,1550.7 400.0,1554.7 400.5,1551.1 401.0,1555.4 401.5,1556.1 402.0,1558.0 402.5,1546.7 403.0,1553.4 403.5,1551.7 404.0,1552.5 404.5,1551.9 405.0,1552.2 405.5,1546.6 406.0,1555.6 406.5,1557.2 407.0,1555.5 407.5,1556.5 408.0,1550.1 408.5,1549.9 409.0,1555.3 409.5,1556.7 410.0,1553.5 410.5,1548.1 411.0,1561.0 411.5,1550.8 412.0,1555.7 412.5,1549.2 413.0,1555.7 413.5,1553.3 414.0,1557.0 414.5,1555.4 415.0,1548.2 415.5,1549.9 416.0,1553.6 416.5,1555.1 417.0,1558.2 417.5,1553.6 418.0,1552.5 418.5,1552.7 419.0,1552.7 419.5,1555.8 420.0,1552.6 420.5,1552.5 421.0,1548.5 421.5,1546.7 422.0,1552.8 422.5,1554.7 423.0,1552.6 423.5,1554.3 424.0,1554.7 424.5,1552.6 425.0,1555.6 425.5,1550.5 426.0,1552.7 426.5,1551.6 427.0,1553.0 427.5,1554.6 428.0,1555.3 428.5,1553.1 429.0,1554.1 429.5,1551.7 430.0,1552.4 430.5,1556.7 431.0,1552.4 431.5,1556.8 432.0,1554.6 432.5,1553.8 433.0,1559.3 433.5,1552.8 434.0,1552.7 434.5,1553.7 435.0,1554.6 435.5,1554.5 436.0,1556.5 436.5,1554.4 437.0,1555.4 437.5,1553.5 438.0,1557.5 438.5,1553.2 439.0,1553.6 439.5,1554.6 440.0,1555.6 440.5,1552.6 441.0,1559.5 441.5,1553.1 442.0,1553.8 442.5,1553.8 443.0,1553.6 443.5,1556.8 444.0,1555.7 444.5,1553.1 445.0,1553.8 445.5,1554.5 446.0,1559.7 446.5,1553.4 447.0,1551.5 447.5,1552.0 448.0,1554.3 448.5,1559.8 449.0,1552.1 449.5,1555.4 450.0,1562.7 450.5,1553.8 451.0,1559.5 451.5,1558.9 452.0,1556.9 452.5,1551.0 453.0,1556.0 453.5,1554.1 454.0,1549.5 454.5,1550.0 455.0,1555.2 455.5,1555.6 456.0,1558.7 456.5,1556.9 457.0,1553.5 457.5,1553.6 458.0,1554.4 458.5,1551.7 459.0,1557.1 459.5,1554.9 460.0,1552.5 460.5,1552.9 461.0,1551.4 461.5,1553.5 462.0,1555.6 462.5,1553.5 463.0,1557.7 463.5,1559.6 464.0,1552.8 464.5,1554.8 465.0,1553.6 465.5,1559.8 466.0,1555.7 466.5,1556.4 467.0,1557.2 467.5,1561.4 468.0,1555.5 468.5,1551.7 469.0,1553.3 469.5,1556.3 470.0,1554.5 470.5,1552.1 471.0,1562.9 471.5,1554.9 472.0,1552.9 472.5,1552.5 473.0,1549.4 473.5,1551.1 474.0,1553.7 474.5,1553.7 475.0,1552.3 475.5,1556.3 476.0,1554.8 476.5,1552.0 477.0,1548.8 477.5,1555.3 478.0,1555.0 478.5,1554.2 479.0,1550.7 479.5,1555.0 480.0,1550.4 480.5,1557.9 481.0,1555.5 481.5,1555.6 482.0,1552.6 482.5,1551.8 483.0,1559.6 483.5,1557.9 484.0,1554.0 484.5,1557.1 485.0,1559.8 485.5,1552.0 486.0,1553.7 486.5,1553.7 487.0,1556.7 487.5,1552.1 488.0,1556.0 488.5,1551.9 489.0,1558.1 489.5,1557.9 490.0,1554.7 490.5,1557.5 491.0,1553.3 491.5,1554.6 492.0,1558.3 492.5,1555.2 493.0,1556.6 493.5,1552.7 494.0,1557.5 494.5,1556.9 495.0,1551.9 495.5,1548.7 496.0,1549.5 496.5,1555.4 497.0,1555.0 497.5,1551.0 498.0,1556.1 498.5,1558.7 499.0,1555.4 499.5,1554.4 500.0,1558.3 500.5,1560.3 501.0,1559.1 501.5,1552.1 502.0,1555.9 502.5,1553.4 503.0,1551.7 503.5,1547.7 504.0,1547.8 504.5,1542.4 505.0,1543.8 505.5,1539.3 506.0,1538.5 506.5,1530.2 507.0,1532.1 507.5,1532.6 508.0,1529.7 508.5,1527.6 509.0,1523.1 509.5,1530.6 510.0,1529.5 510.5,1528.1 511.0,1519.7 511.5,1525.1 512.0,1528.9 512.5,1527.3 513.0,1524.0 513.5,1531.9 514.0,1533.1 514.5,1529.1 515.0,1532.2 515.5,1532.5 516.0,1537.0 516.5,1530.4 517.0,1531.9 517.5,1536.2 518.0,1536.7 518.5,1545.6 519.0,1538.0 519.5,1541.1 520.0,1539.8 520.5,1539.6 521.0,1543.3 521.5,1548.1 522.0,1542.3 522.5,1546.3 523.0,1545.6 523.5,1547.1 524.0,1546.8 524.5,1553.4 525.0,1543.2 525.5,1546.3 526.0,1543.8 526.5,1541.2 527.0,1547.3 527.5,1553.0 528.0,1550.3 528.5,1551.4 529.0,1549.3 529.5,1547.6 530.0,1554.1 530.5,1547.0 531.0,1552.8 531.5,1547.4 532.0,1548.7 532.5,1549.4 533.0,1548.8 533.5,1550.3 534.0,1550.7 534.5,1554.0 535.0,1549.1 535.5,1543.5 536.0,1543.3 536.5,1545.5 537.0,1547.5 537.5,1551.9 538.0,1545.6 538.5,1550.4 539.0,1550.6 539.5,1551.4 540.0,1550.4 540.5,1552.2 541.0,1551.3 541.5,1554.5 542.0,1552.5 542.5,1544.6 543.0,1551.9 543.5,1552.6 544.0,1550.4 544.5,1550.1 545.0,1555.8 545.5,1553.2 546.0,1549.9 546.5,1552.0 547.0,1552.5 547.5,1548.3 548.0,1555.3 548.5,1553.1 549.0,1555.0 549.5,1549.0 550.0,1559.7 550.5,1555.9 551.0,1555.6 551.5,1552.1 552.0,1552.4 552.5,1550.1 553.0,1559.3 553.5,1552.3 554.0,1555.7 554.5,1556.9 555.0,1553.4 555.5,1558.0 556.0,1561.6 556.5,1556.5 557.0,1560.1 557.5,1557.7 558.0,1554.7 558.5,1556.0 559.0,1553.2 559.5,1559.8 560.0,1565.0 560.5,1563.8 561.0,1565.4 561.5,1569.2 562.0,1566.9 562.5,1573.1 563.0,1580.0 563.5,1574.6 564.0,1580.3 564.5,1579.5 565.0,1583.0 565.5,1581.9 566.0,1587.5 566.5,1582.2 567.0,1589.2 567.5,1591.5 568.0,1593.4 568.5,1604.0 569.0,1595.3 569.5,1595.1 570.0,1591.5 570.5,1600.3 571.0,1581.2 571.5,1589.7 572.0,1597.0 572.5,1599.2 573.0,1589.7 573.5,1587.7 574.0,1590.8 574.5,1586.5 575.0,1591.7 575.5,1585.1 576.0,1593.6 576.5,1590.0 577.0,1584.5 577.5,1575.4 578.0,1598.0 578.5,1595.4 579.0,1598.3 579.5,1589.1 580.0,1601.6 580.5,1597.9 581.0,1595.4 581.5,1601.6 582.0,1601.8 582.5,1599.2 583.0,1609.5 583.5,1605.8 584.0,1599.8 584.5,1596.7 585.0,1599.1 585.5,1609.2 586.0,1601.5 586.5,1594.1 587.0,1595.9 587.5,1600.1 588.0,1605.4 588.5,1596.5 589.0,1604.2 589.5,1608.2 590.0,1606.3 590.5,1590.5 591.0,1595.9 591.5,1588.1 592.0,1596.1 592.5,1584.5 593.0,1590.9 593.5,1585.2 594.0,1573.7 594.5,1576.0 595.0,1576.9 595.5,1572.6 596.0,1568.4 596.5,1564.5 597.0,1568.4 597.5,1571.1 598.0,1565.4 598.5,1563.2 599.0,1561.7 599.5,1556.8 600.0,1558.6 600.5,1555.9 601.0,1560.5 601.5,1554.1 602.0,1550.0 602.5,1553.6 603.0,1554.8 603.5,1554.7 604.0,1549.3 604.5,1557.2 605.0,1554.3 605.5,1552.2 606.0,1550.9 606.5,1554.1 607.0,1551.5 607.5,1553.4 608.0,1552.3 608.5,1553.2 609.0,1556.4 609.5,1553.1 610.0,1550.5 610.5,1556.3 611.0,1554.2 611.5,1551.5 612.0,1557.0 612.5,1553.3 613.0,1557.2 613.5,1550.6 614.0,1547.2 614.5,1548.2 615.0,1555.2 615.5,1552.4 616.0,1554.4 616.5,1554.6 617.0,1550.3 617.5,1559.2 618.0,1552.0 618.5,1555.6 619.0,1551.2 619.5,1555.1 620.0,1557.9 620.5,1555.0 621.0,1553.6 621.5,1555.7 622.0,1554.4 622.5,1557.5 623.0,1562.4 623.5,1553.2 624.0,1553.8 624.5,1555.5 625.0,1555.8 625.5,1552.8 626.0,1557.4 626.5,1558.2 627.0,1556.6 627.5,1552.4 628.0,1560.3 628.5,1552.4 629.0,1558.1 629.5,1559.5 630.0,1552.3 630.5,1556.5 631.0,1560.2 631.5,1557.3 632.0,1553.4 632.5,1552.6 633.0,1557.5 633.5,1555.0 634.0,1554.1 634.5,1558.3 635.0,1555.2 635.5,1556.4 636.0,1558.0 636.5,1557.9 637.0,1556.2 637.5,1556.3 638.0,1558.1 638.5,1557.7 639.0,1553.0 639.5,1555.8 640.0,1553.8 640.5,1552.8 641.0,1554.7 641.5,1549.6 642.0,1559.1 642.5,1554.1 643.0,1557.6 643.5,1550.9 644.0,1551.4 644.5,1562.6 645.0,1559.6 645.5,1554.6 646.0,1554.3 646.5,1554.4 647.0,1556.9 647.5,1555.3 648.0,1554.8 648.5,1557.0 649.0,1553.6 649.5,1563.7 650.0,1554.9 650.5,1560.0 651.0,1553.9 651.5,1557.6 652.0,1559.6 652.5,1555.8 653.0,1559.7 653.5,1559.7 654.0,1561.8 654.5,1557.1 655.0,1555.5 655.5,1553.9 656.0,1557.5 656.5,1553.8 657.0,1557.0 657.5,1557.4 658.0,1555.3 658.5,1553.9 659.0,1558.2 659.5,1557.9 660.0,1557.7 660.5,1556.9 661.0,1559.8 661.5,1553.9 662.0,1558.2 662.5,1555.5 663.0,1559.4 663.5,1555.8 664.0,1555.6 664.5,1558.1 665.0,1550.6 665.5,1555.6 666.0,1551.2 666.5,1553.7 667.0,1558.6 667.5,1557.7 668.0,1555.1 668.5,1556.3 669.0,1556.2 669.5,1557.2 670.0,1561.8 670.5,1557.0 671.0,1563.0 671.5,1555.0 672.0,1558.4 672.5,1558.3 673.0,1556.7 673.5,1555.2 674.0,1560.4 674.5,1561.3 675.0,1559.1 675.5,1562.1 676.0,1558.8 676.5,1550.9 677.0,1558.9 677.5,1553.7 678.0,1559.8 678.5,1554.7 679.0,1556.5 679.5,1555.7 680.0,1553.7 680.5,1550.0 681.0,1554.8 681.5,1555.0 682.0,1558.3 682.5,1553.5 683.0,1556.0 683.5,1552.6 684.0,1555.3 684.5,1549.8 685.0,1561.1 685.5,1555.9 686.0,1552.3 686.5,1556.0 687.0,1557.3 687.5,1555.6 688.0,1559.0 688.5,1554.4 689.0,1547.2 689.5,1551.1 690.0,1558.0 690.5,1557.2 691.0,1555.8 691.5,1551.4 692.0,1557.0 692.5,1556.5 693.0,1551.6 693.5,1551.7 694.0,1555.4 694.5,1557.6 695.0,1558.9 695.5,1556.3 696.0,1560.9 696.5,1551.8 697.0,1555.9 697.5,1552.5 698.0,1548.2 698.5,1550.3 699.0,1557.4 699.5,1551.1 700.0,1550.2 700.5,1556.1 701.0,1556.7 701.5,1554.2 702.0,1558.8 702.5,1549.4 703.0,1561.3 703.5,1557.4 704.0,1554.9 704.5,1554.8 705.0,1553.6 705.5,1553.3 706.0,1554.8 706.5,1550.7 707.0,1560.8 707.5,1554.3 708.0,1556.5 708.5,1553.9 709.0,1553.7 709.5,1557.2 710.0,1556.4 710.5,1552.0 711.0,1553.4 711.5,1556.6 712.0,1548.3 712.5,1547.5 713.0,1559.1 713.5,1553.8 714.0,1547.0 714.5,1552.3 715.0,1554.1 715.5,1555.5 716.0,1556.5 716.5,1555.5 717.0,1556.6 717.5,1552.7 718.0,1556.2 718.5,1556.4 719.0,1558.7 719.5,1555.2 720.0,1557.9 720.5,1555.7 721.0,1552.0 721.5,1554.1 722.0,1553.7 722.5,1554.2 723.0,1555.1 723.5,1555.7 724.0,1556.3 724.5,1553.1 725.0,1558.8 725.5,1551.4 726.0,1555.4 726.5,1557.9 727.0,1557.1 727.5,1557.7 728.0,1555.2 728.5,1557.9 729.0,1552.2 729.5,1558.2 730.0,1562.8 730.5,1558.1 731.0,1562.0 731.5,1556.0 732.0,1552.7 732.5,1554.0 733.0,1560.1 733.5,1558.3 734.0,1550.6 734.5,1555.1 735.0,1556.1 735.5,1552.9 736.0,1548.6 736.5,1552.2 737.0,1555.8 737.5,1555.1 738.0,1554.4 738.5,1558.2 739.0,1559.5 739.5,1556.2 740.0,1559.3 740.5,1556.6 741.0,1556.1 741.5,1549.3 742.0,1559.1 742.5,1556.9 743.0,1557.0 743.5,1555.2 744.0,1553.4 744.5,1558.1 745.0,1559.2 745.5,1561.7 746.0,1559.5 746.5,1555.1 747.0,1556.6 747.5,1559.9 748.0,1558.0 748.5,1556.8 749.0,1555.3 749.5,1558.7 750.0,1557.7 750.5,1562.5 751.0,1560.5 751.5,1552.1 752.0,1563.7 752.5,1558.1 753.0,1556.4 753.5,1558.3 754.0,1559.6 754.5,1556.0 755.0,1554.5 755.5,1553.3 756.0,1557.5 756.5,1550.8 757.0,1551.6 757.5,1547.7 758.0,1542.4 758.5,1538.1 759.0,1534.4 759.5,1535.6 760.0,1528.3 760.5,1524.6 761.0,1521.7 761.5,1518.0 762.0,1519.7 762.5,1516.8 763.0,1510.8 763.5,1514.5 764.0,1506.7 764.5,1506.0 765.0,1502.5 765.5,1505.1 766.0,1500.8 766.5,1496.5 767.0,1492.1 767.5,1490.1 768.0,1491.7 768.5,1490.4 769.0,1493.3 769.5,1490.5 770.0,1493.5 770.5,1491.8 771.0,1489.2 771.5,1496.8 772.0,1503.4 772.5,1503.6 773.0,1507.6 773.5,1508.9 774.0,1503.4 774.5,1508.8 775.0,1516.3 775.5,1511.2 776.0,1510.9 776.5,1517.4 777.0,1519.9 777.5,1520.5 778.0,1520.1 778.5,1520.6 779.0,1520.5 779.5,1522.0 780.0,1523.6 780.5,1523.9 781.0,1526.9 781.5,1534.5 782.0,1531.0 782.5,1530.5 783.0,1533.5 783.5,1530.4 784.0,1535.1 784.5,1537.7 785.0,1531.3 785.5,1534.6 786.0,1536.8 786.5,1535.2 787.0,1535.4 787.5,1538.3 788.0,1547.5 788.5,1542.6 789.0,1542.6 789.5,1544.8 790.0,1541.8 790.5,1539.4 791.0,1545.2 791.5,1547.8 792.0,1538.7 792.5,1546.2 793.0,1548.4 793.5,1543.8 794.0,1543.1 794.5,1546.4 795.0,1541.7 795.5,1545.5 796.0,1546.7 796.5,1543.1 797.0,1541.2 797.5,1545.1 798.0,1541.7 798.5,1542.6 799.0,1533.2 799.5,1543.6 800.0,1536.8 800.5,1540.7 801.0,1540.5 801.5,1538.5 802.0,1538.5 802.5,1537.9 803.0,1541.3 803.5,1544.7 804.0,1545.1 804.5,1542.4 805.0,1542.7 805.5,1540.8 806.0,1544.3 806.5,1542.5 807.0,1541.3 807.5,1545.7 808.0,1550.9 808.5,1550.2 809.0,1551.1 809.5,1542.1 810.0,1549.7 810.5,1543.5 811.0,1545.7 811.5,1542.4 812.0,1544.8 812.5,1548.4 813.0,1548.9 813.5,1548.2 814.0,1548.1 814.5,1550.4 815.0,1549.1 815.5,1544.2 816.0,1554.5 816.5,1548.7 817.0,1552.5 817.5,1549.3 818.0,1547.5 818.5,1550.4 819.0,1548.0 819.5,1555.4 820.0,1547.3 820.5,1552.7 821.0,1549.1 821.5,1553.0 822.0,1563.9 822.5,1560.8 823.0,1560.3 823.5,1558.8 824.0,1565.1 824.5,1569.0 825.0,1583.9 825.5,1571.1 826.0,1573.4 826.5,1588.9 827.0,1590.9 827.5,1599.9 828.0,1585.1 828.5,1574.4 829.0,1587.0 829.5,1584.1 830.0,1589.0 830.5,1598.8 831.0,1585.0 831.5,1600.2 832.0,1593.4 832.5,1589.9 833.0,1585.6 833.5,1587.9 834.0,1587.6 834.5,1594.1 835.0,1596.7 835.5,1587.9 836.0,1592.1 836.5,1596.3 837.0,1596.6 837.5,1592.5 838.0,1601.4 838.5,1598.8 839.0,1601.2 839.5,1590.6 840.0,1589.8 840.5,1580.6 841.0,1602.6 841.5,1598.2 842.0,1589.0 842.5,1596.2 843.0,1597.1 843.5,1584.9 844.0,1597.7 844.5,1603.0 845.0,1604.3 845.5,1594.4 846.0,1594.9 846.5,1605.4 847.0,1603.3 847.5,1594.3 848.0,1594.3 848.5,1602.0 849.0,1594.6 849.5,1595.1 850.0,1609.8 850.5,1601.1 851.0,1596.9 851.5,1603.2 852.0,1613.1 852.5,1599.7 853.0,1591.3 853.5,1584.2 854.0,1605.2 854.5,1572.1 855.0,1591.3 855.5,1577.7 856.0,1573.1 856.5,1570.1 857.0,1568.9 857.5,1571.3 858.0,1564.3 858.5,1566.7 859.0,1570.7 859.5,1552.7 860.0,1557.5 860.5,1552.5 861.0,1559.3 861.5,1551.8 862.0,1551.2 862.5,1551.1 863.0,1555.8 863.5,1559.2 864.0,1555.9 864.5,1561.9 865.0,1560.1 865.5,1554.5 866.0,1557.6 866.5,1554.8 867.0,1554.5 867.5,1548.0 868.0,1549.8 868.5,1553.9 869.0,1550.1 869.5,1556.2 870.0,1554.8 870.5,1551.0 871.0,1557.6 871.5,1554.7 872.0,1557.9 872.5,1553.5 873.0,1548.9 873.5,1556.2 874.0,1553.2 874.5,1556.6 875.0,1557.4 875.5,1557.7 876.0,1549.5 876.5,1546.7 877.0,1552.5 877.5,1556.2 878.0,1551.8 878.5,1555.0 879.0,1551.5 879.5,1553.1 880.0,1553.2 880.5,1552.2 881.0,1555.8 881.5,1555.3 882.0,1559.3 882.5,1555.4 883.0,1558.4 883.5,1554.5 884.0,1557.0 884.5,1553.8 885.0,1552.7 885.5,1558.5 886.0,1556.6 886.5,1557.0 887.0,1551.9 887.5,1549.0 888.0,1551.6 888.5,1555.3 889.0,1549.7 889.5,1558.9 890.0,1549.6 890.5,1556.2 891.0,1562.8 891.5,1546.1 892.0,1549.4 892.5,1557.4 893.0,1553.8 893.5,1555.0 894.0,1554.0 894.5,1558.9 895.0,1556.4 895.5,1552.9 896.0,1553.7 896.5,1550.7 897.0,1554.1 897.5,1547.2 898.0,1556.6 898.5,1553.6 899.0,1560.3 899.5,1558.3 900.0,1550.4 900.5,1557.3 901.0,1552.8 901.5,1554.5 902.0,1557.5 902.5,1555.4 903.0,1555.8 903.5,1555.7 904.0,1551.9 904.5,1552.2 905.0,1555.9 905.5,1556.9 906.0,1553.2 906.5,1554.4 907.0,1550.9 907.5,1545.9 908.0,1551.4 908.5,1554.1 909.0,1554.4 909.5,1556.5 910.0,1556.6 910.5,1556.9 911.0,1555.0 911.5,1555.1 912.0,1551.5 912.5,1554.9 913.0,1554.3 913.5,1557.4 914.0,1548.6 914.5,1552.0 915.0,1548.1 915.5,1551.1 916.0,1548.9 916.5,1554.2 917.0,1551.3 917.5,1545.1 918.0,1557.1 918.5,1549.8 919.0,1548.1 919.5,1552.0 920.0,1550.9 920.5,1549.3 921.0,1555.3 921.5,1551.9 922.0,1555.9 922.5,1555.2 923.0,1555.0 923.5,1553.5 924.0,1552.6 924.5,1551.6 925.0,1557.4 925.5,1546.8 926.0,1549.3 926.5,1550.6 927.0,1554.0 927.5,1553.1 928.0,1551.1 928.5,1551.5 929.0,1558.0 929.5,1550.4 930.0,1543.5 930.5,1558.5 931.0,1549.5 931.5,1551.4 932.0,1552.9 932.5,1548.2 933.0,1556.2 933.5,1552.0 934.0,1547.9 934.5,1553.0 935.0,1553.7 935.5,1552.1 936.0,1553.8 936.5,1547.6 937.0,1555.3 937.5,1549.8 938.0,1556.5 938.5,1550.4 939.0,1552.9 939.5,1560.7 940.0,1552.6 940.5,1556.0 941.0,1554.0 941.5,1547.8 942.0,1556.2 942.5,1556.0 943.0,1548.2 943.5,1552.4 944.0,1547.9 944.5,1551.8 945.0,1555.6 945.5,1553.0 946.0,1549.0 946.5,1549.9 947.0,1552.9 947.5,1552.7 948.0,1553.3 948.5,1554.7 949.0,1546.9 949.5,1552.9 950.0,1556.5 950.5,1554.5 951.0,1550.7 951.5,1551.0 952.0,1553.5 952.5,1555.2 953.0,1553.0 953.5,1558.4 954.0,1557.2 954.5,1550.6 955.0,1554.7 955.5,1552.0 956.0,1549.4 956.5,1551.2 957.0,1553.2 957.5,1546.6 958.0,1551.2 958.5,1554.4 959.0,1551.0 959.5,1552.1 960.0,1556.1 960.5,1553.2 961.0,1553.9 961.5,1559.6 962.0,1554.0 962.5,1554.4 963.0,1554.9 963.5,1558.7 964.0,1554.6 964.5,1553.7 965.0,1553.2 965.5,1557.2 966.0,1551.6 966.5,1557.4 967.0,1554.3 967.5,1549.6 968.0,1555.9 968.5,1555.3 969.0,1550.3 969.5,1554.9 970.0,1554.7 970.5,1553.1 971.0,1550.5 971.5,1560.8 972.0,1556.5 972.5,1557.0 973.0,1557.3 973.5,1556.6 974.0,1556.6 974.5,1553.0 975.0,1556.8 975.5,1553.6 976.0,1552.8 976.5,1556.3 977.0,1553.7 977.5,1549.0 978.0,1553.1 978.5,1556.1 979.0,1554.4 979.5,1557.1 980.0,1553.4 980.5,1551.5 981.0,1556.8 981.5,1554.9 982.0,1550.8 982.5,1555.9 983.0,1553.8 983.5,1557.6 984.0,1557.0 984.5,1556.0 985.0,1547.8 985.5,1555.7 986.0,1556.1 986.5,1556.2 987.0,1555.0 987.5,1552.5 988.0,1554.0 988.5,1548.3 989.0,1554.0 989.5,1550.2 990.0,1553.8 990.5,1552.8 991.0,1559.1 991.5,1555.1 992.0,1555.0 992.5,1555.5 993.0,1561.4 993.5,1552.1 994.0,1556.0 994.5,1556.2 995.0,1555.7 995.5,1555.6 996.0,1553.7 996.5,1558.9 997.0,1557.8 997.5,1554.1 998.0,1554.6 998.5,1556.2 999.0,1556.8 999.5,1557.7 1000.0,1555.3 1000.5,1551.5 1001.0,1558.3 1001.5,1550.3 1002.0,1552.3 1002.5,1556.3 1003.0,1552.4 1003.5,1559.3 1004.0,1560.0 1004.5,1558.6 1005.0,1555.9 1005.5,1555.6 1006.0,1556.1 1006.5,1554.2 1007.0,1561.0 1007.5,1550.3 1008.0,1553.6 1008.5,1548.6 1009.0,1545.3 1009.5,1544.9 1010.0,1543.0 1010.5,1538.5 1011.0,1532.0 1011.5,1526.8 1012.0,1523.5 1012.5,1524.8 1013.0,1520.8 1013.5,1517.8 1014.0,1510.2 1014.5,1514.8 1015.0,1501.7 1015.5,1503.9 1016.0,1501.8 1016.5,1495.3 1017.0,1490.1 1017.5,1489.1 1018.0,1483.9 1018.5,1483.6 1019.0,1477.2 1019.5,1475.4 1020.0,1477.6 1020.5,1471.1 1021.0,1473.2 1021.5,1471.6 1022.0,1472.8 1022.5,1469.0 1023.0,1463.9 1023.5,1468.5 1024.0,1460.7 1024.5,1460.7 1025.0,1460.0 1025.5,1466.7 1026.0,1459.4 1026.5,1456.2 1027.0,1459.7 1027.5,1456.2 1028.0,1462.8 1028.5,1452.6 1029.0,1455.8 1029.5,1451.7 1030.0,1460.6 1030.5,1453.4 1031.0,1456.8 1031.5,1454.2 1032.0,1460.0 1032.5,1461.2 1033.0,1454.6 1033.5,1466.1 1034.0,1467.9 1034.5,1468.7 1035.0,1473.1 1035.5,1468.4 1036.0,1468.9 1036.5,1479.8 1037.0,1486.3 1037.5,1480.8 1038.0,1484.4 1038.5,1488.7 1039.0,1491.1 1039.5,1500.7 1040.0,1501.9 1040.5,1508.6 1041.0,1511.7 1041.5,1507.3 1042.0,1515.4 1042.5,1509.3 1043.0,1519.0 1043.5,1524.2 1044.0,1522.8 1044.5,1521.0 1045.0,1526.4 1045.5,1533.0 1046.0,1529.5 1046.5,1527.8 1047.0,1534.9 1047.5,1537.1 1048.0,1533.0 1048.5,1537.0 1049.0,1542.2 1049.5,1540.8 1050.0,1542.8 1050.5,1540.4 1051.0,1541.9 1051.5,1539.5 1052.0,1541.7 1052.5,1549.5 1053.0,1544.4 1053.5,1543.7 1054.0,1545.9 1054.5,1545.0 1055.0,1550.7 1055.5,1552.4 1056.0,1547.1 1056.5,1553.7 1057.0,1557.5 1057.5,1548.2 1058.0,1554.1 1058.5,1553.3 1059.0,1557.1 1059.5,1557.3 1060.0,1557.3 1060.5,1554.4 1061.0,1551.6 1061.5,1559.3 1062.0,1549.4 1062.5,1554.8 1063.0,1554.0 1063.5,1548.1 1064.0,1549.9 1064.5,1553.9 1065.0,1543.0 1065.5,1550.8 1066.0,1546.9 1066.5,1547.6 1067.0,1544.5 1067.5,1550.8 1068.0,1546.9 1068.5,1552.9 1069.0,1547.8 1069.5,1554.1 1070.0,1553.5 1070.5,1546.6 1071.0,1551.4 1071.5,1552.1 1072.0,1545.5 1072.5,1551.3 1073.0,1554.9 1073.5,1550.2 1074.0,1556.0 1074.5,1548.9"/>
<polyline fill="none" stroke="#ff0000" stroke-width="1.1" points="163.5,1457.0 164.0,1453.8 164.5,1454.0 165.0,1458.0 165.5,1457.4 166.0,1457.9 166.5,1455.2 167.0,1456.6 167.5,1454.5 168.0,1460.6 168.5,1452.4 169.0,1456.3 169.5,1454.3 170.0,1456.2 170.5,1456.3 171.0,1453.8 171.5,1452.4 172.0,1454.4 172.5,1453.8 173.0,1451.4 173.5,1454.6 174.0,1455.6 174.5,1450.6 175.0,1452.7 175.5,1455.2 176.0,1452.1 176.5,1450.8 177.0,1452.0 177.5,1452.3 178.0,1448.1 178.5,1445.6 179.0,1447.8 179.5,1448.6 180.0,1445.4 180.5,1445.0 181.0,1447.8 181.5,1446.1 182.0,1445.3 182.5,1448.7 183.0,1450.5 183.5,1448.1 184.0,1448.7 184.5,1447.1 185.0,1453.1 185.5,1452.0 186.0,1452.8 186.5,1455.3 187.0,1451.3 187.5,1450.7 188.0,1454.1 188.5,1449.4 189.0,1451.1 189.5,1451.9 190.0,1452.8 190.5,1451.8 191.0,1457.4 191.5,1453.1 192.0,1453.3 192.5,1459.2 193.0,1454.4 193.5,1456.1 194.0,1453.8 194.5,1457.0 195.0,1456.2 195.5,1455.6 196.0,1458.7 196.5,1455.5 197.0,1457.4 197.5,1456.2 198.0,1458.8 198.5,1455.3 199.0,1456.6 199.5,1458.7 200.0,1457.1 200.5,1455.8 201.0,1454.8 201.5,1463.0 202.0,1457.4 202.5,1458.6 203.0,1460.1 203.5,1462.5 204.0,1457.4 204.5,1463.6 205.0,1459.5 205.5,1458.0 206.0,1465.1 206.5,1462.2 207.0,1464.8 207.5,1461.4 208.0,1458.6 208.5,1457.6 209.0,1466.9 209.5,1464.2 210.0,1461.4 210.5,1459.6 211.0,1462.5 211.5,1465.5 212.0,1463.3 212.5,1464.0 213.0,1464.5 213.5,1465.7 214.0,1463.1 214.5,1463.3 215.0,1464.2 215.5,1464.5 216.0,1467.1 216.5,1465.2 217.0,1461.1 217.5,1464.5 218.0,1467.4 218.5,1460.8 219.0,1462.7 219.5,1459.0 220.0,1463.9 220.5,1465.1 221.0,1467.4 221.5,1460.8 222.0,1457.9 222.5,1466.0 223.0,1465.5 223.5,1462.6 224.0,1466.0 224.5,1464.6 225.0,1464.8 225.5,1463.5 226.0,1461.4 226.5,1463.9 227.0,1461.8 227.5,1465.0 228.0,1463.2 228.5,1469.1 229.0,1467.5 229.5,1462.1 230.0,1465.4 230.5,1462.6 231.0,1462.7 231.5,1460.9 232.0,1462.1 232.5,1461.6 233.0,1464.3 233.5,1465.7 234.0,1465.7 234.5,1465.2 235.0,1466.7 235.5,1465.3 236.0,1464.2 236.5,1463.4 237.0,1464.8 237.5,1468.6 238.0,1464.2 238.5,1463.5 239.0,1461.4 239.5,1462.6 240.0,1465.5 240.5,1465.6 241.0,1459.0 241.5,1461.8 242.0,1459.1 242.5,1458.3 243.0,1465.2 243.5,1462.2 244.0,1461.9 244.5,1461.5 245.0,1461.4 245.5,1462.1 246.0,1462.0 246.5,1465.9 247.0,1462.6 247.5,1463.8 248.0,1461.6 248.5,1462.9 249.0,1460.2 249.5,1459.6 250.0,1460.6 250.5,1460.5 251.0,1460.9 251.5,1462.1 252.0,1461.3 252.5,1461.9 253.0,1459.7 253.5,1457.7 254.0,1453.5 254.5,1455.3 255.0,1447.2 255.5,1448.2 256.0,1445.3 256.5,1444.0 257.0,1444.7 257.5,1442.6 258.0,1444.5 258.5,1445.6 259.0,1444.9 259.5,1439.7 260.0,1442.6 260.5,1445.4 261.0,1442.4 261.5,1446.1 262.0,1438.0 262.5,1446.3 263.0,1441.9 263.5,1442.1 264.0,1447.3 264.5,1443.5 265.0,1442.2 265.5,1443.9 266.0,1444.8 266.5,1443.6 267.0,1445.8 267.5,1445.8 268.0,1447.3 268.5,1447.0 269.0,1452.2 269.5,1449.5 270.0,1454.1 270.5,1457.0 271.0,1455.0 271.5,1446.2 272.0,1442.3 272.5,1440.2 273.0,1431.7 273.5,1431.8 274.0,1428.3 274.5,1425.0 275.0,1432.4 275.5,1428.1 276.0,1432.6 276.5,1433.5 277.0,1437.0 277.5,1438.8 278.0,1439.0 278.5,1436.9 279.0,1436.9 279.5,1443.0 280.0,1442.4 280.5,1447.6 281.0,1453.6 281.5,1450.7 282.0,1452.1 282.5,1456.2 283.0,1456.5 283.5,1456.2 284.0,1459.9 284.5,1461.7 285.0,1459.1 285.5,1459.4 286.0,1460.1 286.5,1457.2 287.0,1455.8 287.5,1461.3 288.0,1458.9 288.5,1458.4 289.0,1458.9 289.5,1458.1 290.0,1461.5 290.5,1458.8 291.0,1455.8 291.5,1458.7 292.0,1462.1 292.5,1459.2 293.0,1457.6 293.5,1459.7 294.0,1461.9 294.5,1456.9 295.0,1463.6 295.5,1459.4 296.0,1460.6 296.5,1463.4 297.0,1457.7 297.5,1459.8 298.0,1463.4 298.5,1459.2 299.0,1461.6 299.5,1465.1 300.0,1462.2 300.5,1459.7 301.0,1458.5 301.5,1459.4 302.0,1459.4 302.5,1458.1 303.0,1459.4 303.5,1455.8 304.0,1458.0 304.5,1457.4 305.0,1456.5 305.5,1460.0 306.0,1458.9 306.5,1450.2 307.0,1449.6 307.5,1447.7 308.0,1442.8 308.5,1441.3 309.0,1436.1 309.5,1435.0 310.0,1440.7 310.5,1422.4 311.0,1430.0 311.5,1426.6 312.0,1435.9 312.5,1440.5 313.0,1440.4 313.5,1454.7 314.0,1458.8 314.5,1458.6 315.0,1470.4 315.5,1463.9 316.0,1467.0 316.5,1461.2 317.0,1468.0 317.5,1483.8 318.0,1471.0 318.5,1462.4 319.0,1488.4 319.5,1482.0 320.0,1477.9 320.5,1488.4 321.0,1483.0 321.5,1479.0 322.0,1489.7 322.5,1478.1 323.0,1477.7 323.5,1490.6 324.0,1481.4 324.5,1474.0 325.0,1483.8 325.5,1479.7 326.0,1478.6 326.5,1485.0 327.0,1475.7 327.5,1480.0 328.0,1490.1 328.5,1478.6 329.0,1475.9 329.5,1476.1 330.0,1486.8 330.5,1478.4 331.0,1471.3 331.5,1479.7 332.0,1472.4 332.5,1470.2 333.0,1479.0 333.5,1472.5 334.0,1478.3 334.5,1466.9 335.0,1474.2 335.5,1476.4 336.0,1471.2 336.5,1470.9 337.0,1467.0 337.5,1467.4 338.0,1468.6 338.5,1464.9 339.0,1465.7 339.5,1465.2 340.0,1471.2 340.5,1465.2 341.0,1462.7 341.5,1460.2 342.0,1459.6 342.5,1460.6 343.0,1466.8 343.5,1469.2 344.0,1462.6 344.5,1463.9 345.0,1461.7 345.5,1464.3 346.0,1463.5 346.5,1467.6 347.0,1462.9 347.5,1465.1 348.0,1463.2 348.5,1462.9 349.0,1464.3 349.5,1463.2 350.0,1464.0 350.5,1462.2 351.0,1462.8 351.5,1465.3 352.0,1465.4 352.5,1459.8 353.0,1464.2 353.5,1461.6 354.0,1463.1 354.5,1465.3 355.0,1465.8 355.5,1463.7 356.0,1463.4 356.5,1462.5 357.0,1467.0 357.5,1465.4 358.0,1464.2 358.5,1460.2 359.0,1469.6 359.5,1463.0 360.0,1465.3 360.5,1462.9 361.0,1465.1 361.5,1463.1 362.0,1460.2 362.5,1463.0 363.0,1462.8 363.5,1462.9 364.0,1465.6 364.5,1462.5 365.0,1464.2 365.5,1465.6 366.0,1463.8 366.5,1464.2 367.0,1461.8 367.5,1463.7 368.0,1464.8 368.5,1460.1 369.0,1461.2 369.5,1460.5 370.0,1462.0 370.5,1463.7 371.0,1464.4 371.5,1464.0 372.0,1461.1 372.5,1463.1 373.0,1466.8 373.5,1463.4 374.0,1466.6 374.5,1462.8 375.0,1466.0 375.5,1466.2 376.0,1462.8 376.5,1463.3 377.0,1467.0 377.5,1461.3 378.0,1457.9 378.5,1466.5 379.0,1458.6 379.5,1464.6 380.0,1464.1 380.5,1463.3 381.0,1466.3 381.5,1459.7 382.0,1461.6 382.5,1464.6 383.0,1463.4 383.5,1466.3 384.0,1463.5 384.5,1460.4 385.0,1466.7 385.5,1463.0 386.0,1461.0 386.5,1458.3 387.0,1456.9 387.5,1460.6 388.0,1460.6 388.5,1457.1 389.0,1458.5 389.5,1457.7 390.0,1453.8 390.5,1451.7 391.0,1454.4 391.5,1454.9 392.0,1452.4 392.5,1457.7 393.0,1452.6 393.5,1454.4 394.0,1445.6 394.5,1448.9 395.0,1449.6 395.5,1449.8 396.0,1454.7 396.5,1446.4 397.0,1443.5 397.5,1448.5 398.0,1444.5 398.5,1443.8 399.0,1448.6 399.5,1442.0 400.0,1440.4 400.5,1442.0 401.0,1441.7 401.5,1438.7 402.0,1443.2 402.5,1438.3 403.0,1435.0 403.5,1439.4 404.0,1433.1 404.5,1435.4 405.0,1438.4 405.5,1432.6 406.0,1433.7 406.5,1432.1 407.0,1437.1 407.5,1433.3 408.0,1439.0 408.5,1437.9 409.0,1441.6 409.5,1443.5 410.0,1442.5 410.5,1447.3 411.0,1451.3 411.5,1455.9 412.0,1452.7 412.5,1456.3 413.0,1461.4 413.5,1460.0 414.0,1463.1 414.5,1463.0 415.0,1462.6 415.5,1459.8 416.0,1459.9 416.5,1462.4 417.0,1458.8 417.5,1458.7 418.0,1460.2 418.5,1458.1 419.0,1461.3 419.5,1460.9 420.0,1459.5 420.5,1460.7 421.0,1458.7 421.5,1463.6 422.0,1457.2 422.5,1462.5 423.0,1461.0 423.5,1463.9 424.0,1459.2 424.5,1457.6 425.0,1458.1 425.5,1458.5 426.0,1464.0 426.5,1462.0 427.0,1461.1 427.5,1462.1 428.0,1457.0 428.5,1459.1 429.0,1459.4 429.5,1458.0 430.0,1461.3 430.5,1461.1 431.0,1460.8 431.5,1457.4 432.0,1457.6 432.5,1456.9 433.0,1455.6 433.5,1461.2 434.0,1459.2 434.5,1457.3 435.0,1460.7 435.5,1458.6 436.0,1454.8 436.5,1449.1 437.0,1443.8 437.5,1440.8 438.0,1435.9 438.5,1427.4 439.0,1432.8 439.5,1433.1 440.0,1432.7 440.5,1438.6 441.0,1441.2 441.5,1441.7 442.0,1442.2 442.5,1444.3 443.0,1447.0 443.5,1447.9 444.0,1454.9 444.5,1455.0 445.0,1454.4 445.5,1458.9 446.0,1461.8 446.5,1461.6 447.0,1461.0 447.5,1459.4 448.0,1461.6 448.5,1458.7 449.0,1455.4 449.5,1459.9 450.0,1456.7 450.5,1459.2 451.0,1462.7 451.5,1460.8 452.0,1462.6 452.5,1458.6 453.0,1463.3 453.5,1457.6 454.0,1459.5 454.5,1465.9 455.0,1459.3 455.5,1457.6 456.0,1463.4 456.5,1459.3 457.0,1466.0 457.5,1461.3 458.0,1466.0 458.5,1461.1 459.0,1466.6 459.5,1468.8 460.0,1461.7 460.5,1457.2 461.0,1464.1 461.5,1460.7 462.0,1462.4 462.5,1463.5 463.0,1461.3 463.5,1458.9 464.0,1465.7 464.5,1461.5 465.0,1462.0 465.5,1466.2 466.0,1459.0 466.5,1458.2 467.0,1465.1 467.5,1458.8 468.0,1462.8 468.5,1463.3 469.0,1459.4 469.5,1462.4 470.0,1462.2 470.5,1459.4 471.0,1459.9 471.5,1460.9 472.0,1466.4 472.5,1466.8 473.0,1460.4 473.5,1465.3 474.0,1462.8 474.5,1465.7 475.0,1463.6 475.5,1466.2 476.0,1459.3 476.5,1465.6 477.0,1463.5 477.5,1463.7 478.0,1460.4 478.5,1466.6 479.0,1463.4 479.5,1463.8 480.0,1462.1 480.5,1462.2 481.0,1464.5 481.5,1462.8 482.0,1464.3 482.5,1462.3 483.0,1463.7 483.5,1465.0 484.0,1463.5 484.5,1462.6 485.0,1458.1 485.5,1464.7 486.0,1462.8 486.5,1460.1 487.0,1468.5 487.5,1467.7 488.0,1466.4 488.5,1463.9 489.0,1457.8 489.5,1462.7 490.0,1460.8 490.5,1464.2 491.0,1469.6 491.5,1469.2 492.0,1461.3 492.5,1463.3 493.0,1466.9 493.5,1461.1 494.0,1467.5 494.5,1461.1 495.0,1460.4 495.5,1465.7 496.0,1466.5 496.5,1461.9 497.0,1466.5 497.5,1461.9 498.0,1466.8 498.5,1462.0 499.0,1463.7 499.5,1465.0 500.0,1466.1 500.5,1462.8 501.0,1467.1 501.5,1462.6 502.0,1462.2 502.5,1459.0 503.0,1462.9 503.5,1455.2 504.0,1459.3 504.5,1460.6 505.0,1453.9 505.5,1450.9 506.0,1452.9 506.5,1452.2 507.0,1447.6 507.5,1446.9 508.0,1443.7 508.5,1436.8 509.0,1437.2 509.5,1435.4 510.0,1432.6 510.5,1432.7 511.0,1429.6 511.5,1428.7 512.0,1430.7 512.5,1428.7 513.0,1422.4 513.5,1426.2 514.0,1426.8 514.5,1420.6 515.0,1424.5 515.5,1426.7 516.0,1422.1 516.5,1425.4 517.0,1424.0 517.5,1421.7 518.0,1422.3 518.5,1423.4 519.0,1422.5 519.5,1423.7 520.0,1420.6 520.5,1426.2 521.0,1426.9 521.5,1421.8 522.0,1429.1 522.5,1425.4 523.0,1426.9 523.5,1432.1 524.0,1436.8 524.5,1434.0 525.0,1435.2 525.5,1436.2 526.0,1440.0 526.5,1439.0 527.0,1440.3 527.5,1447.8 528.0,1443.6 528.5,1447.3 529.0,1449.7 529.5,1449.8 530.0,1445.3 530.5,1448.1 531.0,1455.3 531.5,1451.6 532.0,1452.8 532.5,1453.5 533.0,1455.0 533.5,1453.9 534.0,1444.9 534.5,1445.8 535.0,1441.1 535.5,1438.2 536.0,1435.1 536.5,1429.7 537.0,1428.6 537.5,1429.2 538.0,1427.9 538.5,1424.9 539.0,1419.5 539.5,1423.5 540.0,1425.1 540.5,1428.4 541.0,1430.2 541.5,1431.0 542.0,1437.8 542.5,1431.3 543.0,1438.7 543.5,1439.9 544.0,1437.0 544.5,1441.4 545.0,1443.5 545.5,1446.7 546.0,1450.7 546.5,1447.1 547.0,1445.3 547.5,1450.8 548.0,1446.0 548.5,1452.5 549.0,1452.1 549.5,1449.8 550.0,1451.5 550.5,1450.5 551.0,1454.4 551.5,1455.7 552.0,1458.2 552.5,1457.1 553.0,1457.2 553.5,1458.5 554.0,1454.8 554.5,1457.5 555.0,1461.1 555.5,1450.9 556.0,1459.2 556.5,1460.6 557.0,1455.1 557.5,1455.7 558.0,1461.6 558.5,1462.8 559.0,1462.1 559.5,1457.5 560.0,1461.3 560.5,1463.9 561.0,1463.5 561.5,1462.0 562.0,1469.6 562.5,1468.6 563.0,1472.4 563.5,1465.3 564.0,1467.6 564.5,1471.1 565.0,1475.1 565.5,1474.6 566.0,1482.6 566.5,1477.6 567.0,1482.1 567.5,1482.8 568.0,1482.0 568.5,1481.8 569.0,1480.3 569.5,1480.7 570.0,1480.4 570.5,1477.8 571.0,1488.1 571.5,1482.4 572.0,1472.9 572.5,1470.1 573.0,1471.1 573.5,1450.2 574.0,1459.6 574.5,1466.6 575.0,1458.7 575.5,1451.8 576.0,1456.8 576.5,1470.3 577.0,1454.3 577.5,1452.4 578.0,1434.5 578.5,1467.6 579.0,1445.7 579.5,1461.8 580.0,1457.1 580.5,1469.6 581.0,1469.5 581.5,1465.7 582.0,1476.9 582.5,1470.1 583.0,1479.1 583.5,1482.0 584.0,1481.0 584.5,1483.6 585.0,1481.2 585.5,1470.5 586.0,1489.9 586.5,1494.0 587.0,1482.2 587.5,1469.9 588.0,1475.1 588.5,1472.4 589.0,1472.2 589.5,1486.3 590.0,1479.3 590.5,1499.4 591.0,1483.4 591.5,1473.6 592.0,1489.1 592.5,1491.2 593.0,1483.8 593.5,1470.7 594.0,1461.9 594.5,1449.6 595.0,1456.5 595.5,1476.8 596.0,1481.1 596.5,1462.0 597.0,1454.5 597.5,1473.8 598.0,1461.5 598.5,1460.0 599.0,1460.5 599.5,1454.1 600.0,1460.1 600.5,1457.3 601.0,1456.5 601.5,1455.0 602.0,1454.7 602.5,1454.7 603.0,1453.2 603.5,1459.0 604.0,1455.3 604.5,1458.1 605.0,1454.5 605.5,1457.7 606.0,1457.1 606.5,1454.8 607.0,1451.2 607.5,1453.0 608.0,1453.6 608.5,1450.8 609.0,1456.3 609.5,1458.9 610.0,1454.8 610.5,1454.8 611.0,1451.5 611.5,1449.7 612.0,1458.3 612.5,1449.6 613.0,1452.1 613.5,1454.2 614.0,1455.6 614.5,1451.1 615.0,1457.0 615.5,1458.6 616.0,1457.5 616.5,1461.4 617.0,1457.4 617.5,1459.1 618.0,1458.4 618.5,1458.7 619.0,1462.4 619.5,1457.1 620.0,1463.0 620.5,1458.5 621.0,1464.5 621.5,1459.9 622.0,1462.9 622.5,1460.9 623.0,1462.6 623.5,1466.4 624.0,1463.9 624.5,1461.2 625.0,1459.9 625.5,1465.0 626.0,1466.6 626.5,1463.7 627.0,1462.3 627.5,1463.3 628.0,1463.9 628.5,1460.0 629.0,1459.8 629.5,1460.4 630.0,1464.5 630.5,1462.2 631.0,1462.9 631.5,1465.9 632.0,1460.5 632.5,1462.5 633.0,1463.9 633.5,1459.5 634.0,1461.1 634.5,1461.0 635.0,1460.3 635.5,1461.5 636.0,1466.3 636.5,1464.3 637.0,1461.1 637.5,1465.4 638.0,1463.5 638.5,1462.8 639.0,1460.4 639.5,1460.8 640.0,1461.8 640.5,1464.2 641.0,1461.4 641.5,1462.1 642.0,1463.5 642.5,1459.7 643.0,1461.5 643.5,1464.3 644.0,1459.3 644.5,1462.7 645.0,1460.4 645.5,1465.3 646.0,1461.5 646.5,1463.5 647.0,1463.3 647.5,1465.3 648.0,1455.5 648.5,1459.5 649.0,1457.2 649.5,1453.7 650.0,1455.2 650.5,1452.3 651.0,1455.3 651.5,1450.2 652.0,1450.2 652.5,1446.6 653.0,1446.0 653.5,1448.3 654.0,1448.0 654.5,1445.7 655.0,1441.3 655.5,1441.7 656.0,1441.5 656.5,1447.0 657.0,1448.3 657.5,1443.1 658.0,1442.1 658.5,1442.5 659.0,1439.9 659.5,1440.9 660.0,1443.0 660.5,1443.6 661.0,1442.4 661.5,1443.8 662.0,1445.5 662.5,1441.2 663.0,1448.5 663.5,1448.8 664.0,1452.8 664.5,1452.4 665.0,1451.4 665.5,1452.4 666.0,1455.3 666.5,1455.1 667.0,1457.1 667.5,1456.9 668.0,1455.5 668.5,1437.4 669.0,1436.2 669.5,1433.5 670.0,1439.6 670.5,1440.5 671.0,1436.3 671.5,1448.2 672.0,1444.4 672.5,1443.4 673.0,1447.0 673.5,1447.4 674.0,1451.4 674.5,1447.3 675.0,1457.3 675.5,1459.9 676.0,1457.9 676.5,1455.3 677.0,1459.0 677.5,1456.5 678.0,1460.4 678.5,1462.1 679.0,1456.1 679.5,1455.8 680.0,1456.1 680.5,1460.9 681.0,1462.8 681.5,1462.9 682.0,1460.8 682.5,1459.1 683.0,1459.4 683.5,1464.2 684.0,1460.4 684.5,1461.0 685.0,1461.0 685.5,1461.4 686.0,1462.0 686.5,1460.2 687.0,1461.5 687.5,1461.4 688.0,1463.7 688.5,1461.3 689.0,1462.6 689.5,1467.5 690.0,1461.5 690.5,1462.9 691.0,1459.8 691.5,1462.0 692.0,1461.5 692.5,1460.4 693.0,1460.6 693.5,1461.3 694.0,1464.2 694.5,1455.2 695.0,1463.0 695.5,1459.7 696.0,1457.0 696.5,1457.3 697.0,1456.5 697.5,1455.7 698.0,1454.2 698.5,1453.7 699.0,1444.6 699.5,1451.1 700.0,1445.3 700.5,1443.9 701.0,1441.5 701.5,1442.3 702.0,1442.4 702.5,1450.4 703.0,1453.2 703.5,1452.6 704.0,1455.9 704.5,1452.8 705.0,1455.2 705.5,1457.4 706.0,1459.0 706.5,1457.9 707.0,1459.1 707.5,1462.2 708.0,1459.2 708.5,1459.8 709.0,1460.2 709.5,1460.9 710.0,1456.1 710.5,1458.8 711.0,1458.4 711.5,1462.4 712.0,1463.6 712.5,1462.1 713.0,1461.1 713.5,1462.7 714.0,1462.6 714.5,1460.1 715.0,1461.9 715.5,1465.0 716.0,1463.7 716.5,1464.3 717.0,1462.3 717.5,1465.6 718.0,1463.2 718.5,1461.2 719.0,1462.8 719.5,1465.1 720.0,1464.4 720.5,1462.6 721.0,1461.8 721.5,1461.0 722.0,1463.4 722.5,1466.2 723.0,1459.7 723.5,1462.4 724.0,1462.2 724.5,1462.4 725.0,1465.7 725.5,1464.0 726.0,1462.6 726.5,1460.8 727.0,1463.1 727.5,1470.7 728.0,1463.9 728.5,1462.5 729.0,1460.3 729.5,1461.7 730.0,1457.5 730.5,1460.1 731.0,1460.3 731.5,1461.3 732.0,1466.9 732.5,1461.6 733.0,1462.2 733.5,1464.9 734.0,1462.3 734.5,1462.7 735.0,1464.8 735.5,1464.0 736.0,1464.4 736.5,1463.3 737.0,1464.8 737.5,1462.6 738.0,1468.5 738.5,1464.6 739.0,1468.0 739.5,1465.1 740.0,1462.8 740.5,1464.0 741.0,1464.3 741.5,1464.0 742.0,1460.4 742.5,1466.8 743.0,1462.1 743.5,1467.9 744.0,1465.5 744.5,1464.0 745.0,1466.5 745.5,1464.0 746.0,1462.8 746.5,1467.4 747.0,1464.8 747.5,1465.5 748.0,1469.3 748.5,1465.2 749.0,1466.7 749.5,1461.6 750.0,1466.9 750.5,1460.8 751.0,1466.2 751.5,1460.4 752.0,1463.7 752.5,1464.0 753.0,1463.2 753.5,1463.0 754.0,1461.9 754.5,1461.1 755.0,1466.1 755.5,1468.3 756.0,1471.7 756.5,1463.8 757.0,1458.6 757.5,1457.0 758.0,1455.1 758.5,1453.7 759.0,1451.9 759.5,1447.7 760.0,1442.7 760.5,1444.4 761.0,1435.1 761.5,1436.9 762.0,1430.4 762.5,1428.1 763.0,1424.1 763.5,1423.1 764.0,1420.9 764.5,1416.1 765.0,1415.6 765.5,1404.6 766.0,1408.9 766.5,1406.9 767.0,1404.1 767.5,1404.9 768.0,1407.8 768.5,1402.1 769.0,1400.3 769.5,1404.1 770.0,1400.1 770.5,1403.8 771.0,1401.8 771.5,1401.6 772.0,1402.1 772.5,1403.0 773.0,1406.5 773.5,1403.6 774.0,1407.5 774.5,1406.4 775.0,1406.4 775.5,1409.6 776.0,1412.7 776.5,1408.7 777.0,1413.4 777.5,1413.4 778.0,1414.5 778.5,1410.4 779.0,1413.4 779.5,1418.9 780.0,1412.4 780.5,1409.8 781.0,1411.0 781.5,1417.2 782.0,1416.2 782.5,1416.6 783.0,1417.1 783.5,1420.6 784.0,1424.7 784.5,1421.7 785.0,1423.5 785.5,1429.5 786.0,1428.6 786.5,1428.5 787.0,1430.6 787.5,1430.8 788.0,1431.5 788.5,1433.5 789.0,1436.4 789.5,1440.7 790.0,1437.4 790.5,1436.9 791.0,1436.9 791.5,1443.0 792.0,1444.4 792.5,1442.2 793.0,1443.6 793.5,1447.6 794.0,1448.1 794.5,1452.9 795.0,1451.1 795.5,1453.5 796.0,1451.0 796.5,1450.0 797.0,1450.0 797.5,1453.0 798.0,1449.0 798.5,1443.1 799.0,1440.9 799.5,1438.5 800.0,1433.4 800.5,1429.7 801.0,1426.1 801.5,1426.9 802.0,1421.8 802.5,1424.5 803.0,1427.7 803.5,1431.1 804.0,1429.6 804.5,1433.3 805.0,1428.0 805.5,1435.2 806.0,1437.4 806.5,1439.8 807.0,1436.3 807.5,1445.0 808.0,1445.2 808.5,1448.6 809.0,1449.0 809.5,1450.8 810.0,1450.1 810.5,1458.1 811.0,1456.7 811.5,1454.8 812.0,1461.9 812.5,1461.3 813.0,1463.2 813.5,1467.5 814.0,1461.7 814.5,1458.9 815.0,1463.0 815.5,1466.5 816.0,1461.7 816.5,1462.4 817.0,1460.4 817.5,1460.8 818.0,1463.8 818.5,1462.5 819.0,1467.9 819.5,1461.2 820.0,1463.6 820.5,1462.4 821.0,1463.5 821.5,1467.6 822.0,1468.3 822.5,1471.0 823.0,1474.8 823.5,1471.2 824.0,1471.4 824.5,1475.4 825.0,1472.1 825.5,1474.5 826.0,1474.6 826.5,1478.5 827.0,1481.8 827.5,1476.5 828.0,1477.5 828.5,1479.9 829.0,1481.4 829.5,1481.7 830.0,1482.0 830.5,1486.0 831.0,1486.1 831.5,1483.1 832.0,1485.4 832.5,1479.7 833.0,1475.2 833.5,1482.1 834.0,1476.6 834.5,1466.8 835.0,1488.9 835.5,1488.6 836.0,1476.5 836.5,1466.0 837.0,1478.1 837.5,1470.7 838.0,1480.8 838.5,1472.1 839.0,1484.1 839.5,1474.8 840.0,1477.4 840.5,1477.9 841.0,1471.0 841.5,1473.8 842.0,1486.7 842.5,1476.1 843.0,1495.9 843.5,1476.2 844.0,1463.5 844.5,1480.6 845.0,1481.2 845.5,1484.4 846.0,1478.6 846.5,1488.1 847.0,1479.5 847.5,1486.5 848.0,1487.5 848.5,1483.3 849.0,1484.6 849.5,1497.0 850.0,1468.4 850.5,1482.7 851.0,1496.4 851.5,1475.5 852.0,1483.7 852.5,1480.2 853.0,1474.8 853.5,1485.1 854.0,1498.7 854.5,1475.7 855.0,1471.5 855.5,1464.1 856.0,1475.5 856.5,1470.2 857.0,1463.5 857.5,1468.4 858.0,1467.4 858.5,1463.1 859.0,1472.0 859.5,1465.7 860.0,1464.9 860.5,1460.9 861.0,1464.4 861.5,1461.7 862.0,1465.2 862.5,1461.9 863.0,1462.4 863.5,1462.2 864.0,1463.7 864.5,1465.1 865.0,1463.4 865.5,1463.8 866.0,1460.2 866.5,1460.5 867.0,1465.5 867.5,1461.1 868.0,1463.8 868.5,1461.5 869.0,1463.8 869.5,1466.1 870.0,1460.2 870.5,1461.6 871.0,1465.6 871.5,1467.1 872.0,1463.9 872.5,1465.5 873.0,1463.5 873.5,1461.2 874.0,1459.1 874.5,1463.5 875.0,1459.4 875.5,1459.9 876.0,1463.7 876.5,1466.6 877.0,1460.6 877.5,1461.2 878.0,1457.0 878.5,1459.2 879.0,1460.8 879.5,1458.6 880.0,1465.1 880.5,1462.2 881.0,1463.3 881.5,1458.5 882.0,1461.3 882.5,1469.9 883.0,1459.4 883.5,1464.8 884.0,1460.8 884.5,1463.8 885.0,1462.0 885.5,1461.1 886.0,1462.2 886.5,1464.9 887.0,1459.3 887.5,1461.7 888.0,1462.6 888.5,1460.9 889.0,1463.9 889.5,1458.1 890.0,1462.1 890.5,1461.7 891.0,1461.8 891.5,1464.8 892.0,1465.4 892.5,1462.1 893.0,1461.8 893.5,1459.4 894.0,1461.5 894.5,1465.2 895.0,1461.3 895.5,1460.6 896.0,1460.2 896.5,1461.8 897.0,1465.5 897.5,1459.8 898.0,1464.3 898.5,1461.2 899.0,1466.3 899.5,1460.8 900.0,1464.5 900.5,1459.8 901.0,1457.9 901.5,1459.1 902.0,1464.5 902.5,1463.7 903.0,1463.3 903.5,1459.4 904.0,1460.0 904.5,1460.2 905.0,1459.6 905.5,1458.7 906.0,1458.3 906.5,1455.6 907.0,1459.6 907.5,1458.7 908.0,1463.4 908.5,1461.9 909.0,1460.2 909.5,1461.1 910.0,1457.6 910.5,1455.4 911.0,1458.7 911.5,1458.6 912.0,1458.4 912.5,1456.5 913.0,1457.8 913.5,1455.1 914.0,1455.1 914.5,1454.7 915.0,1453.3 915.5,1454.7 916.0,1454.1 916.5,1449.9 917.0,1453.9 917.5,1451.6 918.0,1453.0 918.5,1453.9 919.0,1453.5 919.5,1454.1 920.0,1451.7 920.5,1452.9 921.0,1452.1 921.5,1447.8 922.0,1450.7 922.5,1447.2 923.0,1448.8 923.5,1446.8 924.0,1449.8 924.5,1447.5 925.0,1441.1 925.5,1444.9 926.0,1443.9 926.5,1445.3 927.0,1443.3 927.5,1447.6 928.0,1446.3 928.5,1442.8 929.0,1441.3 929.5,1443.7 930.0,1442.7 930.5,1442.6 931.0,1441.6 931.5,1443.5 932.0,1443.5 932.5,1439.7 933.0,1450.7 933.5,1455.9 934.0,1462.2 934.5,1463.2 935.0,1460.3 935.5,1462.0 936.0,1461.3 936.5,1463.6 937.0,1463.0 937.5,1460.2 938.0,1460.6 938.5,1462.7 939.0,1460.9 939.5,1461.4 940.0,1461.6 940.5,1458.2 941.0,1463.1 941.5,1461.3 942.0,1461.4 942.5,1463.0 943.0,1465.4 943.5,1461.0 944.0,1462.2 944.5,1462.8 945.0,1463.0 945.5,1463.1 946.0,1465.4 946.5,1462.6 947.0,1467.7 947.5,1463.6 948.0,1467.2 948.5,1464.6 949.0,1462.2 949.5,1464.6 950.0,1465.2 950.5,1462.6 951.0,1464.2 951.5,1464.2 952.0,1463.9 952.5,1459.1 953.0,1460.8 953.5,1461.0 954.0,1464.7 954.5,1460.1 955.0,1464.4 955.5,1459.9 956.0,1463.4 956.5,1455.8 957.0,1464.2 957.5,1457.0 958.0,1457.7 958.5,1463.5 959.0,1459.6 959.5,1455.3 960.0,1455.8 960.5,1462.1 961.0,1459.1 961.5,1460.4 962.0,1459.8 962.5,1457.5 963.0,1450.2 963.5,1453.0 964.0,1452.4 964.5,1451.3 965.0,1447.6 965.5,1449.5 966.0,1455.2 966.5,1451.5 967.0,1459.5 967.5,1459.5 968.0,1459.7 968.5,1456.9 969.0,1462.0 969.5,1460.7 970.0,1458.4 970.5,1460.3 971.0,1459.3 971.5,1459.7 972.0,1461.7 972.5,1461.0 973.0,1460.6 973.5,1463.0 974.0,1459.3 974.5,1468.1 975.0,1465.7 975.5,1460.3 976.0,1462.9 976.5,1465.7 977.0,1463.4 977.5,1461.9 978.0,1466.1 978.5,1463.1 979.0,1465.4 979.5,1465.6 980.0,1465.7 980.5,1462.9 981.0,1468.2 981.5,1466.4 982.0,1463.9 982.5,1468.4 983.0,1469.3 983.5,1464.2 984.0,1465.5 984.5,1465.9 985.0,1465.2 985.5,1467.8 986.0,1458.6 986.5,1467.9 987.0,1466.5 987.5,1468.9 988.0,1466.5 988.5,1461.9 989.0,1465.5 989.5,1464.1 990.0,1466.7 990.5,1461.2 991.0,1465.1 991.5,1468.5 992.0,1463.7 992.5,1466.4 993.0,1464.1 993.5,1465.2 994.0,1464.9 994.5,1465.2 995.0,1467.7 995.5,1469.1 996.0,1463.2 996.5,1465.8 997.0,1464.8 997.5,1466.6 998.0,1470.3 998.5,1468.6 999.0,1462.2 999.5,1467.4 1000.0,1466.4 1000.5,1469.0 1001.0,1466.8 1001.5,1466.4 1002.0,1466.0 1002.5,1465.7 1003.0,1467.0 1003.5,1466.9 1004.0,1465.6 1004.5,1464.8 1005.0,1465.9 1005.5,1461.4 1006.0,1465.0 1006.5,1465.1 1007.0,1467.1 1007.5,1463.1 1008.0,1468.0 1008.5,1469.4 1009.0,1467.8 1009.5,1461.6 1010.0,1463.3 1010.5,1455.0 1011.0,1455.6 1011.5,1456.7 1012.0,1451.1 1012.5,1442.9 1013.0,1445.8 1013.5,1443.5 1014.0,1435.7 1014.5,1430.5 1015.0,1427.8 1015.5,1427.6 1016.0,1422.9 1016.5,1419.2 1017.0,1413.8 1017.5,1409.4 1018.0,1412.7 1018.5,1407.4 1019.0,1409.2 1019.5,1405.0 1020.0,1406.6 1020.5,1404.1 1021.0,1399.3 1021.5,1400.3 1022.0,1394.1 1022.5,1396.9 1023.0,1394.9 1023.5,1394.7 1024.0,1394.7 1024.5,1393.0 1025.0,1390.2 1025.5,1384.8 1026.0,1394.5 1026.5,1390.4 1027.0,1390.9 1027.5,1392.1 1028.0,1388.7 1028.5,1391.7 1029.0,1390.0 1029.5,1387.1 1030.0,1395.2 1030.5,1390.0 1031.0,1389.8 1031.5,1393.3 1032.0,1390.1 1032.5,1390.7 1033.0,1392.6 1033.5,1389.2 1034.0,1395.4 1034.5,1391.0 1035.0,1393.3 1035.5,1395.6 1036.0,1393.9 1036.5,1394.6 1037.0,1392.2 1037.5,1398.0 1038.0,1395.3 1038.5,1396.2 1039.0,1391.7 1039.5,1398.5 1040.0,1393.7 1040.5,1402.1 1041.0,1398.8 1041.5,1401.6 1042.0,1402.1 1042.5,1406.4 1043.0,1411.0 1043.5,1411.8 1044.0,1406.7 1044.5,1410.4 1045.0,1414.1 1045.5,1411.1 1046.0,1416.1 1046.5,1417.2 1047.0,1419.5 1047.5,1414.9 1048.0,1414.2 1048.5,1422.3 1049.0,1420.4 1049.5,1419.9 1050.0,1418.4 1050.5,1430.3 1051.0,1425.3 1051.5,1425.3 1052.0,1431.5 1052.5,1428.1 1053.0,1429.7 1053.5,1430.5 1054.0,1435.7 1054.5,1435.3 1055.0,1439.8 1055.5,1439.0 1056.0,1442.1 1056.5,1445.4 1057.0,1449.9 1057.5,1444.7 1058.0,1448.0 1058.5,1450.6 1059.0,1456.3 1059.5,1457.6 1060.0,1454.8 1060.5,1459.1 1061.0,1464.9 1061.5,1460.4 1062.0,1457.8 1062.5,1456.2 1063.0,1455.6 1063.5,1448.0 1064.0,1447.2 1064.5,1446.7 1065.0,1447.6 1065.5,1441.5 1066.0,1436.5 1066.5,1430.7 1067.0,1430.0 1067.5,1422.8 1068.0,1428.1 1068.5,1433.2 1069.0,1441.1 1069.5,1440.2 1070.0,1443.9 1070.5,1443.0 1071.0,1444.1 1071.5,1443.9 1072.0,1449.5 1072.5,1454.5 1073.0,1448.4 1073.5,1455.5 1074.0,1459.1 1074.5,1461.4"/>
<polyline fill="none" stroke="#0000ff" stroke-width="1" points="163.5,1479.0 163.9,1464.3 164.3,1466.4 164.7,1475.1 165.1,1481.0 165.5,1492.7 165.9,1498.9 166.3,1495.8 166.7,1485.6 167.1,1478.2 167.5,1473.0 167.9,1465.6 168.3,1470.1 168.7,1480.4 169.1,1480.6 169.5,1487.8 169.9,1476.7 170.3,1464.5 170.7,1449.9 171.1,1440.8 171.5,1445.6 171.9,1440.4 172.3,1444.7 172.7,1441.4 173.1,1447.9 173.5,1460.8 173.9,1474.5 174.3,1480.3 174.7,1476.0 175.1,1480.5 175.5,1473.6 175.9,1467.3 176.3,1466.1 176.7,1461.0 177.1,1442.0 177.5,1435.7 177.9,1433.0 178.3,1434.1 178.7,1450.9 179.1,1458.1 179.5,1458.8 179.9,1471.9 180.3,1487.8 180.7,1493.1 181.1,1499.1 181.5,1489.4 181.9,1471.5 182.3,1460.8 182.7,1444.1 183.1,1442.6 183.5,1437.8 183.9,1429.0 184.3,1437.2 184.7,1435.1 185.1,1447.8 185.5,1465.7 185.9,1476.8 186.3,1485.7 186.7,1483.9 187.1,1491.4 187.5,1484.8 187.9,1478.5 188.3,1467.5 188.7,1452.1 189.1,1431.5 189.5,1427.8 189.9,1422.2 190.3,1439.7 190.7,1445.1 191.1,1446.7 191.5,1460.4 191.9,1471.5 192.3,1485.5 192.7,1494.5 193.1,1483.9 193.5,1476.5 193.9,1463.5 194.3,1460.1 194.7,1453.2 195.1,1443.2 195.5,1431.1 195.9,1426.9 196.3,1430.0 196.7,1445.3 197.1,1460.2 197.5,1467.5 197.9,1486.8 198.3,1483.7 198.7,1490.4 199.1,1490.4 199.5,1490.9 199.9,1472.3 200.3,1454.3 200.7,1434.6 201.1,1435.3 201.5,1433.7 201.9,1438.4 202.3,1434.6 202.7,1436.6 203.1,1448.1 203.5,1464.1 203.9,1479.7 204.3,1494.3 204.7,1490.1 205.1,1481.3 205.5,1474.4 205.9,1470.3 206.3,1460.8 206.7,1447.0 207.1,1427.1 207.5,1425.6 207.9,1428.5 208.3,1439.4 208.7,1444.1 209.1,1458.6 209.5,1468.6 209.9,1477.0 210.3,1487.4 210.7,1498.6 211.1,1496.7 211.5,1485.6 211.9,1462.6 212.3,1447.7 212.7,1438.1 213.1,1431.0 213.5,1430.1 213.9,1425.8 214.3,1431.4 214.7,1439.6 215.1,1459.5 215.5,1476.6 215.9,1488.7 216.3,1490.7 216.7,1488.3 217.1,1482.1 217.5,1485.1 217.9,1470.8 218.3,1455.7 218.7,1436.5 219.1,1423.2 219.5,1421.4 219.9,1431.5 220.3,1440.3 220.7,1445.6 221.1,1456.9 221.5,1468.5 221.9,1486.8 222.3,1496.2 222.7,1499.7 223.1,1492.7 223.5,1478.7 223.9,1458.8 224.3,1455.4 224.7,1438.0 225.1,1436.4 225.5,1418.8 225.9,1418.9 226.3,1428.2 226.7,1449.9 227.1,1467.8 227.5,1483.9 227.9,1490.6 228.3,1486.6 228.7,1493.5 229.1,1489.1 229.5,1480.5 229.9,1463.2 230.3,1446.8 230.7,1427.0 231.1,1428.5 231.5,1423.2 231.9,1424.4 232.3,1441.5 232.7,1441.8 233.1,1462.2 233.5,1480.3 233.9,1504.0 234.3,1491.6 234.7,1490.9 235.1,1484.2 235.5,1474.9 235.9,1459.1 236.3,1449.0 236.7,1433.1 237.1,1423.4 237.5,1415.8 237.9,1421.3 238.3,1441.7 238.7,1453.8 239.1,1461.0 239.5,1474.5 239.9,1487.9 240.3,1496.8 240.7,1496.9 241.1,1493.5 241.5,1476.6 241.9,1461.8 242.3,1442.8 242.7,1442.6 243.1,1442.0 243.5,1451.0 243.9,1455.6 244.3,1451.9 244.7,1466.8 245.1,1473.8 245.5,1479.0 245.9,1480.1 246.3,1472.0 246.7,1473.9 247.1,1472.1 247.5,1475.5 247.9,1469.8 248.3,1464.3 248.7,1456.7 249.1,1458.2 249.5,1456.5 249.9,1466.9 250.3,1465.7 250.7,1471.2 251.1,1468.5 251.5,1470.5 251.9,1472.0 252.3,1483.5 252.7,1479.1 253.1,1473.1 253.5,1462.4 253.9,1464.1 254.3,1462.0 254.7,1469.4 255.1,1458.2 255.5,1457.5 255.9,1459.6 256.3,1460.0 256.7,1470.9 257.1,1478.0 257.5,1470.5 257.9,1471.7 258.3,1473.0 258.7,1472.2 259.1,1474.6 259.5,1472.6 259.9,1470.9 260.3,1454.7 260.7,1457.2 261.1,1459.9 261.5,1468.5 261.9,1468.1 262.3,1465.0 262.7,1462.4 263.1,1461.3 263.5,1475.6 263.9,1480.4 264.3,1474.5 264.7,1466.7 265.1,1464.0 265.5,1468.4 265.9,1474.4 266.3,1475.5 266.7,1464.1 267.1,1459.8 267.5,1455.2 267.9,1457.3 268.3,1471.3 268.7,1473.5 269.1,1470.5 269.5,1475.5 269.9,1473.4 270.3,1474.3 270.7,1472.4 271.1,1477.5 271.5,1458.8 271.9,1441.1 272.3,1438.1 272.7,1432.3 273.1,1425.9 273.5,1430.8 273.9,1436.4 274.3,1442.8 274.7,1455.2 275.1,1477.5 275.5,1493.9 275.9,1489.5 276.3,1492.3 276.7,1485.3 277.1,1476.5 277.5,1473.7 277.9,1473.9 278.3,1481.5 278.7,1493.8 279.1,1497.5 279.5,1488.6 279.9,1473.2 280.3,1456.5 280.7,1447.3 281.1,1436.9 281.5,1429.9 281.9,1424.3 282.3,1410.2 282.7,1397.9 283.1,1388.3 283.5,1382.9 283.9,1381.1 284.3,1381.6 284.7,1383.6 285.1,1386.1 285.5,1387.9 285.9,1388.4 286.3,1388.4 286.7,1386.6 287.1,1385.9 287.5,1389.6 287.9,1398.9 288.3,1411.9 288.7,1427.5 289.1,1440.5 289.5,1455.5 289.9,1465.0 290.3,1480.1 290.7,1495.8 291.1,1498.9 291.5,1490.8 291.9,1478.7 292.3,1469.2 292.7,1467.1 293.1,1475.4 293.5,1490.7 293.9,1496.4 294.3,1489.3 294.7,1473.6 295.1,1465.9 295.5,1453.2 295.9,1442.3 296.3,1438.5 296.7,1433.0 297.1,1420.7 297.5,1437.2 297.9,1445.8 298.3,1461.3 298.7,1472.5 299.1,1485.0 299.5,1479.6 299.9,1485.1 300.3,1490.2 300.7,1490.9 301.1,1490.2 301.5,1495.3 301.9,1501.0 302.3,1497.8 302.7,1483.8 303.1,1468.7 303.5,1456.8 303.9,1451.0 304.3,1451.0 304.7,1469.8 305.1,1482.9 305.5,1495.8 305.9,1495.9 306.3,1487.2 306.7,1472.8 307.1,1468.7 307.5,1468.5 307.9,1460.9 308.3,1463.4 308.7,1479.0 309.1,1497.4 309.5,1504.8 309.9,1499.6 310.3,1490.7 310.7,1484.8 311.1,1483.1 311.5,1488.1 311.9,1492.4 312.3,1488.8 312.7,1472.0 313.1,1451.0 313.5,1429.4 313.9,1410.5 314.3,1397.3 314.7,1390.0 315.1,1388.0 315.5,1392.4 315.9,1406.5 316.3,1428.6 316.7,1454.3 317.1,1475.5 317.5,1482.2 317.9,1487.2 318.3,1481.3 318.7,1479.5 319.1,1467.1 319.5,1453.1 319.9,1437.0 320.3,1428.5 320.7,1421.6 321.1,1429.5 321.5,1436.3 321.9,1452.2 322.3,1457.3 322.7,1471.2 323.1,1478.8 323.5,1505.3 323.9,1505.6 324.3,1482.9 324.7,1472.2 325.1,1456.7 325.5,1448.8 325.9,1443.1 326.3,1429.7 326.7,1417.3 327.1,1429.2 327.5,1435.4 327.9,1448.4 328.3,1465.5 328.7,1484.1 329.1,1479.1 329.5,1484.0 329.9,1486.8 330.3,1485.2 330.7,1483.1 331.1,1461.8 331.5,1446.4 331.9,1437.9 332.3,1433.4 332.7,1439.6 333.1,1447.3 333.5,1444.5 333.9,1448.4 334.3,1461.7 334.7,1473.7 335.1,1482.2 335.5,1494.1 335.9,1481.9 336.3,1473.2 336.7,1463.3 337.1,1465.5 337.5,1456.3 337.9,1437.8 338.3,1428.3 338.7,1426.1 339.1,1439.4 339.5,1448.5 339.9,1463.1 340.3,1468.5 340.7,1470.8 341.1,1469.8 341.5,1474.9 341.9,1479.1 342.3,1480.5 342.7,1473.9 343.1,1460.9 343.5,1462.8 343.9,1462.1 344.3,1464.1 344.7,1465.8 345.1,1460.9 345.5,1458.8 345.9,1461.6 346.3,1474.1 346.7,1478.7 347.1,1476.7 347.5,1476.4 347.9,1470.4 348.3,1472.0 348.7,1473.6 349.1,1475.5 349.5,1463.3 349.9,1451.2 350.3,1433.5 350.7,1436.6 351.1,1437.7 351.5,1449.2 351.9,1454.8 352.3,1466.5 352.7,1479.4 353.1,1498.0 353.5,1499.8 353.9,1491.0 354.3,1480.6 354.7,1456.6 355.1,1451.8 355.5,1438.1 355.9,1430.1 356.3,1424.1 356.7,1420.8 357.1,1431.5 357.5,1442.8 357.9,1458.6 358.3,1478.4 358.7,1488.6 359.1,1491.2 359.5,1492.1 359.9,1489.0 360.3,1488.2 360.7,1469.3 361.1,1453.8 361.5,1429.7 361.9,1421.6 362.3,1421.2 362.7,1425.2 363.1,1433.9 363.5,1444.3 363.9,1460.1 364.3,1470.4 364.7,1490.4 365.1,1503.7 365.5,1498.1 365.9,1485.0 366.3,1476.2 366.7,1464.3 367.1,1450.1 367.5,1443.1 367.9,1431.6 368.3,1421.1 368.7,1425.3 369.1,1439.1 369.5,1448.5 369.9,1465.3 370.3,1479.5 370.7,1480.8 371.1,1490.7 371.5,1495.5 371.9,1492.3 372.3,1482.1 372.7,1465.7 373.1,1445.7 373.5,1434.0 373.9,1432.1 374.3,1429.2 374.7,1428.4 375.1,1433.6 375.5,1443.7 375.9,1464.5 376.3,1477.7 376.7,1480.5 377.1,1480.1 377.5,1475.2 377.9,1474.5 378.3,1470.9 378.7,1464.9 379.1,1472.7 379.5,1464.4 379.9,1457.2 380.3,1455.1 380.7,1467.6 381.1,1471.9 381.5,1472.3 381.9,1470.1 382.3,1468.3 382.7,1469.5 383.1,1474.4 383.5,1478.7 383.9,1475.3 384.3,1468.1 384.7,1464.8 385.1,1466.7 385.5,1469.8 385.9,1464.2 386.3,1460.8 386.7,1457.3 387.1,1458.6 387.5,1465.8 387.9,1473.7 388.3,1472.8 388.7,1475.4 389.1,1475.7 389.5,1471.8 389.9,1478.8 390.3,1478.0 390.7,1463.1 391.1,1449.1 391.5,1431.6 391.9,1431.9 392.3,1434.4 392.7,1442.6 393.1,1442.6 393.5,1456.7 393.9,1465.3 394.3,1472.9 394.7,1483.8 395.1,1489.8 395.5,1482.0 395.9,1471.2 396.3,1465.8 396.7,1448.0 397.1,1452.7 397.5,1445.7 397.9,1431.4 398.3,1434.5 398.7,1435.0 399.1,1447.0 399.5,1464.8 399.9,1470.4 400.3,1473.1 400.7,1478.5 401.1,1480.6 401.5,1480.9 401.9,1481.1 402.3,1460.5 402.7,1454.8 403.1,1437.8 403.5,1438.5 403.9,1440.4 404.3,1445.9 404.7,1445.1 405.1,1449.4 405.5,1458.2 405.9,1469.6 406.3,1477.7 406.7,1495.7 407.1,1483.0 407.5,1478.1 407.9,1469.6 408.3,1468.8 408.7,1459.0 409.1,1444.8 409.5,1434.8 409.9,1430.5 410.3,1433.0 410.7,1443.6 411.1,1456.9 411.5,1459.9 411.9,1468.1 412.3,1477.6 412.7,1486.9 413.1,1496.6 413.5,1488.7 413.9,1482.1 414.3,1471.0 414.7,1465.5 415.1,1472.3 415.5,1489.3 415.9,1497.6 416.3,1494.2 416.7,1480.6 417.1,1471.6 417.5,1471.3 417.9,1482.1 418.3,1487.3 418.7,1491.8 419.1,1482.5 419.5,1485.2 419.9,1475.8 420.3,1467.2 420.7,1451.8 421.1,1433.1 421.5,1426.0 421.9,1418.9 422.3,1435.3 422.7,1442.8 423.1,1453.0 423.5,1466.1 423.9,1469.6 424.3,1484.8 424.7,1496.0 425.1,1508.2 425.5,1491.3 425.9,1469.6 426.3,1456.3 426.7,1445.3 427.1,1436.0 427.5,1422.9 427.9,1424.6 428.3,1417.2 428.7,1434.7 429.1,1458.4 429.5,1473.5 429.9,1481.0 430.3,1488.1 430.7,1492.7 431.1,1492.9 431.5,1485.3 431.9,1484.6 432.3,1476.5 432.7,1477.2 433.1,1490.0 433.5,1496.6 433.9,1490.5 434.3,1473.4 434.7,1461.2 435.1,1461.2 435.5,1467.1 435.9,1482.7 436.3,1495.0 436.7,1504.1 437.1,1491.9 437.5,1479.8 437.9,1466.6 438.3,1461.1 438.7,1444.0 439.1,1437.7 439.5,1425.3 439.9,1425.2 440.3,1435.6 440.7,1449.9 441.1,1467.2 441.5,1458.9 441.9,1472.5 442.3,1472.4 442.7,1476.8 443.1,1480.5 443.5,1476.1 443.9,1472.4 444.3,1460.2 444.7,1458.1 445.1,1463.7 445.5,1467.3 445.9,1462.0 446.3,1453.8 446.7,1458.7 447.1,1461.3 447.5,1473.1 447.9,1481.2 448.3,1474.3 448.7,1474.1 449.1,1463.6 449.5,1472.6 449.9,1477.6 450.3,1471.2 450.7,1462.8 451.1,1454.7 451.5,1454.9 451.9,1464.0 452.3,1463.4 452.7,1472.2 453.1,1461.6 453.5,1467.5 453.9,1469.9 454.3,1477.1 454.7,1476.2 455.1,1472.9 455.5,1469.3 455.9,1463.0 456.3,1465.6 456.7,1462.4 457.1,1473.7 457.5,1459.5 457.9,1456.9 458.3,1459.3 458.7,1461.0 459.1,1469.6 459.5,1471.3 459.9,1470.6 460.3,1470.9 460.7,1469.4 461.1,1477.5 461.5,1474.4 461.9,1477.4 462.3,1467.5 462.7,1462.4 463.1,1458.7 463.5,1459.1 463.9,1468.4 464.3,1466.4 464.7,1467.8 465.1,1462.0 465.5,1466.2 465.9,1476.1 466.3,1481.1 466.7,1480.3 467.1,1469.3 467.5,1463.2 467.9,1467.3 468.3,1469.3 468.7,1468.5 469.1,1461.1 469.5,1439.1 469.9,1439.4 470.3,1439.4 470.7,1451.2 471.1,1465.2 471.5,1474.7 471.9,1485.1 472.3,1486.3 472.7,1497.5 473.1,1490.9 473.5,1478.9 473.9,1458.0 474.3,1436.3 474.7,1428.1 475.1,1419.7 475.5,1425.6 475.9,1432.7 476.3,1434.9 476.7,1444.0 477.1,1461.0 477.5,1477.4 477.9,1495.2 478.3,1491.0 478.7,1482.8 479.1,1478.5 479.5,1472.6 479.9,1463.1 480.3,1453.5 480.7,1430.7 481.1,1417.4 481.5,1421.3 481.9,1427.8 482.3,1443.1 482.7,1455.3 483.1,1463.9 483.5,1468.7 483.9,1481.1 484.3,1481.3 484.7,1482.9 485.1,1471.9 485.5,1462.4 485.9,1458.0 486.3,1467.9 486.7,1466.7 487.1,1466.6 487.5,1458.9 487.9,1462.8 488.3,1462.3 488.7,1469.3 489.1,1474.8 489.5,1479.0 489.9,1476.9 490.3,1467.1 490.7,1469.4 491.1,1475.9 491.5,1470.9 491.9,1462.0 492.3,1447.9 492.7,1431.5 493.1,1435.1 493.5,1437.1 493.9,1439.8 494.3,1448.6 494.7,1452.2 495.1,1467.1 495.5,1481.7 495.9,1491.8 496.3,1493.0 496.7,1486.5 497.1,1475.6 497.5,1465.8 497.9,1455.6 498.3,1447.7 498.7,1437.7 499.1,1428.9 499.5,1426.1 499.9,1425.9 500.3,1446.2 500.7,1464.4 501.1,1474.3 501.5,1481.5 501.9,1481.1 502.3,1488.6 502.7,1491.2 503.1,1477.3 503.5,1472.1 503.9,1450.7 504.3,1439.7 504.7,1427.8 505.1,1426.0 505.5,1432.8 505.9,1435.8 506.3,1444.5 506.7,1454.2 507.1,1477.4 507.5,1487.9 507.9,1487.6 508.3,1487.1 508.7,1476.8 509.1,1471.9 509.5,1465.6 509.9,1454.0 510.3,1446.8 510.7,1431.8 511.1,1419.4 511.5,1427.6 511.9,1435.0 512.3,1453.5 512.7,1457.1 513.1,1461.4 513.5,1456.9 513.9,1441.8 514.3,1415.7 514.7,1394.2 515.1,1389.7 515.5,1398.9 515.9,1410.9 516.3,1421.6 516.7,1428.0 517.1,1428.5 517.5,1434.2 517.9,1435.0 518.3,1445.0 518.7,1463.7 519.1,1481.0 519.5,1487.7 519.9,1480.2 520.3,1491.0 520.7,1487.7 521.1,1476.2 521.5,1465.6 521.9,1455.9 522.3,1431.2 522.7,1431.6 523.1,1424.4 523.5,1442.0 523.9,1448.3 524.3,1455.0 524.7,1464.7 525.1,1471.8 525.5,1483.7 525.9,1495.1 526.3,1496.6 526.7,1479.5 527.1,1465.7 527.5,1451.5 527.9,1444.7 528.3,1442.8 528.7,1432.4 529.1,1421.0 529.5,1425.9 529.9,1440.5 530.3,1457.8 530.7,1476.3 531.1,1487.4 531.5,1486.2 531.9,1484.9 532.3,1499.2 532.7,1486.8 533.1,1474.2 533.5,1455.7 533.9,1438.5 534.3,1430.7 534.7,1421.8 535.1,1430.2 535.5,1438.4 535.9,1442.9 536.3,1451.5 536.7,1464.7 537.1,1481.1 537.5,1488.2 537.9,1501.3 538.3,1491.4 538.7,1484.1 539.1,1466.2 539.5,1469.8 539.9,1470.3 540.3,1483.0 540.7,1495.2 541.1,1498.9 541.5,1489.5 541.9,1480.5 542.3,1475.7 542.7,1476.0 543.1,1475.1 543.5,1485.8 543.9,1490.8 544.3,1497.8 544.7,1481.1 545.1,1467.0 545.5,1453.5 545.9,1443.7 546.3,1443.3 546.7,1449.4 547.1,1459.1 547.5,1459.5 547.9,1455.4 548.3,1471.7 548.7,1476.3 549.1,1478.4 549.5,1478.1 549.9,1467.2 550.3,1465.2 550.7,1469.1 551.1,1474.6 551.5,1471.4 551.9,1465.5 552.3,1461.0 552.7,1458.1 553.1,1459.0 553.5,1465.7 553.9,1469.8 554.3,1463.5 554.7,1469.3 555.1,1470.2 555.5,1473.7 555.9,1477.0 556.3,1480.5 556.7,1469.9 557.1,1464.8 557.5,1465.2 557.9,1464.5 558.3,1468.5 558.7,1460.6 559.1,1457.2 559.5,1454.9 559.9,1457.7 560.3,1460.0 560.7,1475.4 561.1,1484.3 561.5,1485.8 561.9,1478.4 562.3,1489.5 562.7,1483.2 563.1,1455.8 563.5,1431.2 563.9,1406.5 564.3,1392.1 564.7,1384.6 565.1,1382.7 565.5,1390.6 565.9,1406.6 566.3,1431.9 566.7,1459.5 567.1,1485.2 567.5,1499.3 567.9,1500.7 568.3,1486.1 568.7,1472.2 569.1,1458.4 569.5,1448.6 569.9,1437.6 570.3,1412.5 570.7,1408.6 571.1,1405.0 571.5,1402.8 571.9,1408.6 572.3,1428.5 572.7,1457.4 573.1,1474.5 573.5,1478.7 573.9,1471.1 574.3,1449.0 574.7,1413.2 575.1,1389.7 575.5,1382.4 575.9,1386.3 576.3,1396.4 576.7,1412.5 577.1,1425.6 577.5,1430.3 577.9,1445.5 578.3,1468.9 578.7,1484.4 579.1,1500.5 579.5,1494.3 579.9,1491.3 580.3,1476.6 580.7,1466.2 581.1,1460.0 581.5,1450.0 581.9,1431.1 582.3,1421.9 582.7,1424.5 583.1,1430.0 583.5,1446.5 583.9,1457.2 584.3,1465.1 584.7,1482.6 585.1,1489.7 585.5,1496.3 585.9,1489.8 586.3,1471.8 586.7,1435.8 587.1,1408.2 587.5,1389.2 587.9,1381.4 588.3,1384.2 588.7,1392.5 589.1,1404.7 589.5,1422.0 589.9,1448.7 590.3,1472.5 590.7,1486.2 591.1,1484.3 591.5,1485.6 591.9,1478.1 592.3,1479.0 592.7,1471.3 593.1,1461.7 593.5,1443.0 593.9,1426.8 594.3,1430.6 594.7,1430.0 595.1,1446.2 595.5,1450.0 595.9,1449.1 596.3,1462.7 596.7,1480.3 597.1,1490.4 597.5,1490.8 597.9,1485.6 598.3,1468.2 598.7,1457.7 599.1,1454.4 599.5,1446.8 599.9,1440.2 600.3,1438.2 600.7,1425.7 601.1,1435.1 601.5,1455.5 601.9,1461.4 602.3,1474.4 602.7,1478.0 603.1,1481.7 603.5,1486.3 603.9,1483.6 604.3,1476.9 604.7,1471.3 605.1,1449.9 605.5,1439.1 605.9,1427.3 606.3,1439.6 606.7,1433.7 607.1,1438.8 607.5,1442.8 607.9,1456.7 608.3,1476.5 608.7,1485.5 609.1,1493.0 609.5,1492.7 609.9,1477.8 610.3,1468.6 610.7,1462.1 611.1,1452.8 611.5,1436.9 611.9,1430.8 612.3,1425.1 612.7,1430.6 613.1,1444.0 613.5,1459.3 613.9,1463.5 614.3,1470.3 614.7,1472.6 615.1,1483.7 615.5,1494.7 615.9,1488.9 616.3,1476.6 616.7,1457.5 617.1,1438.3 617.5,1437.5 617.9,1430.1 618.3,1433.6 618.7,1430.9 619.1,1431.9 619.5,1445.0 619.9,1469.3 620.3,1481.3 620.7,1486.7 621.1,1485.1 621.5,1485.8 621.9,1478.3 622.3,1476.9 622.7,1468.2 623.1,1451.9 623.5,1432.7 623.9,1426.4 624.3,1434.0 624.7,1444.0 625.1,1454.6 625.5,1455.7 625.9,1468.5 626.3,1468.9 626.7,1473.5 627.1,1479.9 627.5,1481.4 627.9,1473.8 628.3,1466.1 628.7,1460.5 629.1,1468.4 629.5,1466.7 629.9,1467.5 630.3,1456.1 630.7,1458.1 631.1,1466.0 631.5,1457.5 631.9,1470.0 632.3,1474.2 632.7,1473.6 633.1,1471.6 633.5,1485.3 633.9,1485.9 634.3,1474.6 634.7,1459.1 635.1,1441.2 635.5,1433.2 635.9,1421.6 636.3,1430.4 636.7,1441.1 637.1,1440.0 637.5,1454.0 637.9,1465.6 638.3,1477.0 638.7,1496.2 639.1,1488.0 639.5,1495.1 639.9,1476.7 640.3,1462.3 640.7,1458.5 641.1,1440.1 641.5,1423.6 641.9,1408.9 642.3,1394.9 642.7,1384.3 643.1,1381.6 643.5,1395.6 643.9,1427.7 644.3,1454.4 644.7,1478.5 645.1,1486.5 645.5,1500.2 645.9,1494.3 646.3,1495.5 646.7,1502.8 647.1,1505.7 647.5,1495.0 647.9,1475.7 648.3,1457.0 648.7,1441.6 649.1,1442.4 649.5,1455.5 649.9,1474.5 650.3,1497.2 650.7,1497.7 651.1,1488.8 651.5,1484.4 651.9,1476.9 652.3,1469.0 652.7,1455.4 653.1,1434.7 653.5,1425.2 653.9,1413.5 654.3,1428.3 654.7,1432.5 655.1,1450.6 655.5,1459.7 655.9,1472.2 656.3,1483.8 656.7,1499.8 657.1,1504.3 657.5,1491.3 657.9,1476.5 658.3,1458.7 658.7,1446.0 659.1,1433.7 659.5,1433.4 659.9,1427.8 660.3,1431.2 660.7,1439.8 661.1,1449.0 661.5,1462.0 661.9,1478.9 662.3,1473.2 662.7,1468.5 663.1,1471.5 663.5,1476.3 663.9,1477.3 664.3,1474.5 664.7,1464.7 665.1,1458.9 665.5,1457.7 665.9,1461.3 666.3,1465.9 666.7,1465.8 667.1,1464.0 667.5,1460.8 667.9,1466.8 668.3,1475.1 668.7,1477.9 669.1,1471.8 669.5,1470.9 669.9,1467.9 670.3,1469.0 670.7,1465.7 671.1,1471.8 671.5,1461.2 671.9,1453.5 672.3,1461.7 672.7,1461.8 673.1,1468.8 673.5,1473.6 673.9,1471.8 674.3,1474.3 674.7,1473.6 675.1,1484.8 675.5,1477.7 675.9,1469.5 676.3,1454.2 676.7,1441.3 677.1,1431.5 677.5,1437.1 677.9,1432.1 678.3,1433.2 678.7,1438.8 679.1,1450.1 679.5,1463.8 679.9,1479.3 680.3,1496.5 680.7,1487.7 681.1,1486.1 681.5,1481.6 681.9,1481.9 682.3,1489.3 682.7,1496.9 683.1,1499.0 683.5,1488.4 683.9,1471.1 684.3,1456.9 684.7,1458.5 685.1,1461.7 685.5,1465.4 685.9,1472.2 686.3,1476.9 686.7,1484.5 687.1,1494.0 687.5,1478.3 687.9,1466.0 688.3,1446.2 688.7,1435.0 689.1,1440.1 689.5,1430.9 689.9,1433.7 690.3,1430.8 690.7,1439.7 691.1,1457.6 691.5,1476.6 691.9,1484.0 692.3,1483.8 692.7,1483.8 693.1,1480.4 693.5,1481.9 693.9,1470.5 694.3,1456.0 694.7,1437.5 695.1,1430.3 695.5,1426.5 695.9,1438.6 696.3,1441.7 696.7,1454.3 697.1,1460.6 697.5,1463.0 697.9,1480.3 698.3,1491.2 698.7,1496.0 699.1,1478.2 699.5,1474.3 699.9,1460.4 700.3,1453.5 700.7,1448.2 701.1,1449.3 701.5,1438.3 701.9,1433.9 702.3,1434.8 702.7,1447.6 703.1,1467.2 703.5,1472.4 703.9,1473.6 704.3,1475.9 704.7,1476.3 705.1,1474.7 705.5,1473.1 705.9,1464.0 706.3,1448.0 706.7,1439.8 707.1,1437.0 707.5,1447.5 707.9,1449.6 708.3,1443.4 708.7,1449.0 709.1,1460.7 709.5,1466.8 709.9,1475.7 710.3,1484.8 710.7,1475.3 711.1,1471.5 711.5,1466.6 711.9,1460.4 712.3,1456.5 712.7,1440.3 713.1,1434.2 713.5,1423.1 713.9,1430.5 714.3,1441.4 714.7,1462.2 715.1,1465.3 715.5,1471.5 715.9,1480.8 716.3,1482.5 716.7,1494.2 717.1,1490.5 717.5,1473.8 717.9,1453.7 718.3,1447.3 718.7,1442.2 719.1,1432.7 719.5,1434.5 719.9,1439.6 720.3,1440.0 720.7,1447.6 721.1,1465.8 721.5,1485.8 721.9,1489.2 722.3,1486.8 722.7,1486.7 723.1,1472.6 723.5,1469.5 723.9,1463.8 724.3,1451.9 724.7,1428.6 725.1,1418.0 725.5,1426.2 725.9,1441.2 726.3,1447.9 726.7,1450.7 727.1,1464.6 727.5,1474.5 727.9,1480.8 728.3,1491.6 728.7,1488.6 729.1,1476.0 729.5,1466.0 729.9,1450.3 730.3,1443.2 730.7,1434.6 731.1,1422.5 731.5,1429.7 731.9,1427.7 732.3,1438.9 732.7,1455.7 733.1,1477.2 733.5,1488.0 733.9,1485.8 734.3,1487.1 734.7,1482.4 735.1,1481.2 735.5,1473.5 735.9,1452.4 736.3,1444.5 736.7,1420.9 737.1,1422.6 737.5,1433.1 737.9,1440.6 738.3,1447.5 738.7,1452.5 739.1,1466.0 739.5,1489.1 739.9,1498.8 740.3,1499.8 740.7,1484.7 741.1,1475.5 741.5,1464.0 741.9,1454.9 742.3,1448.5 742.7,1431.7 743.1,1421.0 743.5,1422.4 743.9,1428.5 744.3,1447.6 744.7,1465.2 745.1,1475.9 745.5,1481.1 745.9,1477.3 746.3,1489.0 746.7,1487.2 747.1,1483.2 747.5,1461.4 747.9,1445.9 748.3,1437.3 748.7,1439.5 749.1,1447.4 749.5,1442.7 749.9,1456.1 750.3,1458.2 750.7,1464.4 751.1,1475.1 751.5,1482.1 751.9,1476.0 752.3,1473.9 752.7,1471.6 753.1,1472.2 753.5,1472.8 753.9,1478.4 754.3,1464.3 754.7,1458.4 755.1,1451.1 755.5,1456.0 755.9,1468.7 756.3,1453.7 756.7,1461.4 757.1,1457.8 757.5,1474.0 757.9,1480.0 758.3,1453.2 758.7,1478.8 759.1,1473.5 759.5,1455.0 759.9,1418.4 760.3,1439.1 760.7,1419.9 761.1,1438.5 761.5,1436.4 761.9,1438.7 762.3,1424.6 762.7,1450.3 763.1,1435.0 763.5,1452.5 763.9,1420.4 764.3,1416.7 764.7,1416.5 765.1,1433.2 765.5,1421.8 765.9,1422.6 766.3,1389.6 766.7,1401.2 767.1,1391.8 767.5,1384.4 767.9,1380.4 768.3,1400.6 768.7,1404.7 769.1,1416.9 769.5,1396.4 769.9,1423.1 770.3,1383.1 770.7,1414.8 771.1,1410.4 771.5,1396.4 771.9,1386.0 772.3,1395.6 772.7,1389.7 773.1,1415.9 773.5,1387.0 773.9,1411.9 774.3,1407.7 774.7,1414.7 775.1,1407.3 775.5,1412.3 775.9,1428.8 776.3,1401.8 776.7,1438.6 777.1,1467.5 777.5,1408.9 777.9,1386.9 778.3,1435.6 778.7,1409.8 779.1,1406.5 779.5,1415.2 779.9,1409.9 780.3,1410.7 780.7,1413.1 781.1,1424.6 781.5,1419.0 781.9,1438.2 782.3,1439.8 782.7,1444.0 783.1,1435.8 783.5,1450.7 783.9,1420.7 784.3,1416.0 784.7,1403.5 785.1,1427.9 785.5,1413.2 785.9,1427.8 786.3,1408.7 786.7,1429.6 787.1,1434.5 787.5,1450.9 787.9,1429.0 788.3,1448.4 788.7,1419.6 789.1,1427.9 789.5,1451.8 789.9,1432.5 790.3,1434.2 790.7,1422.8 791.1,1428.0 791.5,1430.6 791.9,1442.8 792.3,1453.9 792.7,1477.1 793.1,1488.5 793.5,1491.2 793.9,1488.5 794.3,1486.5 794.7,1480.1 795.1,1471.5 795.5,1456.6 795.9,1431.5 796.3,1422.2 796.7,1427.1 797.1,1430.4 797.5,1440.8 797.9,1452.5 798.3,1459.7 798.7,1470.0 799.1,1480.2 799.5,1496.8 799.9,1489.1 800.3,1467.9 800.7,1446.9 801.1,1424.4 801.5,1406.4 801.9,1399.7 802.3,1401.4 802.7,1407.0 803.1,1409.7 803.5,1422.4 803.9,1443.1 804.3,1462.5 804.7,1475.5 805.1,1490.4 805.5,1486.1 805.9,1488.2 806.3,1490.4 806.7,1479.3 807.1,1465.3 807.5,1445.7 807.9,1429.6 808.3,1421.1 808.7,1424.8 809.1,1419.1 809.5,1411.5 809.9,1406.4 810.3,1409.1 810.7,1425.6 811.1,1449.2 811.5,1472.5 811.9,1479.8 812.3,1473.3 812.7,1465.7 813.1,1465.8 813.5,1455.5 813.9,1442.9 814.3,1428.0 814.7,1419.9 815.1,1423.4 815.5,1444.7 815.9,1459.1 816.3,1468.5 816.7,1468.9 817.1,1463.5 817.5,1475.2 817.9,1480.8 818.3,1480.9 818.7,1472.2 819.1,1465.5 819.5,1460.5 819.9,1461.1 820.3,1471.9 820.7,1462.4 821.1,1459.2 821.5,1454.9 821.9,1461.0 822.3,1467.8 822.7,1477.4 823.1,1476.1 823.5,1474.5 823.9,1464.0 824.3,1469.0 824.7,1469.1 825.1,1472.3 825.5,1463.8 825.9,1455.7 826.3,1444.3 826.7,1444.7 827.1,1448.4 827.5,1453.2 827.9,1462.1 828.3,1461.2 828.7,1471.0 829.1,1481.6 829.5,1487.9 829.9,1490.5 830.3,1481.3 830.7,1460.1 831.1,1454.4 831.5,1441.7 831.9,1437.9 832.3,1437.4 832.7,1425.9 833.1,1433.4 833.5,1439.1 833.9,1461.3 834.3,1476.5 834.7,1479.0 835.1,1474.4 835.5,1458.2 835.9,1438.2 836.3,1407.9 836.7,1388.4 837.1,1384.2 837.5,1391.4 837.9,1399.5 838.3,1411.2 838.7,1422.8 839.1,1437.8 839.5,1445.3 839.9,1453.1 840.3,1471.5 840.7,1481.1 841.1,1497.0 841.5,1499.1 841.9,1481.0 842.3,1470.6 842.7,1459.2 843.1,1454.5 843.5,1446.0 843.9,1429.0 844.3,1423.2 844.7,1418.2 845.1,1438.0 845.5,1451.4 845.9,1465.3 846.3,1482.0 846.7,1480.6 847.1,1486.1 847.5,1495.8 847.9,1488.7 848.3,1478.2 848.7,1462.6 849.1,1444.6 849.5,1434.6 849.9,1426.4 850.3,1432.5 850.7,1433.1 851.1,1439.0 851.5,1448.4 851.9,1459.2 852.3,1476.7 852.7,1489.6 853.1,1493.5 853.5,1488.0 853.9,1477.8 854.3,1477.3 854.7,1463.7 855.1,1450.4 855.5,1433.1 855.9,1420.9 856.3,1419.2 856.7,1428.5 857.1,1442.6 857.5,1456.9 857.9,1470.2 858.3,1470.9 858.7,1483.1 859.1,1491.8 859.5,1500.4 859.9,1492.3 860.3,1471.5 860.7,1454.6 861.1,1443.3 861.5,1435.0 861.9,1430.5 862.3,1426.2 862.7,1424.9 863.1,1433.2 863.5,1454.9 863.9,1471.0 864.3,1485.2 864.7,1495.5 865.1,1489.1 865.5,1486.4 865.9,1481.9 866.3,1472.3 866.7,1463.1 867.1,1446.4 867.5,1420.5 867.9,1416.5 868.3,1423.3 868.7,1436.5 869.1,1445.9 869.5,1455.1 869.9,1471.6 870.3,1478.8 870.7,1495.7 871.1,1508.2 871.5,1500.8 871.9,1483.2 872.3,1463.5 872.7,1453.8 873.1,1440.8 873.5,1433.5 873.9,1426.5 874.3,1420.0 874.7,1418.0 875.1,1443.0 875.5,1458.7 875.9,1477.8 876.3,1481.7 876.7,1486.1 877.1,1495.6 877.5,1489.6 877.9,1491.6 878.3,1469.9 878.7,1450.6 879.1,1433.9 879.5,1417.0 879.9,1425.2 880.3,1431.2 880.7,1431.6 881.1,1437.7 881.5,1448.0 881.9,1466.5 882.3,1488.0 882.7,1498.9 883.1,1496.7 883.5,1485.0 883.9,1476.3 884.3,1463.9 884.7,1457.9 885.1,1435.8 885.5,1419.5 885.9,1413.7 886.3,1422.7 886.7,1431.8 887.1,1455.9 887.5,1470.3 887.9,1475.7 888.3,1480.7 888.7,1492.4 889.1,1497.4 889.5,1494.5 889.9,1484.0 890.3,1460.2 890.7,1441.4 891.1,1434.7 891.5,1430.8 891.9,1429.5 892.3,1423.7 892.7,1428.3 893.1,1441.0 893.5,1467.5 893.9,1477.5 894.3,1499.4 894.7,1494.4 895.1,1487.7 895.5,1487.3 895.9,1481.3 896.3,1468.1 896.7,1450.7 897.1,1429.9 897.5,1420.5 897.9,1417.6 898.3,1429.9 898.7,1439.0 899.1,1451.0 899.5,1459.4 899.9,1473.3 900.3,1482.8 900.7,1499.0 901.1,1490.4 901.5,1480.3 901.9,1463.6 902.3,1454.3 902.7,1448.7 903.1,1460.3 903.5,1466.3 903.9,1463.8 904.3,1453.6 904.7,1458.1 905.1,1469.8 905.5,1476.1 905.9,1477.6 906.3,1471.3 906.7,1472.2 907.1,1475.5 907.5,1476.3 907.9,1478.9 908.3,1469.5 908.7,1461.3 909.1,1460.1 909.5,1454.8 909.9,1457.2 910.3,1451.3 910.7,1451.8 911.1,1456.1 911.5,1458.8 911.9,1474.6 912.3,1488.8 912.7,1496.6 913.1,1481.6 913.5,1480.4 913.9,1464.5 914.3,1461.1 914.7,1448.4 915.1,1445.8 915.5,1448.1 915.9,1458.4 916.3,1486.1 916.7,1501.5 917.1,1504.5 917.5,1500.0 917.9,1492.3 918.3,1490.7 918.7,1491.7 919.1,1496.4 919.5,1486.3 919.9,1468.9 920.3,1454.6 920.7,1438.5 921.1,1432.1 921.5,1431.7 921.9,1425.7 922.3,1434.0 922.7,1437.6 923.1,1452.4 923.5,1471.0 923.9,1486.3 924.3,1493.8 924.7,1486.8 925.1,1482.0 925.5,1472.5 925.9,1461.2 926.3,1446.6 926.7,1422.9 927.1,1400.1 927.5,1387.8 927.9,1381.4 928.3,1384.4 928.7,1400.0 929.1,1423.6 929.5,1446.2 929.9,1469.2 930.3,1482.2 930.7,1493.2 931.1,1498.1 931.5,1498.3 931.9,1501.1 932.3,1498.3 932.7,1482.7 933.1,1456.7 933.5,1431.7 933.9,1413.6 934.3,1408.4 934.7,1415.3 935.1,1439.0 935.5,1464.8 935.9,1473.6 936.3,1479.6 936.7,1482.1 937.1,1475.1 937.5,1454.5 937.9,1425.3 938.3,1400.5 938.7,1384.0 939.1,1381.3 939.5,1387.9 939.9,1401.1 940.3,1425.3 940.7,1437.2 941.1,1452.9 941.5,1464.8 941.9,1483.1 942.3,1488.5 942.7,1485.8 943.1,1479.0 943.5,1467.2 943.9,1457.5 944.3,1450.3 944.7,1450.7 945.1,1425.4 945.5,1425.6 945.9,1430.1 946.3,1437.2 946.7,1452.9 947.1,1468.4 947.5,1476.5 947.9,1483.8 948.3,1483.1 948.7,1488.0 949.1,1488.9 949.5,1480.5 949.9,1463.6 950.3,1443.3 950.7,1433.3 951.1,1424.3 951.5,1439.6 951.9,1437.0 952.3,1445.1 952.7,1447.1 953.1,1459.9 953.5,1476.4 953.9,1489.2 954.3,1495.9 954.7,1484.0 955.1,1482.8 955.5,1468.9 955.9,1463.8 956.3,1451.1 956.7,1434.6 957.1,1431.7 957.5,1437.1 957.9,1442.3 958.3,1455.1 958.7,1463.5 959.1,1467.0 959.5,1470.9 959.9,1471.4 960.3,1474.2 960.7,1478.4 961.1,1477.9 961.5,1470.8 961.9,1461.2 962.3,1460.3 962.7,1462.6 963.1,1465.3 963.5,1466.1 963.9,1455.1 964.3,1455.5 964.7,1447.8 965.1,1430.3 965.5,1404.0 965.9,1388.5 966.3,1393.5 966.7,1414.1 967.1,1440.1 967.5,1456.9 967.9,1472.1 968.3,1463.1 968.7,1455.0 969.1,1453.6 969.5,1461.8 969.9,1467.4 970.3,1470.0 970.7,1470.8 971.1,1465.7 971.5,1468.9 971.9,1475.9 972.3,1478.8 972.7,1481.1 973.1,1473.0 973.5,1463.6 973.9,1468.5 974.3,1462.6 974.7,1471.9 975.1,1464.1 975.5,1459.5 975.9,1455.3 976.3,1465.9 976.7,1471.8 977.1,1476.5 977.5,1474.6 977.9,1469.7 978.3,1468.2 978.7,1474.1 979.1,1478.2 979.5,1477.4 979.9,1467.5 980.3,1462.7 980.7,1454.5 981.1,1466.4 981.5,1461.3 981.9,1457.4 982.3,1444.2 982.7,1450.6 983.1,1465.7 983.5,1469.2 983.9,1464.8 984.3,1445.7 984.7,1430.0 985.1,1426.9 985.5,1432.2 985.9,1436.2 986.3,1435.5 986.7,1427.9 987.1,1418.1 987.5,1415.5 987.9,1428.7 988.3,1448.8 988.7,1466.4 989.1,1473.4 989.5,1484.0 989.9,1502.9 990.3,1500.9 990.7,1502.3 991.1,1483.0 991.5,1463.7 991.9,1439.2 992.3,1429.2 992.7,1425.6 993.1,1427.5 993.5,1422.4 993.9,1433.0 994.3,1443.8 994.7,1466.3 995.1,1485.4 995.5,1493.3 995.9,1501.5 996.3,1484.1 996.7,1479.2 997.1,1475.2 997.5,1466.2 997.9,1446.7 998.3,1428.0 998.7,1419.0 999.1,1420.7 999.5,1434.1 999.9,1443.9 1000.3,1458.8 1000.7,1462.7 1001.1,1475.3 1001.5,1493.9 1001.9,1498.6 1002.3,1501.7 1002.7,1491.6 1003.1,1469.8 1003.5,1456.5 1003.9,1439.5 1004.3,1437.5 1004.7,1430.4 1005.1,1422.8 1005.5,1423.4 1005.9,1435.9 1006.3,1450.4 1006.7,1478.8 1007.1,1488.8 1007.5,1486.0 1007.9,1488.1 1008.3,1483.7 1008.7,1486.8 1009.1,1475.1 1009.5,1461.1 1009.9,1439.0 1010.3,1476.0 1010.7,1466.8 1011.1,1435.7 1011.5,1451.0 1011.9,1463.5 1012.3,1460.6 1012.7,1451.2 1013.1,1431.9 1013.5,1424.4 1013.9,1442.9 1014.3,1446.5 1014.7,1430.8 1015.1,1437.5 1015.5,1436.2 1015.9,1438.6 1016.3,1429.2 1016.7,1404.3 1017.1,1408.6 1017.5,1402.0 1017.9,1389.0 1018.3,1424.9 1018.7,1402.1 1019.1,1426.9 1019.5,1433.1 1019.9,1389.7 1020.3,1426.8 1020.7,1414.2 1021.1,1403.9 1021.5,1384.9 1021.9,1391.1 1022.3,1385.3 1022.7,1407.3 1023.1,1382.5 1023.5,1400.6 1023.9,1388.0 1024.3,1392.9 1024.7,1409.9 1025.1,1387.7 1025.5,1395.2 1025.9,1389.3 1026.3,1403.2 1026.7,1404.8 1027.1,1409.4 1027.5,1408.3 1027.9,1415.3 1028.3,1383.3 1028.7,1386.5 1029.1,1393.5 1029.5,1380.9 1029.9,1393.5 1030.3,1407.8 1030.7,1385.5 1031.1,1389.8 1031.5,1394.4 1031.9,1394.4 1032.3,1383.2 1032.7,1395.0 1033.1,1383.4 1033.5,1388.3 1033.9,1386.9 1034.3,1386.5 1034.7,1403.2 1035.1,1381.7 1035.5,1389.1 1035.9,1391.4 1036.3,1385.3 1036.7,1400.1 1037.1,1427.1 1037.5,1426.7 1037.9,1415.4 1038.3,1408.7 1038.7,1389.8 1039.1,1384.2 1039.5,1404.1 1039.9,1419.8 1040.3,1401.3 1040.7,1382.4 1041.1,1388.5 1041.5,1393.2 1041.9,1401.8 1042.3,1400.7 1042.7,1390.5 1043.1,1381.5 1043.5,1432.3 1043.9,1415.9 1044.3,1379.7 1044.7,1423.3 1045.1,1393.0 1045.5,1401.8 1045.9,1431.7 1046.3,1423.5 1046.7,1401.9 1047.1,1400.0 1047.5,1401.6 1047.9,1413.4 1048.3,1420.9 1048.7,1431.6 1049.1,1454.8 1049.5,1399.0 1049.9,1395.4 1050.3,1490.5 1050.7,1472.0 1051.1,1459.0 1051.5,1445.6 1051.9,1429.1 1052.3,1427.1 1052.7,1431.5 1053.1,1427.2 1053.5,1439.6 1053.9,1449.5 1054.3,1467.1 1054.7,1483.8 1055.1,1496.2 1055.5,1495.8 1055.9,1484.5 1056.3,1478.9 1056.7,1463.4 1057.1,1458.2 1057.5,1456.2 1057.9,1444.2 1058.3,1437.4 1058.7,1441.9 1059.1,1460.7 1059.5,1466.4 1059.9,1473.2 1060.3,1476.1 1060.7,1471.1 1061.1,1470.9 1061.5,1468.0 1061.9,1475.6 1062.3,1469.1 1062.7,1453.3 1063.1,1433.5 1063.5,1419.0 1063.9,1410.0 1064.3,1413.0 1064.7,1428.6 1065.1,1440.3 1065.5,1445.6 1065.9,1458.1 1066.3,1463.8 1066.7,1467.5 1067.1,1445.5 1067.5,1431.4 1067.9,1423.6 1068.3,1426.0 1068.7,1437.9 1069.1,1454.3 1069.5,1457.5 1069.9,1453.5 1070.3,1459.7 1070.7,1462.3 1071.1,1465.5 1071.5,1469.1 1071.9,1466.7 1072.3,1465.2 1072.7,1468.2 1073.1,1475.2 1073.5,1481.6 1073.9,1468.5 1074.3,1465.9"/></g>
<path d="M204.8,1294.0v7M204.8,1634.0v-7M259.3,1294.0v3.6M259.3,1634.0v-3.6M313.7,1294.0v3.6M313.7,1634.0v-3.6M368.2,1294.0v7M368.2,1634.0v-7M422.7,1294.0v3.6M422.7,1634.0v-3.6M477.1,1294.0v3.6M477.1,1634.0v-3.6M531.6,1294.0v7M531.6,1634.0v-7M586.0,1294.0v3.6M586.0,1634.0v-3.6M640.5,1294.0v3.6M640.5,1634.0v-3.6M695.0,1294.0v7M695.0,1634.0v-7M749.4,1294.0v3.6M749.4,1634.0v-3.6M803.9,1294.0v3.6M803.9,1634.0v-3.6M858.3,1294.0v7M858.3,1634.0v-7M912.8,1294.0v3.6M912.8,1634.0v-3.6M967.2,1294.0v3.6M967.2,1634.0v-3.6M1021.7,1294.0v7M1021.7,1634.0v-7" stroke="#1a1a1a" stroke-width="1" fill="none"/>
<rect x="163.5" y="1294.0" width="911.0" height="340.0" fill="none" stroke="#1a1a1a" stroke-width="1.1"/>
<text x="156.3" y="1634.2" font-size="17" class="h" text-anchor="end" >0</text>
<text x="156.3" y="1572.1" font-size="17" class="h" text-anchor="end" >1</text>
<text x="156.3" y="1504.1" font-size="17" class="h" text-anchor="end" >2</text>
<text x="156.3" y="1436.1" font-size="17" class="h" text-anchor="end" >3</text>
<text x="156.3" y="1368.1" font-size="17" class="h" text-anchor="end" >4</text>
<text x="156.3" y="1306" font-size="17" class="h" text-anchor="end" >5</text>
<text x="131.5" y="1464" font-size="18" class="h" text-anchor="middle" textLength="163" lengthAdjust="spacingAndGlyphs" transform="rotate(-90 131.5 1464)" >SphinX count rate</text>
<text x="1111" y="1464" font-size="18" class="h" text-anchor="middle" textLength="76" lengthAdjust="spacingAndGlyphs" transform="rotate(-90 1111 1464)" >Log(cps)</text>
<text x="204.8" y="1655.3" font-size="17" class="h" text-anchor="middle" textLength="47" lengthAdjust="spacingAndGlyphs" >15:00</text>
<text x="368.2" y="1655.3" font-size="17" class="h" text-anchor="middle" textLength="47" lengthAdjust="spacingAndGlyphs" >16:00</text>
<text x="531.6" y="1655.3" font-size="17" class="h" text-anchor="middle" textLength="47" lengthAdjust="spacingAndGlyphs" >17:00</text>
<text x="695" y="1655.3" font-size="17" class="h" text-anchor="middle" textLength="47" lengthAdjust="spacingAndGlyphs" >18:00</text>
<text x="858.3" y="1655.3" font-size="17" class="h" text-anchor="middle" textLength="47" lengthAdjust="spacingAndGlyphs" >19:00</text>
<text x="1021.7" y="1655.3" font-size="17" class="h" text-anchor="middle" textLength="47" lengthAdjust="spacingAndGlyphs" >20:00</text>
<text x="618.3" y="1675" font-size="18.5" class="h" text-anchor="middle" textLength="308" lengthAdjust="spacingAndGlyphs" >Start Time (17−Apr−09 14:44:49)</text>
<text x="194.2" y="1693" font-size="12" fill="#000" textLength="850" lengthAdjust="spacingAndGlyphs" >file: ///home1/sphinx/sphinx_all_files_temp/SPHINXsci_090417_144449_201923.ps generated by sphinx_sav2sci_ps.pro Sat Jul 11 03:46:59 2009UTC+2</text>
</svg></body></html>
